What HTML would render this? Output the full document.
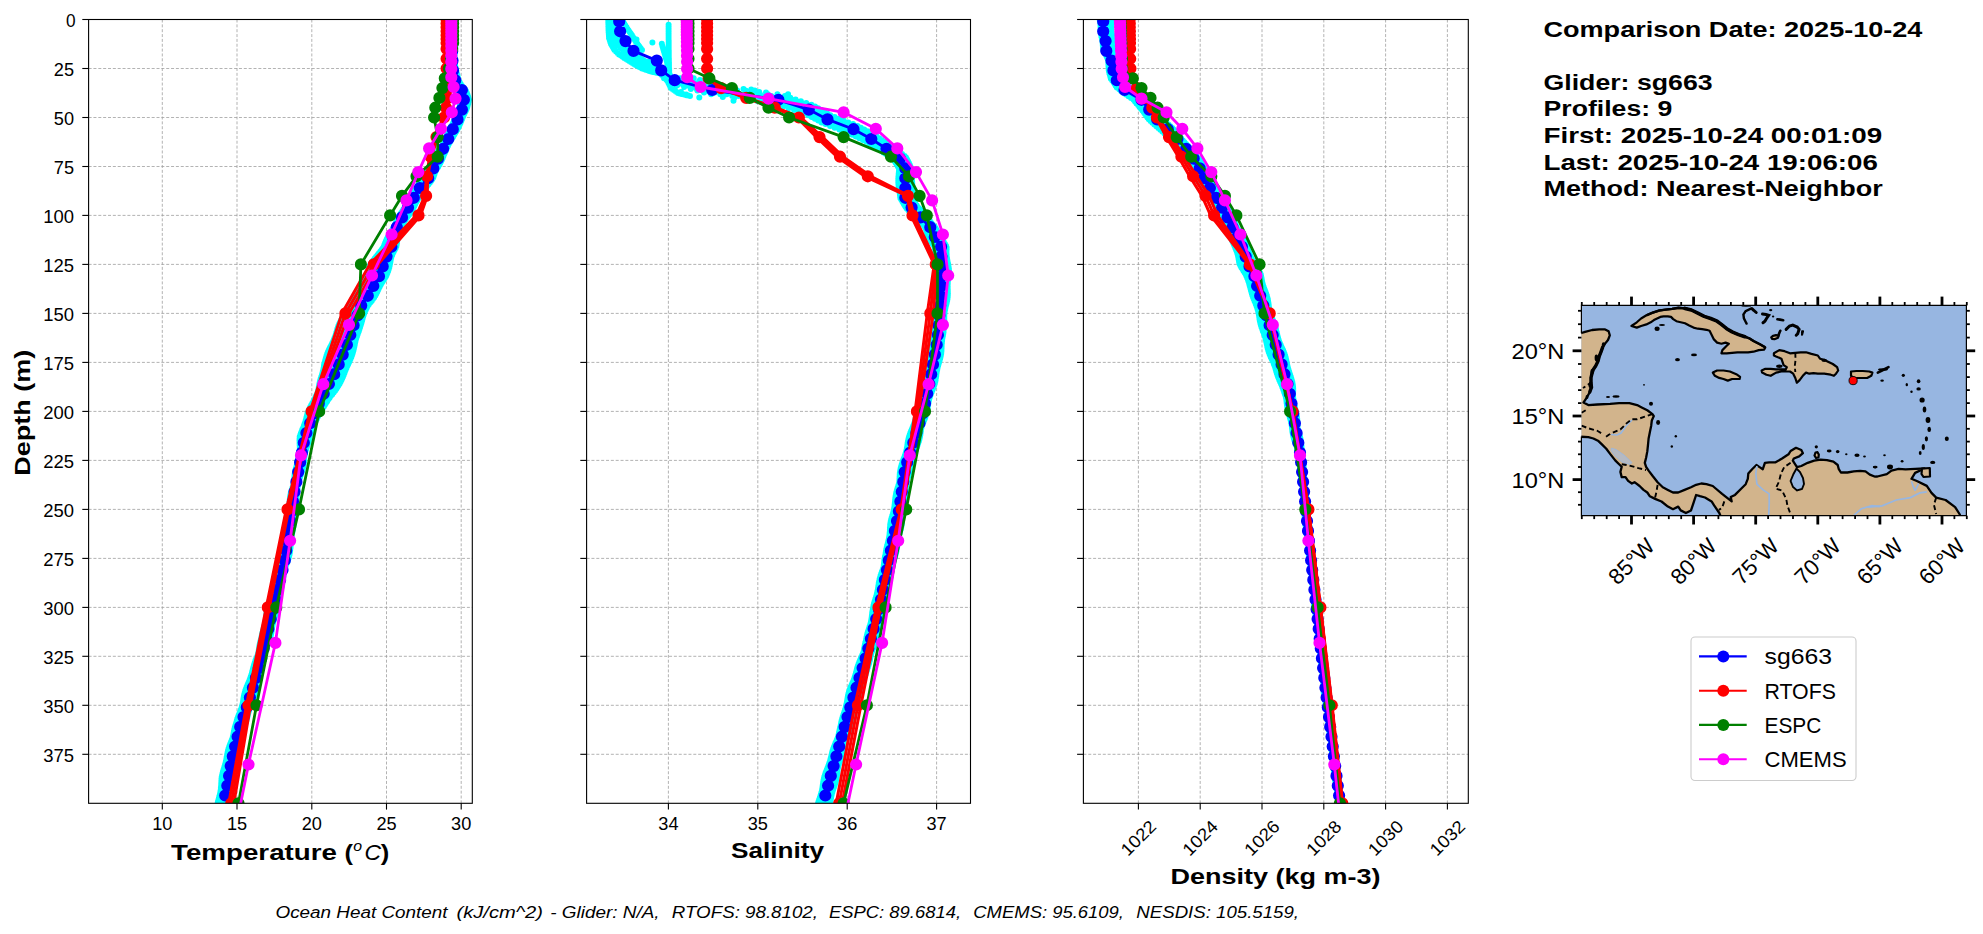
<!DOCTYPE html><html><head><meta charset="utf-8"><style>html,body{margin:0;padding:0;background:#fff;overflow:hidden}svg{display:block}text{font-family:"Liberation Sans", sans-serif;fill:#000}.g{stroke:#a0a0a0;stroke-width:0.8;stroke-dasharray:3 1.85;fill:none}.sp{fill:none;stroke:#000;stroke-width:1.1}.tk{stroke:#000;stroke-width:1.1}</style></head><body>
<svg width="1983" height="934" viewBox="0 0 1983 934">
<defs>
<clipPath id="c1"><rect x="88.6" y="19.5" width="383.7" height="783.8"/></clipPath>
<clipPath id="c2"><rect x="586.6" y="19.5" width="383.9" height="783.8"/></clipPath>
<clipPath id="c3"><rect x="1083.4" y="19.5" width="384.9" height="783.8"/></clipPath>
</defs>
<line x1="162.3" y1="19.5" x2="162.3" y2="803.3" class="g"/>
<line x1="237" y1="19.5" x2="237" y2="803.3" class="g"/>
<line x1="311.8" y1="19.5" x2="311.8" y2="803.3" class="g"/>
<line x1="386.5" y1="19.5" x2="386.5" y2="803.3" class="g"/>
<line x1="461.2" y1="19.5" x2="461.2" y2="803.3" class="g"/>
<line x1="88.6" y1="68.5" x2="472.3" y2="68.5" class="g"/>
<line x1="88.6" y1="117.5" x2="472.3" y2="117.5" class="g"/>
<line x1="88.6" y1="166.5" x2="472.3" y2="166.5" class="g"/>
<line x1="88.6" y1="215.4" x2="472.3" y2="215.4" class="g"/>
<line x1="88.6" y1="264.4" x2="472.3" y2="264.4" class="g"/>
<line x1="88.6" y1="313.4" x2="472.3" y2="313.4" class="g"/>
<line x1="88.6" y1="362.4" x2="472.3" y2="362.4" class="g"/>
<line x1="88.6" y1="411.4" x2="472.3" y2="411.4" class="g"/>
<line x1="88.6" y1="460.4" x2="472.3" y2="460.4" class="g"/>
<line x1="88.6" y1="509.4" x2="472.3" y2="509.4" class="g"/>
<line x1="88.6" y1="558.4" x2="472.3" y2="558.4" class="g"/>
<line x1="88.6" y1="607.4" x2="472.3" y2="607.4" class="g"/>
<line x1="88.6" y1="656.3" x2="472.3" y2="656.3" class="g"/>
<line x1="88.6" y1="705.3" x2="472.3" y2="705.3" class="g"/>
<line x1="88.6" y1="754.3" x2="472.3" y2="754.3" class="g"/>
<g clip-path="url(#c1)">
<path d="M449.1 20.5h0M449.4 22.2h0M449.6 24h0M449.8 25.8h0M449.9 27.5h0M449.9 29.3h0M449.8 31.1h0M449.7 32.8h0M449.5 34.6h0M449.4 36.4h0M449.3 38.1h0M449.2 39.9h0M449.3 41.6h0M449.4 43.4h0M449.5 45.2h0M449.7 46.9h0M449.9 48.7h0M450.1 50.5h0M450.2 52.2h0M450.3 54h0M450.3 55.8h0M450.1 57.5h0M450 59.3h0M449.7 61h0M449.5 62.8h0M449.3 64.6h0M449.2 66.3h0M449.1 68.1h0M449.1 69.9h0M449.3 71.6h0M449.8 73.4h0M450.3 75.1h0M450.9 76.9h0M451.4 78.7h0M452 80.4h0M453.3 82.2h0M454.5 84h0M455.6 85.7h0M456.7 87.5h0M457.8 89.3h0M458.4 91h0M458.6 92.8h0M458.9 94.5h0M459.2 96.3h0M459.6 98.1h0M460.1 99.8h0M460 101.6h0M459.9 103.4h0M459.9 105.1h0M459.8 106.9h0M459.7 108.7h0M459.3 110.4h0M458.6 112.2h0M457.9 113.9h0M457 115.7h0M456.1 117.5h0M455.1 119.2h0M454.2 121h0M453.2 122.8h0M452.3 124.5h0M451.4 126.3h0M450.7 128.1h0M449.9 129.8h0M449.3 131.6h0M448.6 133.3h0M447.9 135.1h0M447.2 136.9h0M446.4 138.6h0M445.4 140.4h0M444.3 142.2h0M443.1 143.9h0M441.9 145.7h0M440.6 147.5h0M439.4 149.2h0M438.2 151h0M437.1 152.7h0M436 154.5h0M435.1 156.3h0M434.2 158h0M433.4 159.8h0M432.6 161.6h0M431.9 163.3h0M431.1 165.1h0M430.3 166.9h0M429.4 168.6h0M428.4 170.4h0M427.4 172.1h0M426.3 173.9h0M425.2 175.7h0M424.1 177.4h0M422.8 179.2h0M421.2 181h0M419.8 182.7h0M418.4 184.5h0M417.1 186.3h0M415.8 188h0M415 189.8h0M414.2 191.5h0M413.4 193.3h0M412.5 195.1h0M411.5 196.8h0M410.5 198.6h0M409.4 200.4h0M408.2 202.1h0M407.1 203.9h0M405.9 205.7h0M404.7 207.4h0M403.5 209.2h0M402.5 210.9h0M401.4 212.7h0M400.5 214.5h0M399.5 216.2h0M398.6 218h0M397.8 219.8h0M397 221.5h0M396.1 223.3h0M395.1 225.1h0M394 226.8h0M393 228.6h0M392 230.3h0M391 232.1h0M390 233.9h0M388.9 235.6h0M387.6 237.4h0M386.7 239.2h0M385.9 240.9h0M385.2 242.7h0M384.5 244.5h0M383.9 246.2h0M382.9 248h0M381.6 249.7h0M380.3 251.5h0M378.9 253.3h0M377.5 255h0M376 256.8h0M374.7 258.6h0M373.4 260.3h0M372.1 262.1h0M370.8 263.8h0M369.9 265.6h0M369.2 267.4h0M368.6 269.1h0M368 270.9h0M367.5 272.7h0M367.1 274.4h0M366.6 276.2h0M365.8 278h0M364.9 279.7h0M363.9 281.5h0M362.9 283.2h0M361.8 285h0M360.6 286.8h0M359.5 288.5h0M358.3 290.3h0M357.1 292.1h0M356 293.8h0M354.9 295.6h0M353.7 297.4h0M352.6 299.1h0M351.5 300.9h0M350.4 302.6h0M349.3 304.4h0M348.4 306.2h0M347.7 307.9h0M346.9 309.7h0M346 311.5h0M345.1 313.2h0M344.1 315h0M343.1 316.8h0M342.1 318.5h0M341.1 320.3h0M340.2 322h0M339.3 323.8h0M338.5 325.6h0M337.9 327.3h0M337.3 329.1h0M336.8 330.9h0M336.3 332.6h0M335.8 334.4h0M335.2 336.2h0M334.5 337.9h0M333.8 339.7h0M333.1 341.4h0M332.2 343.2h0M331.4 345h0M330.4 346.7h0M329.5 348.5h0M328.7 350.3h0M327.9 352h0M327.2 353.8h0M326.6 355.6h0M326.1 357.3h0M325.6 359.1h0M325.1 360.8h0M324.7 362.6h0M324.1 364.4h0M323.9 366.1h0M323.6 367.9h0M323.3 369.7h0M322.8 371.4h0M322.4 373.2h0M321.9 375h0M321.3 376.7h0M320.7 378.5h0M320.2 380.2h0M319.8 382h0M319.4 383.8h0M319.1 385.5h0M318.8 387.3h0M318.5 389.1h0M318.1 390.8h0M317.6 392.6h0M316.8 394.4h0M316 396.1h0M315.2 397.9h0M314.2 399.6h0M313.3 401.4h0M312.3 403.2h0M311.3 404.9h0M310.4 406.7h0M309.6 408.5h0M308.8 410.2h0M308.1 412h0M307.4 413.8h0M307 415.5h0M306.5 417.3h0M306.1 419h0M305.6 420.8h0M305.1 422.6h0M304.4 424.3h0M303.8 426.1h0M303.1 427.9h0M302.3 429.6h0M301.6 431.4h0M300.9 433.2h0M300.3 434.9h0M299.7 436.7h0M299.6 438.4h0M299.5 440.2h0M299.6 442h0M299.6 443.7h0M299.7 445.5h0M299.8 447.3h0M299.8 449h0M299.8 450.8h0M299.5 452.5h0M299.2 454.3h0M298.8 456.1h0M298.4 457.8h0M298 459.6h0M297.5 461.4h0M297.1 463.1h0M296.8 464.9h0M296.5 466.7h0M296.3 468.4h0M296.1 470.2h0M296 471.9h0M295.9 473.7h0M295.7 475.5h0M295.5 477.2h0M295.1 479h0M294.7 480.8h0M294.3 482.5h0M293.7 484.3h0M293.1 486.1h0M292.5 487.8h0M291.9 489.6h0M291.3 491.3h0M290.8 493.1h0M290.4 494.9h0M290.1 496.6h0M289.9 498.4h0M289.7 500.2h0M289.6 501.9h0M289.5 503.7h0M289.3 505.5h0M289 507.2h0M288.7 509h0M288.4 510.7h0M288 512.5h0M287.5 514.3h0M287.1 516h0M286.7 517.8h0M286.3 519.6h0M286 521.3h0M285.9 523.1h0M285.8 524.9h0M285.7 526.6h0M285.7 528.4h0M285.8 530.1h0M285.8 531.9h0M285.8 533.7h0M285.7 535.4h0M285.6 537.2h0M285.4 539h0M285.1 540.7h0M284.8 542.5h0M284.4 544.3h0M284.1 546h0M283.8 547.8h0M283.5 549.5h0M283.2 551.3h0M283 553.1h0M282.9 554.8h0M282.8 556.6h0M282.7 558.4h0M282.5 560.1h0M282.2 561.9h0M281.8 563.7h0M281.2 565.4h0M280.6 567.2h0M279.9 568.9h0M279.2 570.7h0M278.4 572.5h0M277.7 574.2h0M276.9 576h0M276.3 577.8h0M275.7 579.5h0M275.2 581.3h0M274.7 583.1h0M274.3 584.8h0M273.9 586.6h0M273.5 588.3h0M273.1 590.1h0M272.6 591.9h0M272.1 593.6h0M271.5 595.4h0M270.8 597.2h0M270.1 598.9h0M269.5 600.7h0M268.8 602.5h0M268.2 604.2h0M267.6 606h0M267.2 607.7h0M266.9 609.5h0M266.6 611.3h0M266.5 613h0M266.3 614.8h0M266.1 616.6h0M266 618.3h0M265.7 620.1h0M265.4 621.9h0M265 623.6h0M264.5 625.4h0M264 627.1h0M263.5 628.9h0M263 630.7h0M262.5 632.4h0M262 634.2h0M261.7 636h0M261.4 637.7h0M261.1 639.5h0M260.9 641.2h0M260.6 643h0M260.4 644.8h0M260.1 646.5h0M259.7 648.3h0M259.3 650.1h0M258.8 651.8h0M258.1 653.6h0M257.5 655.4h0M256.8 657.1h0M256.1 658.9h0M255.4 660.6h0M254.8 662.4h0M254.2 664.2h0M253.7 665.9h0M253.2 667.7h0M252.8 669.5h0M252.3 671.2h0M251.9 673h0M251.4 674.8h0M250.8 676.5h0M250.2 678.3h0M249.6 680h0M248.9 681.8h0M248.1 683.6h0M247.4 685.3h0M246.6 687.1h0M245.9 688.9h0M245.3 690.6h0M244.8 692.4h0M244.3 694.2h0M243.9 695.9h0M243.6 697.7h0M243.3 699.4h0M243.1 701.2h0M242.8 703h0M242.4 704.7h0M241.9 706.5h0M241.4 708.3h0M240.7 710h0M240.1 711.8h0M239.4 713.6h0M238.6 715.3h0M238 717.1h0M237.3 718.8h0M236.8 720.6h0M236.3 722.4h0M235.8 724.1h0M235.5 725.9h0M235.2 727.7h0M234.9 729.4h0M234.6 731.2h0M234.2 733h0M233.8 734.7h0M233.2 736.5h0M232.6 738.2h0M231.8 740h0M231.1 741.8h0M230.4 743.5h0M229.7 745.3h0M229.1 747.1h0M228.5 748.8h0M228 750.6h0M227.6 752.4h0M227.3 754.1h0M227 755.9h0M226.6 757.6h0M226.3 759.4h0M225.9 761.2h0M225.5 762.9h0M225 764.7h0M224.5 766.5h0M224 768.2h0M223.4 770h0M222.9 771.8h0M222.5 773.5h0M222.1 775.3h0M221.7 777h0M221.5 778.8h0M221.4 780.6h0M221.3 782.3h0M221.2 784.1h0M221.1 785.9h0M220.9 787.6h0M220.8 789.4h0M220.5 791.2h0M220.2 792.9h0M219.8 794.7h0M219.3 796.4h0M218.9 798.2h0M218.4 800h0M217.9 801.7h0M217.6 803.5h0M455.9 20.5h0M455.7 22.2h0M455.5 24h0M455.3 25.8h0M455.2 27.5h0M455.2 29.3h0M455.2 31.1h0M455.2 32.8h0M455.3 34.6h0M455.4 36.4h0M455.5 38.1h0M455.6 39.9h0M455.6 41.6h0M455.6 43.4h0M455.5 45.2h0M455.3 46.9h0M455.1 48.7h0M454.9 50.5h0M454.6 52.2h0M454.5 54h0M454.3 55.8h0M454.3 57.5h0M454.3 59.3h0M454.5 61h0M454.7 62.8h0M454.9 64.6h0M455.2 66.3h0M455.4 68.1h0M455.6 69.9h0M456 71.6h0M456.4 73.4h0M456.8 75.1h0M457.1 76.9h0M457.4 78.7h0M457.9 80.4h0M459.1 82.2h0M460.5 84h0M461.8 85.7h0M463.3 87.5h0M464.8 89.3h0M466 91h0M466.7 92.8h0M467.4 94.5h0M468 96.3h0M468.5 98.1h0M469 99.8h0M468.7 101.6h0M468.3 103.4h0M467.8 105.1h0M467.3 106.9h0M466.7 108.7h0M466 110.4h0M465.1 112.2h0M464.2 113.9h0M463.4 115.7h0M462.7 117.5h0M462 119.2h0M461.3 121h0M460.6 122.8h0M459.8 124.5h0M459 126.3h0M458.1 128.1h0M457.2 129.8h0M456.2 131.6h0M455.1 133.3h0M454.1 135.1h0M453 136.9h0M451.9 138.6h0M450.8 140.4h0M449.8 142.2h0M448.8 143.9h0M448 145.7h0M447.2 147.5h0M446.4 149.2h0M445.7 151h0M444.9 152.7h0M444.1 154.5h0M443.3 156.3h0M442.4 158h0M441.5 159.8h0M440.6 161.6h0M439.6 163.3h0M438.6 165.1h0M437.7 166.9h0M436.8 168.6h0M436 170.4h0M435.2 172.1h0M434.5 173.9h0M433.9 175.7h0M433.3 177.4h0M432.3 179.2h0M431.1 181h0M429.8 182.7h0M428.4 184.5h0M427 186.3h0M425.5 188h0M424.3 189.8h0M423.1 191.5h0M421.8 193.3h0M420.6 195.1h0M419.4 196.8h0M418.3 198.6h0M417.3 200.4h0M416.3 202.1h0M415.4 203.9h0M414.5 205.7h0M413.6 207.4h0M412.6 209.2h0M411.6 210.9h0M410.4 212.7h0M409.3 214.5h0M408 216.2h0M406.7 218h0M405.5 219.8h0M404.3 221.5h0M403.1 223.3h0M402 225.1h0M400.9 226.8h0M400.1 228.6h0M399.5 230.3h0M398.9 232.1h0M398.3 233.9h0M397.8 235.6h0M397.4 237.4h0M397.4 239.2h0M397.2 240.9h0M397 242.7h0M396.7 244.5h0M396.4 246.2h0M395.7 248h0M394.7 249.7h0M393.8 251.5h0M392.9 253.3h0M392.2 255h0M391.5 256.8h0M391 258.6h0M390.7 260.3h0M390.4 262.1h0M390 263.8h0M389.7 265.6h0M389.3 267.4h0M388.8 269.1h0M388.2 270.9h0M387.5 272.7h0M386.8 274.4h0M386 276.2h0M384.9 278h0M383.8 279.7h0M382.7 281.5h0M381.6 283.2h0M380.6 285h0M379.7 286.8h0M378.8 288.5h0M378 290.3h0M377.2 292.1h0M376.3 293.8h0M375.4 295.6h0M374.2 297.4h0M373 299.1h0M371.7 300.9h0M370.3 302.6h0M368.8 304.4h0M367.6 306.2h0M366.7 307.9h0M365.8 309.7h0M365 311.5h0M364.3 313.2h0M363.7 315h0M363.1 316.8h0M362.6 318.5h0M362.2 320.3h0M361.7 322h0M361.2 323.8h0M360.6 325.6h0M360.1 327.3h0M359.5 329.1h0M358.9 330.9h0M358.3 332.6h0M357.6 334.4h0M357 336.2h0M356.4 337.9h0M355.8 339.7h0M355.4 341.4h0M355 343.2h0M354.7 345h0M354.3 346.7h0M353.9 348.5h0M353.5 350.3h0M353 352h0M352.5 353.8h0M351.9 355.6h0M351.3 357.3h0M350.5 359.1h0M349.8 360.8h0M349 362.6h0M348.1 364.4h0M347.3 366.1h0M346.5 367.9h0M345.7 369.7h0M345 371.4h0M344.4 373.2h0M343.7 375h0M343 376.7h0M342.2 378.5h0M341.4 380.2h0M340.5 382h0M339.6 383.8h0M338.5 385.5h0M337.4 387.3h0M336.3 389.1h0M335.1 390.8h0M333.7 392.6h0M332.2 394.4h0M330.8 396.1h0M329.5 397.9h0M328.2 399.6h0M327.1 401.4h0M325.9 403.2h0M324.8 404.9h0M323.8 406.7h0M322.6 408.5h0M321.5 410.2h0M320.3 412h0M319.3 413.8h0M318.4 415.5h0M317.4 417.3h0M316.5 419h0M315.5 420.8h0M314.6 422.6h0M313.8 424.3h0M313.1 426.1h0M312.4 427.9h0M311.8 429.6h0M311.3 431.4h0M310.8 433.2h0M310.2 434.9h0M309.6 436.7h0M309.3 438.4h0M309 440.2h0M308.5 442h0M308 443.7h0M307.4 445.5h0M306.8 447.3h0M306.2 449h0M305.6 450.8h0M305.2 452.5h0M304.9 454.3h0M304.6 456.1h0M304.4 457.8h0M304.2 459.6h0M304 461.4h0M303.8 463.1h0M303.6 464.9h0M303.2 466.7h0M302.8 468.4h0M302.4 470.2h0M301.8 471.9h0M301.2 473.7h0M300.6 475.5h0M300 477.2h0M299.4 479h0M298.8 480.8h0M298.4 482.5h0M298 484.3h0M297.8 486.1h0M297.5 487.8h0M297.3 489.6h0M297.1 491.3h0M296.9 493.1h0M296.7 494.9h0M296.4 496.6h0M296.1 498.4h0M295.7 500.2h0M295.3 501.9h0M294.9 503.7h0M294.6 505.5h0M294.2 507.2h0M294 509h0M293.8 510.7h0M293.7 512.5h0M293.6 514.3h0M293.7 516h0M293.7 517.8h0M293.8 519.6h0M293.8 521.3h0M293.7 523.1h0M293.6 524.9h0M293.4 526.6h0M293.1 528.4h0M292.8 530.1h0M292.4 531.9h0M292 533.7h0M291.7 535.4h0M291.4 537.2h0M291.1 539h0M290.9 540.7h0M290.8 542.5h0M290.7 544.3h0M290.6 546h0M290.5 547.8h0M290.3 549.5h0M290.1 551.3h0M289.8 553.1h0M289.5 554.8h0M289 556.6h0M288.5 558.4h0M288 560.1h0M287.3 561.9h0M286.6 563.7h0M285.9 565.4h0M285.4 567.2h0M284.9 568.9h0M284.5 570.7h0M284.2 572.5h0M283.9 574.2h0M283.6 576h0M283.3 577.8h0M282.9 579.5h0M282.5 581.3h0M282 583.1h0M281.5 584.8h0M280.9 586.6h0M280.3 588.3h0M279.8 590.1h0M279.2 591.9h0M278.8 593.6h0M278.4 595.4h0M278.1 597.2h0M277.8 598.9h0M277.7 600.7h0M277.5 602.5h0M277.4 604.2h0M277.2 606h0M277 607.7h0M276.7 609.5h0M276.4 611.3h0M275.9 613h0M275.4 614.8h0M274.9 616.6h0M274.3 618.3h0M273.8 620.1h0M273.3 621.9h0M272.9 623.6h0M272.5 625.4h0M272.2 627.1h0M271.9 628.9h0M271.7 630.7h0M271.4 632.4h0M271.1 634.2h0M270.7 636h0M270.3 637.7h0M269.7 639.5h0M269.1 641.2h0M268.5 643h0M267.8 644.8h0M267 646.5h0M266.3 648.3h0M265.7 650.1h0M265.1 651.8h0M264.7 653.6h0M264.2 655.4h0M263.9 657.1h0M263.6 658.9h0M263.3 660.6h0M263 662.4h0M262.6 664.2h0M262.2 665.9h0M261.6 667.7h0M261 669.5h0M260.3 671.2h0M259.6 673h0M258.9 674.8h0M258.2 676.5h0M257.6 678.3h0M257.1 680h0M256.7 681.8h0M256.3 683.6h0M256 685.3h0M255.8 687.1h0M255.5 688.9h0M255.3 690.6h0M255 692.4h0M254.6 694.2h0M254.1 695.9h0M253.6 697.7h0M253 699.4h0M252.3 701.2h0M251.7 703h0M251 704.7h0M250.4 706.5h0M249.7 708.3h0M249.2 710h0M248.7 711.8h0M248.2 713.6h0M247.8 715.3h0M247.4 717.1h0M246.9 718.8h0M246.4 720.6h0M245.7 722.4h0M245 724.1h0M244.3 725.9h0M243.6 727.7h0M242.9 729.4h0M242.1 731.2h0M241.4 733h0M240.7 734.7h0M240 736.5h0M239.5 738.2h0M239 740h0M238.6 741.8h0M238.2 743.5h0M237.9 745.3h0M237.6 747.1h0M237.3 748.8h0M236.9 750.6h0M236.4 752.4h0M235.9 754.1h0M235.4 755.9h0M234.8 757.6h0M234.2 759.4h0M233.7 761.2h0M233.2 762.9h0M232.8 764.7h0M232.6 766.5h0M232.5 768.2h0M232.4 770h0M232.4 771.8h0M232.4 773.5h0M232.4 775.3h0M232.3 777h0M232.2 778.8h0M232 780.6h0M231.7 782.3h0M231.3 784.1h0M230.8 785.9h0M230.3 787.6h0M229.9 789.4h0M229.4 791.2h0M229 792.9h0M228.7 794.7h0M228.4 796.4h0M228.2 798.2h0M228 800h0M227.8 801.7h0M227.6 803.5h0M449.8 20.5h0M449.9 22.2h0M450 24h0M450.1 25.8h0M450.1 27.5h0M450.1 29.3h0M450.1 31.1h0M450 32.8h0M449.8 34.6h0M449.6 36.4h0M449.3 38.1h0M449 39.9h0M448.8 41.6h0M448.7 43.4h0M448.7 45.2h0M448.7 46.9h0M448.9 48.7h0M449.1 50.5h0M449.4 52.2h0M449.6 54h0M449.9 55.8h0M450.1 57.5h0M450.3 59.3h0M450.4 61h0M450.5 62.8h0M450.5 64.6h0M450.5 66.3h0M450.5 68.1h0M450.5 69.9h0M450.8 71.6h0M451.3 73.4h0M451.8 75.1h0M452.4 76.9h0M453 78.7h0M453.8 80.4h0M455.3 82.2h0M456.7 84h0M458.1 85.7h0M459.4 87.5h0M460.7 89.3h0M461.4 91h0M461.6 92.8h0M461.7 94.5h0M461.9 96.3h0M462 98.1h0M462.2 99.8h0M461.7 101.6h0M461.3 103.4h0M460.9 105.1h0M460.6 106.9h0M460.4 108.7h0M459.9 110.4h0M459.2 112.2h0M458.4 113.9h0M457.6 115.7h0M456.6 117.5h0M455.7 119.2h0M454.6 121h0M453.5 122.8h0M452.4 124.5h0M451.3 126.3h0M450.2 128.1h0M449.3 129.8h0M448.5 131.6h0M447.7 133.3h0M447 135.1h0M446.4 136.9h0M445.8 138.6h0M445.1 140.4h0M444.3 142.2h0M443.5 143.9h0M442.6 145.7h0M441.7 147.5h0M440.7 149.2h0M439.6 151h0M438.6 152.7h0M437.6 154.5h0M436.7 156.3h0M435.8 158h0M435 159.8h0M434.3 161.6h0M433.6 163.3h0M433 165.1h0M432.4 166.9h0M431.8 168.6h0M431.1 170.4h0M430.3 172.1h0M429.4 173.9h0M428.4 175.7h0M427.4 177.4h0M425.9 179.2h0M424.2 181h0M422.5 182.7h0M420.8 184.5h0M419.1 186.3h0M417.5 188h0M416.4 189.8h0M415.4 191.5h0M414.4 193.3h0M413.4 195.1h0M412.4 196.8h0M411.4 198.6h0M410.3 200.4h0M409.1 202.1h0M407.9 203.9h0M406.6 205.7h0M405.3 207.4h0M403.9 209.2h0M402.6 210.9h0M401.3 212.7h0M400.1 214.5h0M398.9 216.2h0M397.9 218h0M397.1 219.8h0M396.3 221.5h0M395.6 223.3h0M394.8 225.1h0M394.1 226.8h0M393.4 228.6h0M392.8 230.3h0M392.1 232.1h0M391.3 233.9h0M390.4 235.6h0M389.3 237.4h0M388.6 239.2h0M387.8 240.9h0M387.2 242.7h0M386.6 244.5h0M386.1 246.2h0M385.3 248h0M384.2 249.7h0M383.2 251.5h0M382.2 253.3h0M381.1 255h0M380 256.8h0M379 258.6h0M377.9 260.3h0M376.7 262.1h0M375.5 263.8h0M374.4 265.6h0M373.5 267.4h0M372.6 269.1h0M371.7 270.9h0M370.9 272.7h0M370.2 274.4h0M369.5 276.2h0M368.5 278h0M367.6 279.7h0M366.6 281.5h0M365.5 283.2h0M364.4 285h0M363.3 286.8h0M362.1 288.5h0M360.8 290.3h0M359.5 292.1h0M358.2 293.8h0M356.8 295.6h0M355.4 297.4h0M354 299.1h0M352.7 300.9h0M351.5 302.6h0M350.3 304.4h0M349.4 306.2h0M348.9 307.9h0M348.4 309.7h0M347.8 311.5h0M347.2 313.2h0M346.6 315h0M345.9 316.8h0M345.1 318.5h0M344.3 320.3h0M343.5 322h0M342.7 323.8h0M341.9 325.6h0M341.3 327.3h0M340.8 329.1h0M340.3 330.9h0M339.9 332.6h0M339.6 334.4h0M339.3 336.2h0M338.9 337.9h0M338.5 339.7h0M338 341.4h0M337.4 343.2h0M336.8 345h0M335.9 346.7h0M335 348.5h0M334.1 350.3h0M333.1 352h0M332.1 353.8h0M331.2 355.6h0M330.4 357.3h0M329.7 359.1h0M329 360.8h0M328.3 362.6h0M327.7 364.4h0M327.4 366.1h0M327 367.9h0M326.6 369.7h0M326.1 371.4h0M325.5 373.2h0M324.9 375h0M324 376.7h0M323.2 378.5h0M322.4 380.2h0M321.6 382h0M320.9 383.8h0M320.2 385.5h0M319.7 387.3h0M319.2 389.1h0M318.8 390.8h0M318.3 392.6h0M317.7 394.4h0M317.1 396.1h0M316.4 397.9h0M315.7 399.6h0M315 401.4h0M314.1 403.2h0M313.3 404.9h0M312.4 406.7h0M311.5 408.5h0M310.7 410.2h0M309.9 412h0M309.2 413.8h0M308.8 415.5h0M308.4 417.3h0M308.1 419h0M307.7 420.8h0M307.4 422.6h0M307.1 424.3h0M306.7 426.1h0M306.2 427.9h0M305.6 429.6h0M305 431.4h0M304.3 433.2h0M303.5 434.9h0M302.7 436.7h0M302.3 438.4h0M301.9 440.2h0M301.6 442h0M301.3 443.7h0M301.1 445.5h0M301 447.3h0M300.9 449h0M300.7 450.8h0M300.5 452.5h0M300.2 454.3h0M299.8 456.1h0M299.3 457.8h0M298.8 459.6h0M298.2 461.4h0M297.6 463.1h0M296.9 464.9h0M296.4 466.7h0M295.8 468.4h0M295.4 470.2h0M295 471.9h0M294.7 473.7h0M294.5 475.5h0M294.4 477.2h0M294.2 479h0M294.1 480.8h0M293.9 482.5h0M293.6 484.3h0M293.3 486.1h0M292.9 487.8h0M292.5 489.6h0M292 491.3h0M291.6 493.1h0M291.2 494.9h0M290.9 496.6h0M290.7 498.4h0M290.6 500.2h0M290.5 501.9h0M290.5 503.7h0M290.6 505.5h0M290.6 507.2h0M290.6 509h0M290.6 510.7h0M290.5 512.5h0M290.3 514.3h0M290 516h0M289.6 517.8h0M289.2 519.6h0M288.8 521.3h0M288.4 523.1h0M288 524.9h0M287.7 526.6h0M287.4 528.4h0M287.2 530.1h0M287.1 531.9h0M286.9 533.7h0M286.8 535.4h0M286.7 537.2h0M286.4 539h0M286.2 540.7h0M285.8 542.5h0M285.4 544.3h0M284.9 546h0M284.3 547.8h0M283.8 549.5h0M283.2 551.3h0M282.7 553.1h0M282.3 554.8h0M281.9 556.6h0M281.7 558.4h0M281.5 560.1h0M281.2 561.9h0M280.9 563.7h0M280.5 565.4h0M280.2 567.2h0M279.8 568.9h0M279.3 570.7h0M278.8 572.5h0M278.2 574.2h0M277.7 576h0M277.1 577.8h0M276.5 579.5h0M276 581.3h0M275.5 583.1h0M275.2 584.8h0M274.9 586.6h0M274.6 588.3h0M274.5 590.1h0M274.3 591.9h0M274.1 593.6h0M273.8 595.4h0M273.5 597.2h0M273.1 598.9h0M272.6 600.7h0M272 602.5h0M271.4 604.2h0M270.7 606h0M270.1 607.7h0M269.5 609.5h0M269 611.3h0M268.6 613h0M268.2 614.8h0M267.9 616.6h0M267.6 618.3h0M267.2 620.1h0M266.9 621.9h0M266.5 623.6h0M266.1 625.4h0M265.5 627.1h0M264.9 628.9h0M264.3 630.7h0M263.5 632.4h0M262.8 634.2h0M262.1 636h0M261.5 637.7h0M260.9 639.5h0M260.4 641.2h0M260 643h0M259.6 644.8h0M259.3 646.5h0M259.1 648.3h0M258.8 650.1h0M258.5 651.8h0M258.1 653.6h0M257.7 655.4h0M257.3 657.1h0M256.7 658.9h0M256.2 660.6h0M255.6 662.4h0M255.1 664.2h0M254.6 665.9h0M254.1 667.7h0M253.6 669.5h0M253.3 671.2h0M253 673h0M252.7 674.8h0M252.5 676.5h0M252.2 678.3h0M251.9 680h0M251.5 681.8h0M251 683.6h0M250.5 685.3h0M249.9 687.1h0M249.2 688.9h0M248.5 690.6h0M247.8 692.4h0M247.1 694.2h0M246.5 695.9h0M245.9 697.7h0M245.4 699.4h0M245 701.2h0M244.5 703h0M244.1 704.7h0M243.6 706.5h0M243.1 708.3h0M242.5 710h0M241.8 711.8h0M241 713.6h0M240.1 715.3h0M239.3 717.1h0M238.3 718.8h0M237.4 720.6h0M236.6 722.4h0M235.8 724.1h0M235.2 725.9h0M234.7 727.7h0M234.3 729.4h0M233.9 731.2h0M233.6 733h0M233.3 734.7h0M232.9 736.5h0M232.5 738.2h0M232.1 740h0M231.5 741.8h0M231 743.5h0M230.4 745.3h0M229.8 747.1h0M229.3 748.8h0M228.8 750.6h0M228.4 752.4h0M228.1 754.1h0M227.8 755.9h0M227.7 757.6h0M227.5 759.4h0M227.4 761.2h0M227.3 762.9h0M227.2 764.7h0M227 766.5h0M226.8 768.2h0M226.5 770h0M226.2 771.8h0M225.8 773.5h0M225.3 775.3h0M224.9 777h0M224.4 778.8h0M224.1 780.6h0M223.7 782.3h0M223.4 784.1h0M223.2 785.9h0M222.9 787.6h0M222.7 789.4h0M222.4 791.2h0M222.1 792.9h0M221.7 794.7h0M221.3 796.4h0M220.7 798.2h0M220.1 800h0M219.5 801.7h0M218.8 803.5h0M453.9 20.5h0M453.8 22.2h0M453.6 24h0M453.4 25.8h0M453.2 27.5h0M453 29.3h0M452.8 31.1h0M452.8 32.8h0M452.8 34.6h0M452.9 36.4h0M453.1 38.1h0M453.3 39.9h0M453.6 41.6h0M453.9 43.4h0M454.2 45.2h0M454.4 46.9h0M454.6 48.7h0M454.7 50.5h0M454.7 52.2h0M454.7 54h0M454.6 55.8h0M454.6 57.5h0M454.6 59.3h0M454.6 61h0M454.8 62.8h0M455 64.6h0M455.3 66.3h0M455.6 68.1h0M455.9 69.9h0M456.4 71.6h0M456.9 73.4h0M457.4 75.1h0M457.8 76.9h0M458.2 78.7h0M458.6 80.4h0M459.7 82.2h0M460.7 84h0M461.8 85.7h0M462.8 87.5h0M464 89.3h0M464.7 91h0M465.1 92.8h0M465.5 94.5h0M465.9 96.3h0M466.4 98.1h0M466.8 99.8h0M466.5 101.6h0M466.2 103.4h0M465.8 105.1h0M465.3 106.9h0M464.7 108.7h0M464 110.4h0M462.9 112.2h0M461.9 113.9h0M460.9 115.7h0M460 117.5h0M459.2 119.2h0M458.5 121h0M457.8 122.8h0M457.2 124.5h0M456.6 126.3h0M456.1 128.1h0M455.5 129.8h0M454.9 131.6h0M454.2 133.3h0M453.5 135.1h0M452.6 136.9h0M451.8 138.6h0M450.8 140.4h0M449.8 142.2h0M448.8 143.9h0M447.8 145.7h0M447 147.5h0M446.2 149.2h0M445.5 151h0M444.8 152.7h0M444.1 154.5h0M443.4 156.3h0M442.7 158h0M441.9 159.8h0M441.1 161.6h0M440.2 163.3h0M439.2 165.1h0M438.1 166.9h0M437 168.6h0M435.9 170.4h0M434.7 172.1h0M433.6 173.9h0M432.6 175.7h0M431.7 177.4h0M430.4 179.2h0M429 181h0M427.6 182.7h0M426.2 184.5h0M424.8 186.3h0M423.3 188h0M422.2 189.8h0M421 191.5h0M419.7 193.3h0M418.4 195.1h0M417.1 196.8h0M415.8 198.6h0M414.6 200.4h0M413.4 202.1h0M412.4 203.9h0M411.4 205.7h0M410.5 207.4h0M409.6 209.2h0M408.8 210.9h0M408 212.7h0M407.2 214.5h0M406.3 216.2h0M405.4 218h0M404.5 219.8h0M403.6 221.5h0M402.6 223.3h0M401.6 225.1h0M400.5 226.8h0M399.7 228.6h0M399 230.3h0M398.4 232.1h0M397.8 233.9h0M397.3 235.6h0M396.9 237.4h0M396.9 239.2h0M396.8 240.9h0M396.7 242.7h0M396.6 244.5h0M396.3 246.2h0M395.6 248h0M394.5 249.7h0M393.4 251.5h0M392.3 253.3h0M391.1 255h0M390 256.8h0M389.1 258.6h0M388.3 260.3h0M387.6 262.1h0M386.9 263.8h0M386.3 265.6h0M385.7 267.4h0M385.1 269.1h0M384.5 270.9h0M383.9 272.7h0M383.2 274.4h0M382.4 276.2h0M381.3 278h0M380 279.7h0M378.8 281.5h0M377.5 283.2h0M376.3 285h0M375.2 286.8h0M374.2 288.5h0M373.2 290.3h0M372.4 292.1h0M371.6 293.8h0M370.8 295.6h0M369.9 297.4h0M369 299.1h0M368 300.9h0M367 302.6h0M365.9 304.4h0M364.9 306.2h0M364.2 307.9h0M363.4 309.7h0M362.7 311.5h0M362 313.2h0M361.3 315h0M360.7 316.8h0M360.2 318.5h0M359.7 320.3h0M359.3 322h0M358.9 323.8h0M358.5 325.6h0M358.2 327.3h0M357.8 329.1h0M357.4 330.9h0M356.8 332.6h0M356.2 334.4h0M355.4 336.2h0M354.6 337.9h0M353.8 339.7h0M353 341.4h0M352.3 343.2h0M351.6 345h0M350.8 346.7h0M350.1 348.5h0M349.5 350.3h0M348.9 352h0M348.2 353.8h0M347.6 355.6h0M347 357.3h0M346.3 359.1h0M345.5 360.8h0M344.6 362.6h0M343.7 364.4h0M342.8 366.1h0M341.9 367.9h0M341 369.7h0M340.1 371.4h0M339.3 373.2h0M338.6 375h0M337.9 376.7h0M337.2 378.5h0M336.6 380.2h0M336 382h0M335.4 383.8h0M334.8 385.5h0M334.1 387.3h0M333.4 389.1h0M332.6 390.8h0M331.5 392.6h0M330.2 394.4h0M329 396.1h0M327.8 397.9h0M326.6 399.6h0M325.5 401.4h0M324.4 403.2h0M323.4 404.9h0M322.5 406.7h0M321.6 408.5h0M320.7 410.2h0M319.9 412h0M319.1 413.8h0M318.4 415.5h0M317.6 417.3h0M316.8 419h0M315.8 420.8h0M314.9 422.6h0M313.9 424.3h0M312.9 426.1h0M311.9 427.9h0M311 429.6h0M310.1 431.4h0M309.3 433.2h0M308.6 434.9h0M307.9 436.7h0M307.5 438.4h0M307.2 440.2h0M306.8 442h0M306.3 443.7h0M305.8 445.5h0M305.2 447.3h0M304.6 449h0M303.9 450.8h0M303.3 452.5h0M302.7 454.3h0M302.2 456.1h0M301.8 457.8h0M301.4 459.6h0M301.2 461.4h0M301 463.1h0M300.8 464.9h0M300.7 466.7h0M300.6 468.4h0M300.5 470.2h0M300.3 471.9h0M300 473.7h0M299.7 475.5h0M299.3 477.2h0M298.9 479h0M298.5 480.8h0M298.1 482.5h0M297.7 484.3h0M297.4 486.1h0M297.2 487.8h0M297 489.6h0M296.9 491.3h0M296.8 493.1h0M296.8 494.9h0M296.7 496.6h0M296.7 498.4h0M296.5 500.2h0M296.3 501.9h0M296 503.7h0M295.6 505.5h0M295.2 507.2h0M294.7 509h0M294.3 510.7h0M293.8 512.5h0M293.5 514.3h0M293.1 516h0M292.9 517.8h0M292.7 519.6h0M292.5 521.3h0M292.4 523.1h0M292.2 524.9h0M292 526.6h0M291.7 528.4h0M291.4 530.1h0M291 531.9h0M290.5 533.7h0M290 535.4h0M289.5 537.2h0M289 539h0M288.6 540.7h0M288.2 542.5h0M287.9 544.3h0M287.7 546h0M287.6 547.8h0M287.5 549.5h0M287.5 551.3h0M287.4 553.1h0M287.4 554.8h0M287.3 556.6h0M287.1 558.4h0M286.9 560.1h0M286.4 561.9h0M285.9 563.7h0M285.3 565.4h0M284.8 567.2h0M284.3 568.9h0M283.9 570.7h0M283.6 572.5h0M283.3 574.2h0M283.1 576h0M282.9 577.8h0M282.8 579.5h0M282.6 581.3h0M282.3 583.1h0M282.1 584.8h0M281.7 586.6h0M281.2 588.3h0M280.7 590.1h0M280 591.9h0M279.4 593.6h0M278.8 595.4h0M278.1 597.2h0M277.6 598.9h0M277 600.7h0M276.6 602.5h0M276.2 604.2h0M275.8 606h0M275.5 607.7h0M275.2 609.5h0M274.8 611.3h0M274.4 613h0M273.9 614.8h0M273.3 616.6h0M272.6 618.3h0M272 620.1h0M271.3 621.9h0M270.6 623.6h0M269.9 625.4h0M269.4 627.1h0M268.9 628.9h0M268.5 630.7h0M268.2 632.4h0M267.9 634.2h0M267.7 636h0M267.5 637.7h0M267.2 639.5h0M266.9 641.2h0M266.6 643h0M266.2 644.8h0M265.7 646.5h0M265.2 648.3h0M264.7 650.1h0M264.2 651.8h0M263.7 653.6h0M263.3 655.4h0M263 657.1h0M262.7 658.9h0M262.5 660.6h0M262.3 662.4h0M262.2 664.2h0M262 665.9h0M261.7 667.7h0M261.3 669.5h0M260.9 671.2h0M260.3 673h0M259.7 674.8h0M259 676.5h0M258.3 678.3h0M257.5 680h0M256.8 681.8h0M256.1 683.6h0M255.5 685.3h0M254.9 687.1h0M254.4 688.9h0M254 690.6h0M253.5 692.4h0M253.1 694.2h0M252.6 695.9h0M252.1 697.7h0M251.5 699.4h0M250.8 701.2h0M250 703h0M249.2 704.7h0M248.4 706.5h0M247.5 708.3h0M246.6 710h0M245.9 711.8h0M245.2 713.6h0M244.6 715.3h0M244 717.1h0M243.6 718.8h0M243.2 720.6h0M242.8 722.4h0M242.3 724.1h0M241.9 725.9h0M241.6 727.7h0M241.1 729.4h0M240.6 731.2h0M240 733h0M239.5 734.7h0M238.9 736.5h0M238.4 738.2h0M237.9 740h0M237.5 741.8h0M237.1 743.5h0M236.9 745.3h0M236.7 747.1h0M236.6 748.8h0M236.5 750.6h0M236.3 752.4h0M236.1 754.1h0M235.8 755.9h0M235.4 757.6h0M234.9 759.4h0M234.4 761.2h0M233.8 762.9h0M233.2 764.7h0M232.8 766.5h0M232.3 768.2h0M231.9 770h0M231.6 771.8h0M231.4 773.5h0M231.1 775.3h0M231 777h0M230.8 778.8h0M230.5 780.6h0M230.2 782.3h0M229.9 784.1h0M229.4 785.9h0M228.8 787.6h0M228.2 789.4h0M227.5 791.2h0M226.8 792.9h0M226.2 794.7h0M225.6 796.4h0M225.2 798.2h0M224.7 800h0M224.4 801.7h0M224.2 803.5h0M449.6 20.5h0M449.6 22.2h0M449.7 24h0M449.9 25.8h0M450.2 27.5h0M450.4 29.3h0M450.7 31.1h0M451 32.8h0M451.2 34.6h0M451.3 36.4h0M451.4 38.1h0M451.4 39.9h0M451.3 41.6h0M451.3 43.4h0M451.2 45.2h0M451.2 46.9h0M451.2 48.7h0M451.3 50.5h0M451.4 52.2h0M451.6 54h0M451.8 55.8h0M452 57.5h0M452.2 59.3h0M452.4 61h0M452.6 62.8h0M452.7 64.6h0M452.6 66.3h0M452.5 68.1h0M452.4 69.9h0M452.4 71.6h0M452.5 73.4h0M452.6 75.1h0M452.8 76.9h0M453.1 78.7h0M453.6 80.4h0M454.8 82.2h0M456.1 84h0M457.5 85.7h0M458.8 87.5h0M460.2 89.3h0M461 91h0M461.3 92.8h0M461.7 94.5h0M461.9 96.3h0M462.1 98.1h0M462.2 99.8h0M461.7 101.6h0M461.2 103.4h0M460.8 105.1h0M460.4 106.9h0M460.2 108.7h0M459.8 110.4h0M459.2 112.2h0M458.7 113.9h0M458.2 115.7h0M457.6 117.5h0M457 119.2h0M456.3 121h0M455.6 122.8h0M454.7 124.5h0M453.8 126.3h0M452.9 128.1h0M452 129.8h0M451.1 131.6h0M450.2 133.3h0M449.4 135.1h0M448.6 136.9h0M447.9 138.6h0M447.2 140.4h0M446.4 142.2h0M445.7 143.9h0M444.9 145.7h0M444 147.5h0M443.1 149.2h0M442.1 151h0M441 152.7h0M439.9 154.5h0M438.7 156.3h0M437.5 158h0M436.3 159.8h0M435.2 161.6h0M434.2 163.3h0M433.3 165.1h0M432.4 166.9h0M431.6 168.6h0M430.7 170.4h0M429.9 172.1h0M429.1 173.9h0M428.2 175.7h0M427.3 177.4h0M426 179.2h0M424.3 181h0M422.7 182.7h0M420.9 184.5h0M419.2 186.3h0M417.6 188h0M416.4 189.8h0M415.3 191.5h0M414.3 193.3h0M413.3 195.1h0M412.5 196.8h0M411.7 198.6h0M410.9 200.4h0M410.1 202.1h0M409.3 203.9h0M408.4 205.7h0M407.4 207.4h0M406.4 209.2h0M405.2 210.9h0M404.1 212.7h0M402.9 214.5h0M401.7 216.2h0M400.6 218h0M399.7 219.8h0M398.8 221.5h0M398 223.3h0M397.2 225.1h0M396.4 226.8h0M395.9 228.6h0M395.3 230.3h0M394.8 232.1h0M394.1 233.9h0M393.2 235.6h0M392.2 237.4h0M391.4 239.2h0M390.5 240.9h0M389.6 242.7h0M388.8 244.5h0M388 246.2h0M386.8 248h0M385.5 249.7h0M384.3 251.5h0M383.1 253.3h0M382 255h0M380.9 256.8h0M380 258.6h0M379.1 260.3h0M378.1 262.1h0M377 263.8h0M376.1 265.6h0M375.2 267.4h0M374.3 269.1h0M373.4 270.9h0M372.5 272.7h0M371.7 274.4h0M370.9 276.2h0M369.9 278h0M368.9 279.7h0M368.1 281.5h0M367.3 283.2h0M366.5 285h0M365.7 286.8h0M364.9 288.5h0M364 290.3h0M363.1 292.1h0M362.1 293.8h0M361 295.6h0M359.8 297.4h0M358.4 299.1h0M357.1 300.9h0M355.8 302.6h0M354.6 304.4h0M353.6 306.2h0M353 307.9h0M352.5 309.7h0M352 311.5h0M351.5 313.2h0M351 315h0M350.4 316.8h0M349.8 318.5h0M349 320.3h0M348.2 322h0M347.3 323.8h0M346.4 325.6h0M345.5 327.3h0M344.7 329.1h0M343.8 330.9h0M343.1 332.6h0M342.4 334.4h0M341.7 336.2h0M341.1 337.9h0M340.6 339.7h0M340.1 341.4h0M339.5 343.2h0M338.9 345h0M338.2 346.7h0M337.4 348.5h0M336.5 350.3h0M335.6 352h0M334.6 353.8h0M333.6 355.6h0M332.7 357.3h0M331.8 359.1h0M331 360.8h0M330.3 362.6h0M329.7 364.4h0M329.4 366.1h0M329.2 367.9h0M329 369.7h0M328.8 371.4h0M328.5 373.2h0M328.2 375h0M327.7 376.7h0M327.1 378.5h0M326.5 380.2h0M325.8 382h0M325.1 383.8h0M324.4 385.5h0M323.8 387.3h0M323.1 389.1h0M322.6 390.8h0M322 392.6h0M321.2 394.4h0M320.6 396.1h0M320 397.9h0M319.3 399.6h0M318.6 401.4h0M317.8 403.2h0M317 404.9h0M316 406.7h0M315 408.5h0M313.9 410.2h0M312.8 412h0M311.7 413.8h0M310.9 415.5h0M310.1 417.3h0M309.3 419h0M308.6 420.8h0M308 422.6h0M307.5 424.3h0M306.9 426.1h0M306.4 427.9h0M305.8 429.6h0M305.2 431.4h0M304.5 433.2h0M303.8 434.9h0M303 436.7h0M302.4 438.4h0M301.9 440.2h0M301.4 442h0M301 443.7h0M300.6 445.5h0M300.3 447.3h0M300.2 449h0M300 450.8h0M299.9 452.5h0M299.9 454.3h0M299.8 456.1h0M299.7 457.8h0M299.6 459.6h0M299.3 461.4h0M299.1 463.1h0M298.7 464.9h0M298.3 466.7h0M297.9 468.4h0M297.5 470.2h0M297.1 471.9h0M296.7 473.7h0M296.5 475.5h0M296.2 477.2h0M296.1 479h0M296 480.8h0M295.9 482.5h0M295.8 484.3h0M295.6 486.1h0M295.4 487.8h0M295 489.6h0M294.6 491.3h0M294.2 493.1h0M293.6 494.9h0M293.1 496.6h0M292.6 498.4h0M292.1 500.2h0M291.6 501.9h0M291.3 503.7h0M291 505.5h0M290.7 507.2h0M290.6 509h0M290.4 510.7h0M290.2 512.5h0M290.1 514.3h0M289.8 516h0M289.5 517.8h0M289.2 519.6h0M288.8 521.3h0M288.3 523.1h0M287.8 524.9h0M287.4 526.6h0M286.9 528.4h0M286.6 530.1h0M286.3 531.9h0M286.1 533.7h0M286 535.4h0M286 537.2h0M286 539h0M286 540.7h0M286 542.5h0M285.9 544.3h0M285.8 546h0M285.6 547.8h0M285.4 549.5h0M285 551.3h0M284.6 553.1h0M284.3 554.8h0M283.9 556.6h0M283.6 558.4h0M283.4 560.1h0M283 561.9h0M282.7 563.7h0M282.5 565.4h0M282.3 567.2h0M282 568.9h0M281.7 570.7h0M281.4 572.5h0M281 574.2h0M280.5 576h0M279.9 577.8h0M279.2 579.5h0M278.5 581.3h0M277.8 583.1h0M277.1 584.8h0M276.4 586.6h0M275.8 588.3h0M275.3 590.1h0M274.8 591.9h0M274.4 593.6h0M274 595.4h0M273.6 597.2h0M273.2 598.9h0M272.8 600.7h0M272.3 602.5h0M271.7 604.2h0M271 606h0M270.4 607.7h0M269.7 609.5h0M269 611.3h0M268.4 613h0M267.8 614.8h0M267.4 616.6h0M267 618.3h0M266.7 620.1h0M266.4 621.9h0M266.2 623.6h0M266.1 625.4h0M265.9 627.1h0M265.6 628.9h0M265.3 630.7h0M265 632.4h0M264.6 634.2h0M264.1 636h0M263.6 637.7h0M263.1 639.5h0M262.6 641.2h0M262.1 643h0M261.7 644.8h0M261.4 646.5h0M261.1 648.3h0M260.9 650.1h0M260.7 651.8h0M260.6 653.6h0M260.3 655.4h0M260.1 657.1h0M259.7 658.9h0M259.2 660.6h0M258.7 662.4h0M258.1 664.2h0M257.4 665.9h0M256.7 667.7h0M255.9 669.5h0M255.1 671.2h0M254.4 673h0M253.8 674.8h0M253.3 676.5h0M252.8 678.3h0M252.3 680h0M251.9 681.8h0M251.4 683.6h0M250.9 685.3h0M250.3 687.1h0M249.7 688.9h0M248.9 690.6h0M248.2 692.4h0M247.4 694.2h0M246.6 695.9h0M245.8 697.7h0M245.1 699.4h0M244.5 701.2h0M244 703h0M243.5 704.7h0M243.1 706.5h0M242.7 708.3h0M242.4 710h0M242 711.8h0M241.6 713.6h0M241.1 715.3h0M240.6 717.1h0M240 718.8h0M239.3 720.6h0M238.6 722.4h0M237.9 724.1h0M237.3 725.9h0M236.8 727.7h0M236.3 729.4h0M236 731.2h0M235.7 733h0M235.4 734.7h0M235.2 736.5h0M234.9 738.2h0M234.7 740h0M234.4 741.8h0M234 743.5h0M233.5 745.3h0M233 747.1h0M232.5 748.8h0M231.9 750.6h0M231.2 752.4h0M230.6 754.1h0M230 755.9h0M229.4 757.6h0M228.9 759.4h0M228.5 761.2h0M228.1 762.9h0M227.8 764.7h0M227.6 766.5h0M227.4 768.2h0M227.1 770h0M226.8 771.8h0M226.4 773.5h0M225.9 775.3h0M225.4 777h0M224.9 778.8h0M224.3 780.6h0M223.8 782.3h0M223.3 784.1h0M222.8 785.9h0M222.4 787.6h0M222.1 789.4h0M221.8 791.2h0M221.7 792.9h0M221.5 794.7h0M221.4 796.4h0M221.2 798.2h0M221 800h0M220.7 801.7h0M220.3 803.5h0M453.7 20.5h0M453.9 22.2h0M454 24h0M454.1 25.8h0M454.1 27.5h0M454 29.3h0M453.9 31.1h0M453.8 32.8h0M453.6 34.6h0M453.5 36.4h0M453.4 38.1h0M453.4 39.9h0M453.5 41.6h0M453.7 43.4h0M453.9 45.2h0M454.1 46.9h0M454.2 48.7h0M454.3 50.5h0M454.4 52.2h0M454.3 54h0M454.2 55.8h0M454 57.5h0M453.8 59.3h0M453.6 61h0M453.4 62.8h0M453.2 64.6h0M453.1 66.3h0M453.1 68.1h0M453.2 69.9h0M453.6 71.6h0M454.1 73.4h0M454.6 75.1h0M455.2 76.9h0M455.7 78.7h0M456.3 80.4h0M457.6 82.2h0M458.9 84h0M460 85.7h0M461.2 87.5h0M462.3 89.3h0M463 91h0M463.4 92.8h0M463.8 94.5h0M464.2 96.3h0M464.8 98.1h0M465.3 99.8h0M465.3 101.6h0M465.2 103.4h0M465.2 105.1h0M465 106.9h0M464.9 108.7h0M464.4 110.4h0M463.6 112.2h0M462.7 113.9h0M461.8 115.7h0M460.9 117.5h0M459.9 119.2h0M459 121h0M458.1 122.8h0M457.3 124.5h0M456.5 126.3h0M455.8 128.1h0M455.1 129.8h0M454.5 131.6h0M453.8 133.3h0M453.1 135.1h0M452.3 136.9h0M451.4 138.6h0M450.3 140.4h0M449.2 142.2h0M447.9 143.9h0M446.7 145.7h0M445.5 147.5h0M444.3 149.2h0M443.2 151h0M442.2 152.7h0M441.3 154.5h0M440.4 156.3h0M439.6 158h0M438.9 159.8h0M438.2 161.6h0M437.4 163.3h0M436.6 165.1h0M435.8 166.9h0M434.9 168.6h0M433.8 170.4h0M432.8 172.1h0M431.7 173.9h0M430.7 175.7h0M429.7 177.4h0M428.4 179.2h0M427 181h0M425.7 182.7h0M424.4 184.5h0M423.2 186.3h0M422 188h0M421.2 189.8h0M420.4 191.5h0M419.5 193.3h0M418.5 195.1h0M417.5 196.8h0M416.4 198.6h0M415.2 200.4h0M414 202.1h0M412.9 203.9h0M411.7 205.7h0M410.6 207.4h0M409.6 209.2h0M408.5 210.9h0M407.6 212.7h0M406.7 214.5h0M405.8 216.2h0M404.9 218h0M404 219.8h0M403.1 221.5h0M402.1 223.3h0M401 225.1h0M399.9 226.8h0M398.9 228.6h0M397.9 230.3h0M396.9 232.1h0M395.9 233.9h0M395 235.6h0M394.2 237.4h0M393.8 239.2h0M393.5 240.9h0M393.2 242.7h0M392.9 244.5h0M392.7 246.2h0M392 248h0M391.1 249.7h0M390.1 251.5h0M389 253.3h0M387.9 255h0M386.8 256.8h0M385.9 258.6h0M385 260.3h0M384.1 262.1h0M383.3 263.8h0M382.6 265.6h0M382.1 267.4h0M381.6 269.1h0M381.2 270.9h0M380.9 272.7h0M380.5 274.4h0M380.1 276.2h0M379.2 278h0M378.4 279.7h0M377.4 281.5h0M376.3 283.2h0M375.2 285h0M374.1 286.8h0M373 288.5h0M371.9 290.3h0M370.8 292.1h0M369.8 293.8h0M368.9 295.6h0M367.9 297.4h0M366.8 299.1h0M365.8 300.9h0M364.8 302.6h0M363.7 304.4h0M362.8 306.2h0M362.1 307.9h0M361.3 309.7h0M360.4 311.5h0M359.5 313.2h0M358.5 315h0M357.6 316.8h0M356.7 318.5h0M355.8 320.3h0M355 322h0M354.3 323.8h0M353.7 325.6h0M353.2 327.3h0M352.8 329.1h0M352.3 330.9h0M351.9 332.6h0M351.4 334.4h0M350.8 336.2h0M350.2 337.9h0M349.5 339.7h0M348.7 341.4h0M348 343.2h0M347.2 345h0M346.4 346.7h0M345.6 348.5h0M344.9 350.3h0M344.3 352h0M343.8 353.8h0M343.4 355.6h0M343 357.3h0M342.6 359.1h0M342.2 360.8h0M341.7 362.6h0M341.1 364.4h0M340.6 366.1h0M339.9 367.9h0M339.2 369.7h0M338.5 371.4h0M337.7 373.2h0M337 375h0M336.1 376.7h0M335.4 378.5h0M334.7 380.2h0M334 382h0M333.4 383.8h0M332.8 385.5h0M332.2 387.3h0M331.6 389.1h0M330.9 390.8h0M330 392.6h0M328.7 394.4h0M327.5 396.1h0M326.2 397.9h0M324.8 399.6h0M323.4 401.4h0M322.1 403.2h0M320.8 404.9h0M319.6 406.7h0M318.4 408.5h0M317.4 410.2h0M316.4 412h0M315.6 413.8h0M315 415.5h0M314.4 417.3h0M313.7 419h0M313 420.8h0M312.2 422.6h0M311.3 424.3h0M310.4 426.1h0M309.5 427.9h0M308.6 429.6h0M307.7 431.4h0M306.9 433.2h0M306.2 434.9h0M305.5 436.7h0M305.3 438.4h0M305.1 440.2h0M305 442h0M304.9 443.7h0M304.8 445.5h0M304.7 447.3h0M304.4 449h0M304.1 450.8h0M303.8 452.5h0M303.4 454.3h0M303 456.1h0M302.5 457.8h0M302.1 459.6h0M301.7 461.4h0M301.4 463.1h0M301.1 464.9h0M300.9 466.7h0M300.7 468.4h0M300.6 470.2h0M300.4 471.9h0M300.2 473.7h0M300 475.5h0M299.6 477.2h0M299.2 479h0M298.7 480.8h0M298.2 482.5h0M297.6 484.3h0M296.9 486.1h0M296.3 487.8h0M295.8 489.6h0M295.3 491.3h0M294.9 493.1h0M294.5 494.9h0M294.3 496.6h0M294.1 498.4h0M294 500.2h0M293.9 501.9h0M293.7 503.7h0M293.4 505.5h0M293.1 507.2h0M292.8 509h0M292.4 510.7h0M291.9 512.5h0M291.5 514.3h0M291.1 516h0M290.8 517.8h0M290.5 519.6h0M290.3 521.3h0M290.3 523.1h0M290.2 524.9h0M290.3 526.6h0M290.3 528.4h0M290.3 530.1h0M290.3 531.9h0M290.2 533.7h0M290.1 535.4h0M289.9 537.2h0M289.6 539h0M289.2 540.7h0M288.9 542.5h0M288.5 544.3h0M288.2 546h0M288 547.8h0M287.8 549.5h0M287.6 551.3h0M287.5 553.1h0M287.5 554.8h0M287.4 556.6h0M287.3 558.4h0M287.1 560.1h0M286.7 561.9h0M286.2 563.7h0M285.6 565.4h0M285 567.2h0M284.3 568.9h0M283.5 570.7h0M282.8 572.5h0M282.2 574.2h0M281.5 576h0M281 577.8h0M280.5 579.5h0M280.1 581.3h0M279.8 583.1h0M279.4 584.8h0M279.1 586.6h0M278.7 588.3h0M278.3 590.1h0M277.8 591.9h0M277.2 593.6h0M276.6 595.4h0M276 597.2h0M275.3 598.9h0M274.7 600.7h0M274.1 602.5h0M273.7 604.2h0M273.3 606h0M273 607.7h0M272.7 609.5h0M272.6 611.3h0M272.4 613h0M272.3 614.8h0M272.1 616.6h0M271.9 618.3h0M271.5 620.1h0M271.1 621.9h0M270.7 623.6h0M270.2 625.4h0M269.7 627.1h0M269.1 628.9h0M268.6 630.7h0M268.2 632.4h0M267.8 634.2h0M267.5 636h0M267.3 637.7h0M267 639.5h0M266.8 641.2h0M266.6 643h0M266.3 644.8h0M265.9 646.5h0M265.4 648.3h0M264.9 650.1h0M264.3 651.8h0M263.6 653.6h0M262.9 655.4h0M262.2 657.1h0M261.5 658.9h0M260.9 660.6h0M260.4 662.4h0M259.9 664.2h0M259.5 665.9h0M259.1 667.7h0M258.6 669.5h0M258.2 671.2h0M257.7 673h0M257.2 674.8h0M256.6 676.5h0M255.9 678.3h0M255.2 680h0M254.5 681.8h0M253.7 683.6h0M253 685.3h0M252.3 687.1h0M251.7 688.9h0M251.2 690.6h0M250.8 692.4h0M250.4 694.2h0M250.1 695.9h0M249.9 697.7h0M249.6 699.4h0M249.3 701.2h0M249 703h0M248.5 704.7h0M248 706.5h0M247.4 708.3h0M246.7 710h0M246 711.8h0M245.3 713.6h0M244.6 715.3h0M244 717.1h0M243.4 718.8h0M242.9 720.6h0M242.5 722.4h0M242.1 724.1h0M241.8 725.9h0M241.5 727.7h0M241.1 729.4h0M240.7 731.2h0M240.3 733h0M239.7 734.7h0M239 736.5h0M238.3 738.2h0M237.6 740h0M236.8 741.8h0M236.1 743.5h0M235.5 745.3h0M235 747.1h0M234.5 748.8h0M234.1 750.6h0M233.8 752.4h0M233.5 754.1h0M233.1 755.9h0M232.8 757.6h0M232.4 759.4h0M232 761.2h0M231.4 762.9h0M230.9 764.7h0M230.4 766.5h0M229.9 768.2h0M229.4 770h0M228.9 771.8h0M228.6 773.5h0M228.3 775.3h0M228.1 777h0M227.9 778.8h0M227.9 780.6h0M227.8 782.3h0M227.8 784.1h0M227.6 785.9h0M227.5 787.6h0M227.2 789.4h0M226.9 791.2h0M226.5 792.9h0M226 794.7h0M225.6 796.4h0M225.1 798.2h0M224.7 800h0M224.3 801.7h0M224 803.5h0M452.7 20.5h0M452.5 22.2h0M452.3 24h0M452.2 25.8h0M452.1 27.5h0M452.1 29.3h0M452.2 31.1h0M452.3 32.8h0M452.4 34.6h0M452.5 36.4h0M452.5 38.1h0M452.5 39.9h0M452.5 41.6h0M452.4 43.4h0M452.2 45.2h0M452 46.9h0M451.7 48.7h0M451.5 50.5h0M451.3 52.2h0M451.2 54h0M451.2 55.8h0M451.3 57.5h0M451.4 59.3h0M451.6 61h0M451.9 62.8h0M452.1 64.6h0M452.4 66.3h0M452.6 68.1h0M452.7 69.9h0M453 71.6h0M453.4 73.4h0M453.7 75.1h0M454 76.9h0M454.3 78.7h0M454.8 80.4h0M456.1 82.2h0M457.4 84h0M458.8 85.7h0M460.3 87.5h0M461.8 89.3h0M462.9 91h0M463.6 92.8h0M464.2 94.5h0M464.8 96.3h0M465.2 98.1h0M465.6 99.8h0M465.1 101.6h0M464.6 103.4h0M464.1 105.1h0M463.6 106.9h0M463.1 108.7h0M462.4 110.4h0M461.5 112.2h0M460.7 113.9h0M459.9 115.7h0M459.2 117.5h0M458.5 119.2h0M457.8 121h0M457 122.8h0M456.2 124.5h0M455.3 126.3h0M454.3 128.1h0M453.3 129.8h0M452.2 131.6h0M451.1 133.3h0M450 135.1h0M449 136.9h0M448 138.6h0M447 140.4h0M446 142.2h0M445.1 143.9h0M444.3 145.7h0M443.6 147.5h0M442.8 149.2h0M442.1 151h0M441.3 152.7h0M440.4 154.5h0M439.5 156.3h0M438.5 158h0M437.6 159.8h0M436.6 161.6h0M435.6 163.3h0M434.7 165.1h0M433.8 166.9h0M433 168.6h0M432.2 170.4h0M431.5 172.1h0M430.9 173.9h0M430.2 175.7h0M429.6 177.4h0M428.6 179.2h0M427.3 181h0M425.9 182.7h0M424.4 184.5h0M422.9 186.3h0M421.3 188h0M420 189.8h0M418.8 191.5h0M417.5 193.3h0M416.3 195.1h0M415.2 196.8h0M414.1 198.6h0M413.1 200.4h0M412.2 202.1h0M411.2 203.9h0M410.3 205.7h0M409.3 207.4h0M408.3 209.2h0M407.1 210.9h0M405.9 212.7h0M404.7 214.5h0M403.3 216.2h0M402 218h0M400.8 219.8h0M399.6 221.5h0M398.4 223.3h0M397.4 225.1h0M396.4 226.8h0M395.7 228.6h0M395.1 230.3h0M394.5 232.1h0M394 233.9h0M393.4 235.6h0M392.7 237.4h0M392.3 239.2h0M391.8 240.9h0M391.3 242.7h0M390.7 244.5h0M390.1 246.2h0M389.1 248h0M387.9 249.7h0M386.8 251.5h0M385.8 253.3h0M384.8 255h0M383.9 256.8h0M383.3 258.6h0M382.7 260.3h0M382.1 262.1h0M381.5 263.8h0M380.9 265.6h0M380.4 267.4h0M379.7 269.1h0M379 270.9h0M378.2 272.7h0M377.4 274.4h0M376.5 276.2h0M375.3 278h0M374.2 279.7h0M373 281.5h0M372 283.2h0M371 285h0M370.1 286.8h0M369.2 288.5h0M368.3 290.3h0M367.4 292.1h0M366.4 293.8h0M365.4 295.6h0M364.1 297.4h0M362.7 299.1h0M361.2 300.9h0M359.7 302.6h0M358.2 304.4h0M356.9 306.2h0M356 307.9h0M355.2 309.7h0M354.4 311.5h0M353.8 313.2h0M353.2 315h0M352.7 316.8h0M352.1 318.5h0M351.6 320.3h0M351.1 322h0M350.4 323.8h0M349.8 325.6h0M349.2 327.3h0M348.5 329.1h0M347.8 330.9h0M347.1 332.6h0M346.4 334.4h0M345.8 336.2h0M345.2 337.9h0M344.7 339.7h0M344.3 341.4h0M343.9 343.2h0M343.6 345h0M343.2 346.7h0M342.7 348.5h0M342.2 350.3h0M341.6 352h0M341 353.8h0M340.2 355.6h0M339.4 357.3h0M338.6 359.1h0M337.7 360.8h0M336.9 362.6h0M336 364.4h0M335.4 366.1h0M334.8 367.9h0M334.3 369.7h0M333.9 371.4h0M333.5 373.2h0M333 375h0M332.4 376.7h0M331.8 378.5h0M331.1 380.2h0M330.3 382h0M329.4 383.8h0M328.5 385.5h0M327.5 387.3h0M326.6 389.1h0M325.6 390.8h0M324.5 392.6h0M323.4 394.4h0M322.3 396.1h0M321.4 397.9h0M320.5 399.6h0M319.6 401.4h0M318.8 403.2h0M318 404.9h0M317.2 406.7h0M316.3 408.5h0M315.3 410.2h0M314.3 412h0M313.4 413.8h0M312.6 415.5h0M311.8 417.3h0M311 419h0M310.2 420.8h0M309.5 422.6h0M308.9 424.3h0M308.4 426.1h0M308 427.9h0M307.6 429.6h0M307.2 431.4h0M306.8 433.2h0M306.3 434.9h0M305.8 436.7h0M305.6 438.4h0M305.2 440.2h0M304.8 442h0M304.4 443.7h0M303.9 445.5h0M303.4 447.3h0M303 449h0M302.6 450.8h0M302.2 452.5h0M301.9 454.3h0M301.7 456.1h0M301.5 457.8h0M301.3 459.6h0M301.1 461.4h0M300.9 463.1h0M300.5 464.9h0M300.1 466.7h0M299.6 468.4h0M299.1 470.2h0M298.4 471.9h0M297.8 473.7h0M297.2 475.5h0M296.6 477.2h0M296.1 479h0M295.7 480.8h0M295.3 482.5h0M295.1 484.3h0M294.8 486.1h0M294.6 487.8h0M294.5 489.6h0M294.2 491.3h0M294 493.1h0M293.7 494.9h0M293.3 496.6h0M293 498.4h0M292.6 500.2h0M292.2 501.9h0M291.8 503.7h0M291.5 505.5h0M291.3 507.2h0M291.1 509h0M291 510.7h0M291 512.5h0M291 514.3h0M291.1 516h0M291.1 517.8h0M291.1 519.6h0M291.1 521.3h0M290.9 523.1h0M290.7 524.9h0M290.4 526.6h0M290.1 528.4h0M289.7 530.1h0M289.3 531.9h0M288.9 533.7h0M288.6 535.4h0M288.4 537.2h0M288.2 539h0M288 540.7h0M287.9 542.5h0M287.8 544.3h0M287.7 546h0M287.5 547.8h0M287.3 549.5h0M287 551.3h0M286.6 553.1h0M286.1 554.8h0M285.5 556.6h0M284.9 558.4h0M284.4 560.1h0M283.7 561.9h0M283 563.7h0M282.5 565.4h0M282 567.2h0M281.6 568.9h0M281.2 570.7h0M280.9 572.5h0M280.6 574.2h0M280.2 576h0M279.8 577.8h0M279.4 579.5h0M278.9 581.3h0M278.3 583.1h0M277.7 584.8h0M277.1 586.6h0M276.5 588.3h0M276 590.1h0M275.5 591.9h0M275.1 593.6h0M274.8 595.4h0M274.5 597.2h0M274.3 598.9h0M274.2 600.7h0M274 602.5h0M273.8 604.2h0M273.5 606h0M273.2 607.7h0M272.8 609.5h0M272.4 611.3h0M271.9 613h0M271.3 614.8h0M270.8 616.6h0M270.2 618.3h0M269.7 620.1h0M269.3 621.9h0M268.9 623.6h0M268.6 625.4h0M268.3 627.1h0M268 628.9h0M267.8 630.7h0M267.4 632.4h0M267 634.2h0M266.6 636h0M266 637.7h0M265.4 639.5h0M264.7 641.2h0M264 643h0M263.3 644.8h0M262.6 646.5h0M261.9 648.3h0M261.4 650.1h0M260.9 651.8h0M260.5 653.6h0M260.2 655.4h0M259.9 657.1h0M259.6 658.9h0M259.2 660.6h0M258.9 662.4h0M258.5 664.2h0M258 665.9h0M257.4 667.7h0M256.7 669.5h0M256 671.2h0M255.3 673h0M254.6 674.8h0M254 676.5h0M253.5 678.3h0M253.1 680h0M252.8 681.8h0M252.5 683.6h0M252.2 685.3h0M252 687.1h0M251.7 688.9h0M251.4 690.6h0M251 692.4h0M250.5 694.2h0M249.9 695.9h0M249.3 697.7h0M248.6 699.4h0M248 701.2h0M247.3 703h0M246.7 704.7h0M246.1 706.5h0M245.5 708.3h0M245 710h0M244.6 711.8h0M244.1 713.6h0M243.7 715.3h0M243.2 717.1h0M242.6 718.8h0M242 720.6h0M241.3 722.4h0M240.5 724.1h0M239.7 725.9h0M239 727.7h0M238.2 729.4h0M237.4 731.2h0M236.7 733h0M236.1 734.7h0M235.6 736.5h0M235.1 738.2h0M234.7 740h0M234.3 741.8h0M234 743.5h0M233.6 745.3h0M233.3 747.1h0M232.9 748.8h0M232.5 750.6h0M231.9 752.4h0M231.4 754.1h0M230.8 755.9h0M230.2 757.6h0M229.7 759.4h0M229.2 761.2h0M228.8 762.9h0M228.6 764.7h0M228.4 766.5h0M228.4 768.2h0M228.4 770h0M228.3 771.8h0M228.3 773.5h0M228.2 775.3h0M228.1 777h0M227.9 778.8h0M227.6 780.6h0M227.2 782.3h0M226.8 784.1h0M226.3 785.9h0M225.8 787.6h0M225.4 789.4h0M225 791.2h0M224.6 792.9h0M224.3 794.7h0M224.1 796.4h0M223.9 798.2h0M223.7 800h0M223.5 801.7h0M223.2 803.5h0M451.3 20.5h0M451.4 22.2h0M451.5 24h0M451.6 25.8h0M451.6 27.5h0M451.5 29.3h0M451.4 31.1h0M451.2 32.8h0M451 34.6h0M450.7 36.4h0M450.5 38.1h0M450.3 39.9h0M450.1 41.6h0M450.1 43.4h0M450.2 45.2h0M450.3 46.9h0M450.6 48.7h0M450.8 50.5h0M451.1 52.2h0M451.4 54h0M451.6 55.8h0M451.8 57.5h0M451.9 59.3h0M452 61h0M452 62.8h0M452 64.6h0M452 66.3h0M452 68.1h0M452.1 69.9h0M452.4 71.6h0M452.9 73.4h0M453.5 75.1h0M454.2 76.9h0M454.8 78.7h0M455.6 80.4h0M457.1 82.2h0M458.5 84h0M459.9 85.7h0M461.1 87.5h0M462.3 89.3h0M462.9 91h0M463.1 92.8h0M463.2 94.5h0M463.4 96.3h0M463.5 98.1h0M463.7 99.8h0M463.3 101.6h0M463 103.4h0M462.7 105.1h0M462.4 106.9h0M462.2 108.7h0M461.7 110.4h0M460.9 112.2h0M460.1 113.9h0M459.1 115.7h0M458.1 117.5h0M457.1 119.2h0M456 121h0M454.9 122.8h0M453.8 124.5h0M452.8 126.3h0M451.9 128.1h0M451.1 129.8h0M450.3 131.6h0M449.7 133.3h0M449.1 135.1h0M448.5 136.9h0M447.9 138.6h0M447.2 140.4h0M446.3 142.2h0M445.5 143.9h0M444.5 145.7h0M443.5 147.5h0M442.5 149.2h0M441.5 151h0M440.5 152.7h0M439.6 154.5h0M438.7 156.3h0M437.9 158h0M437.2 159.8h0M436.5 161.6h0M435.9 163.3h0M435.3 165.1h0M434.7 166.9h0M434 168.6h0M433.2 170.4h0M432.3 172.1h0M431.3 173.9h0M430.3 175.7h0M429.1 177.4h0M427.7 179.2h0M426 181h0M424.3 182.7h0M422.6 184.5h0M421 186.3h0M419.5 188h0M418.5 189.8h0M417.5 191.5h0M416.5 193.3h0M415.5 195.1h0M414.5 196.8h0M413.4 198.6h0M412.2 200.4h0M411 202.1h0M409.7 203.9h0M408.4 205.7h0M407.1 207.4h0M405.8 209.2h0M404.5 210.9h0M403.3 212.7h0M402.2 214.5h0M401.2 216.2h0M400.3 218h0M399.5 219.8h0M398.8 221.5h0M398 223.3h0M397.3 225.1h0M396.5 226.8h0M395.8 228.6h0M395.1 230.3h0M394.3 232.1h0M393.5 233.9h0M392.6 235.6h0M391.7 237.4h0M391.1 239.2h0M390.6 240.9h0M390.2 242.7h0M389.8 244.5h0M389.5 246.2h0M388.8 248h0M388 249.7h0M387.1 251.5h0M386.1 253.3h0M385.1 255h0M384 256.8h0M383 258.6h0M382 260.3h0M380.8 262.1h0M379.7 263.8h0M378.7 265.6h0M377.8 267.4h0M377 269.1h0M376.2 270.9h0M375.5 272.7h0M374.9 274.4h0M374.2 276.2h0M373.3 278h0M372.3 279.7h0M371.3 281.5h0M370.2 283.2h0M369.1 285h0M367.9 286.8h0M366.7 288.5h0M365.4 290.3h0M364.1 292.1h0M362.8 293.8h0M361.5 295.6h0M360.2 297.4h0M358.9 299.1h0M357.8 300.9h0M356.7 302.6h0M355.6 304.4h0M354.8 306.2h0M354.3 307.9h0M353.8 309.7h0M353.2 311.5h0M352.6 313.2h0M351.9 315h0M351.2 316.8h0M350.4 318.5h0M349.6 320.3h0M348.8 322h0M348.1 323.8h0M347.4 325.6h0M346.9 327.3h0M346.5 329.1h0M346.1 330.9h0M345.8 332.6h0M345.5 334.4h0M345.2 336.2h0M344.8 337.9h0M344.3 339.7h0M343.8 341.4h0M343.1 343.2h0M342.4 345h0M341.5 346.7h0M340.6 348.5h0M339.6 350.3h0M338.7 352h0M337.8 353.8h0M337 355.6h0M336.3 357.3h0M335.6 359.1h0M335 360.8h0M334.4 362.6h0M333.7 364.4h0M333.3 366.1h0M332.7 367.9h0M332.2 369.7h0M331.5 371.4h0M330.8 373.2h0M329.9 375h0M329 376.7h0M328.1 378.5h0M327.2 380.2h0M326.4 382h0M325.7 383.8h0M325 385.5h0M324.5 387.3h0M324 389.1h0M323.5 390.8h0M322.9 392.6h0M322.2 394.4h0M321.4 396.1h0M320.6 397.9h0M319.7 399.6h0M318.7 401.4h0M317.7 403.2h0M316.7 404.9h0M315.7 406.7h0M314.7 408.5h0M313.8 410.2h0M313 412h0M312.3 413.8h0M311.9 415.5h0M311.5 417.3h0M311.1 419h0M310.7 420.8h0M310.3 422.6h0M309.8 424.3h0M309.3 426.1h0M308.6 427.9h0M307.9 429.6h0M307.1 431.4h0M306.2 433.2h0M305.4 434.9h0M304.6 436.7h0M304.1 438.4h0M303.7 440.2h0M303.4 442h0M303.1 443.7h0M302.9 445.5h0M302.7 447.3h0M302.5 449h0M302.3 450.8h0M301.9 452.5h0M301.5 454.3h0M301.1 456.1h0M300.5 457.8h0M299.9 459.6h0M299.3 461.4h0M298.7 463.1h0M298.1 464.9h0M297.6 466.7h0M297.2 468.4h0M296.8 470.2h0M296.6 471.9h0M296.4 473.7h0M296.2 475.5h0M296.1 477.2h0M295.9 479h0M295.7 480.8h0M295.5 482.5h0M295.1 484.3h0M294.8 486.1h0M294.4 487.8h0M293.9 489.6h0M293.5 491.3h0M293.1 493.1h0M292.7 494.9h0M292.5 496.6h0M292.4 498.4h0M292.4 500.2h0M292.4 501.9h0M292.4 503.7h0M292.5 505.5h0M292.5 507.2h0M292.4 509h0M292.3 510.7h0M292 512.5h0M291.7 514.3h0M291.4 516h0M291 517.8h0M290.5 519.6h0M290.1 521.3h0M289.7 523.1h0M289.4 524.9h0M289.1 526.6h0M288.9 528.4h0M288.8 530.1h0M288.7 531.9h0M288.5 533.7h0M288.4 535.4h0M288.1 537.2h0M287.8 539h0M287.5 540.7h0M287 542.5h0M286.5 544.3h0M286 546h0M285.4 547.8h0M284.9 549.5h0M284.5 551.3h0M284 553.1h0M283.7 554.8h0M283.5 556.6h0M283.3 558.4h0M283.2 560.1h0M283 561.9h0M282.7 563.7h0M282.3 565.4h0M282 567.2h0M281.5 568.9h0M281 570.7h0M280.5 572.5h0M279.9 574.2h0M279.3 576h0M278.8 577.8h0M278.3 579.5h0M277.9 581.3h0M277.5 583.1h0M277.2 584.8h0M277 586.6h0M276.9 588.3h0M276.7 590.1h0M276.5 591.9h0M276.2 593.6h0M275.9 595.4h0M275.5 597.2h0M275 598.9h0M274.4 600.7h0M273.8 602.5h0M273.2 604.2h0M272.5 606h0M271.9 607.7h0M271.4 609.5h0M271 611.3h0M270.6 613h0M270.3 614.8h0M270 616.6h0M269.7 618.3h0M269.3 620.1h0M268.9 621.9h0M268.5 623.6h0M267.9 625.4h0M267.3 627.1h0M266.6 628.9h0M265.9 630.7h0M265.2 632.4h0M264.5 634.2h0M263.9 636h0M263.3 637.7h0M262.8 639.5h0M262.4 641.2h0M262.1 643h0M261.8 644.8h0M261.5 646.5h0M261.3 648.3h0M261 650.1h0M260.6 651.8h0M260.2 653.6h0M259.8 655.4h0M259.2 657.1h0M258.7 658.9h0M258.2 660.6h0M257.6 662.4h0M257.2 664.2h0M256.8 665.9h0M256.3 667.7h0M256 669.5h0M255.7 671.2h0M255.4 673h0M255.2 674.8h0M254.9 676.5h0M254.6 678.3h0M254.2 680h0M253.7 681.8h0M253.2 683.6h0M252.5 685.3h0M251.8 687.1h0M251.1 688.9h0M250.4 690.6h0M249.8 692.4h0M249.1 694.2h0M248.6 695.9h0M248.1 697.7h0M247.6 699.4h0M247.2 701.2h0M246.8 703h0M246.3 704.7h0M245.8 706.5h0M245.2 708.3h0M244.4 710h0M243.7 711.8h0M242.8 713.6h0M241.9 715.3h0M241 717.1h0M240.1 718.8h0M239.3 720.6h0M238.5 722.4h0M237.8 724.1h0M237.3 725.9h0M236.9 727.7h0M236.5 729.4h0M236.2 731.2h0M235.9 733h0M235.6 734.7h0M235.2 736.5h0M234.7 738.2h0M234.2 740h0M233.6 741.8h0M233 743.5h0M232.5 745.3h0M231.9 747.1h0M231.5 748.8h0M231.1 750.6h0M230.8 752.4h0M230.5 754.1h0M230.3 755.9h0M230.2 757.6h0M230.1 759.4h0M230 761.2h0M229.8 762.9h0M229.6 764.7h0M229.4 766.5h0M229.1 768.2h0M228.7 770h0M228.3 771.8h0M227.8 773.5h0M227.4 775.3h0M227 777h0M226.6 778.8h0M226.2 780.6h0M226 782.3h0M225.8 784.1h0M225.5 785.9h0M225.3 787.6h0M225 789.4h0M224.7 791.2h0M224.3 792.9h0M223.8 794.7h0M223.3 796.4h0M222.7 798.2h0M222 800h0M221.3 801.7h0M220.7 803.5h0M452.3 20.5h0M452.1 22.2h0M451.9 24h0M451.6 25.8h0M451.5 27.5h0M451.3 29.3h0M451.3 31.1h0M451.3 32.8h0M451.4 34.6h0M451.6 36.4h0M451.9 38.1h0M452.1 39.9h0M452.4 41.6h0M452.7 43.4h0M452.9 45.2h0M453.1 46.9h0M453.2 48.7h0M453.2 50.5h0M453.2 52.2h0M453.1 54h0M453.1 55.8h0M453.1 57.5h0M453.1 59.3h0M453.3 61h0M453.5 62.8h0M453.7 64.6h0M454 66.3h0M454.3 68.1h0M454.6 69.9h0M455.1 71.6h0M455.5 73.4h0M455.9 75.1h0M456.2 76.9h0M456.4 78.7h0M456.8 80.4h0M457.8 82.2h0M458.8 84h0M459.8 85.7h0M460.9 87.5h0M462.1 89.3h0M462.9 91h0M463.3 92.8h0M463.8 94.5h0M464.2 96.3h0M464.7 98.1h0M465.1 99.8h0M464.7 101.6h0M464.3 103.4h0M463.8 105.1h0M463.3 106.9h0M462.7 108.7h0M461.9 110.4h0M460.9 112.2h0M460 113.9h0M459.1 115.7h0M458.3 117.5h0M457.6 119.2h0M456.9 121h0M456.3 122.8h0M455.8 124.5h0M455.2 126.3h0M454.6 128.1h0M453.9 129.8h0M453.3 131.6h0M452.5 133.3h0M451.7 135.1h0M450.8 136.9h0M449.9 138.6h0M448.9 140.4h0M447.9 142.2h0M447 143.9h0M446.1 145.7h0M445.3 147.5h0M444.5 149.2h0M443.8 151h0M443.2 152.7h0M442.5 154.5h0M441.7 156.3h0M440.9 158h0M440 159.8h0M439.1 161.6h0M438.1 163.3h0M437 165.1h0M435.9 166.9h0M434.7 168.6h0M433.6 170.4h0M432.5 172.1h0M431.5 173.9h0M430.5 175.7h0M429.6 177.4h0M428.4 179.2h0M427 181h0M425.6 182.7h0M424.2 184.5h0M422.7 186.3h0M421.1 188h0M419.9 189.8h0M418.7 191.5h0M417.4 193.3h0M416 195.1h0M414.8 196.8h0M413.5 198.6h0M412.4 200.4h0M411.3 202.1h0M410.3 203.9h0M409.4 205.7h0M408.6 207.4h0M407.8 209.2h0M407 210.9h0M406.1 212.7h0M405.3 214.5h0M404.3 216.2h0M403.3 218h0M402.4 219.8h0M401.4 221.5h0M400.3 223.3h0M399.3 225.1h0M398.3 226.8h0M397.6 228.6h0M396.9 230.3h0M396.3 232.1h0M395.8 233.9h0M395.3 235.6h0M394.8 237.4h0M394.6 239.2h0M394.3 240.9h0M394 242.7h0M393.6 244.5h0M393.1 246.2h0M392.2 248h0M390.9 249.7h0M389.6 251.5h0M388.3 253.3h0M387.1 255h0M385.8 256.8h0M384.9 258.6h0M384 260.3h0M383.2 262.1h0M382.4 263.8h0M381.8 265.6h0M381.2 267.4h0M380.6 269.1h0M379.9 270.9h0M379.2 272.7h0M378.4 274.4h0M377.5 276.2h0M376.3 278h0M375 279.7h0M373.7 281.5h0M372.5 283.2h0M371.3 285h0M370.3 286.8h0M369.3 288.5h0M368.5 290.3h0M367.7 292.1h0M366.9 293.8h0M366.1 295.6h0M365.2 297.4h0M364.2 299.1h0M363.1 300.9h0M362 302.6h0M360.8 304.4h0M359.7 306.2h0M359 307.9h0M358.2 309.7h0M357.5 311.5h0M356.8 313.2h0M356.2 315h0M355.6 316.8h0M355.1 318.5h0M354.7 320.3h0M354.2 322h0M353.8 323.8h0M353.4 325.6h0M352.9 327.3h0M352.4 329.1h0M351.8 330.9h0M351.1 332.6h0M350.4 334.4h0M349.6 336.2h0M348.7 337.9h0M347.9 339.7h0M347.1 341.4h0M346.4 343.2h0M345.7 345h0M345 346.7h0M344.4 348.5h0M343.7 350.3h0M343.1 352h0M342.4 353.8h0M341.7 355.6h0M341 357.3h0M340.2 359.1h0M339.3 360.8h0M338.4 362.6h0M337.4 364.4h0M336.6 366.1h0M335.8 367.9h0M335.1 369.7h0M334.4 371.4h0M333.8 373.2h0M333.3 375h0M332.8 376.7h0M332.3 378.5h0M331.8 380.2h0M331.3 382h0M330.7 383.8h0M330.2 385.5h0M329.5 387.3h0M328.8 389.1h0M328 390.8h0M327 392.6h0M325.9 394.4h0M324.8 396.1h0M323.8 397.9h0M322.8 399.6h0M321.9 401.4h0M321 403.2h0M320.2 404.9h0M319.5 406.7h0M318.7 408.5h0M317.9 410.2h0M317.1 412h0M316.3 413.8h0M315.6 415.5h0M314.8 417.3h0M313.9 419h0M313 420.8h0M312 422.6h0M311.1 424.3h0M310.2 426.1h0M309.3 427.9h0M308.5 429.6h0M307.8 431.4h0M307.2 433.2h0M306.5 434.9h0M305.9 436.7h0M305.6 438.4h0M305.3 440.2h0M304.9 442h0M304.4 443.7h0M303.9 445.5h0M303.3 447.3h0M302.7 449h0M302.1 450.8h0M301.5 452.5h0M301 454.3h0M300.6 456.1h0M300.2 457.8h0M300 459.6h0M299.8 461.4h0M299.7 463.1h0M299.6 464.9h0M299.5 466.7h0M299.4 468.4h0M299.2 470.2h0M298.9 471.9h0M298.6 473.7h0M298.2 475.5h0M297.8 477.2h0M297.4 479h0M297 480.8h0M296.6 482.5h0M296.3 484.3h0M296.1 486.1h0M295.9 487.8h0M295.8 489.6h0M295.7 491.3h0M295.7 493.1h0M295.6 494.9h0M295.4 496.6h0M295.3 498.4h0M295.1 500.2h0M294.8 501.9h0M294.4 503.7h0M293.9 505.5h0M293.4 507.2h0M293 509h0M292.5 510.7h0M292.2 512.5h0M291.8 514.3h0M291.6 516h0M291.4 517.8h0M291.2 519.6h0M291.1 521.3h0M290.9 523.1h0M290.7 524.9h0M290.4 526.6h0M290.1 528.4h0M289.7 530.1h0M289.2 531.9h0M288.7 533.7h0M288.2 535.4h0M287.7 537.2h0M287.3 539h0M286.9 540.7h0M286.6 542.5h0M286.5 544.3h0M286.4 546h0M286.3 547.8h0M286.3 549.5h0M286.2 551.3h0M286.1 553.1h0M286 554.8h0M285.8 556.6h0M285.6 558.4h0M285.3 560.1h0M284.7 561.9h0M284.2 563.7h0M283.7 565.4h0M283.2 567.2h0M282.8 568.9h0M282.4 570.7h0M282.1 572.5h0M281.9 574.2h0M281.7 576h0M281.5 577.8h0M281.3 579.5h0M281.1 581.3h0M280.7 583.1h0M280.3 584.8h0M279.8 586.6h0M279.2 588.3h0M278.6 590.1h0M277.9 591.9h0M277.3 593.6h0M276.6 595.4h0M276 597.2h0M275.5 598.9h0M275 600.7h0M274.6 602.5h0M274.3 604.2h0M273.9 606h0M273.5 607.7h0M273.2 609.5h0M272.7 611.3h0M272.2 613h0M271.6 614.8h0M271 616.6h0M270.3 618.3h0M269.6 620.1h0M268.9 621.9h0M268.3 623.6h0M267.7 625.4h0M267.3 627.1h0M266.9 628.9h0M266.6 630.7h0M266.3 632.4h0M266.1 634.2h0M265.9 636h0M265.7 637.7h0M265.4 639.5h0M265 641.2h0M264.6 643h0M264.2 644.8h0M263.7 646.5h0M263.1 648.3h0M262.6 650.1h0M262.1 651.8h0M261.7 653.6h0M261.4 655.4h0M261.1 657.1h0M260.9 658.9h0M260.7 660.6h0M260.6 662.4h0M260.4 664.2h0M260.2 665.9h0M259.8 667.7h0M259.4 669.5h0M258.8 671.2h0M258.1 673h0M257.4 674.8h0M256.7 676.5h0M255.9 678.3h0M255.2 680h0M254.5 681.8h0M253.9 683.6h0M253.3 685.3h0M252.8 687.1h0M252.4 688.9h0M251.9 690.6h0M251.5 692.4h0M251 694.2h0M250.4 695.9h0M249.8 697.7h0M249.1 699.4h0M248.4 701.2h0M247.6 703h0M246.7 704.7h0M245.9 706.5h0M245.1 708.3h0M244.3 710h0M243.6 711.8h0M243 713.6h0M242.5 715.3h0M242.1 717.1h0M241.6 718.8h0M241.2 720.6h0M240.8 722.4h0M240.4 724.1h0M239.9 725.9h0M239.5 727.7h0M238.9 729.4h0M238.4 731.2h0M237.8 733h0M237.3 734.7h0M236.7 736.5h0M236.2 738.2h0M235.8 740h0M235.5 741.8h0M235.2 743.5h0M235.1 745.3h0M234.9 747.1h0M234.8 748.8h0M234.6 750.6h0M234.4 752.4h0M234.1 754.1h0M233.6 755.9h0M233.2 757.6h0M232.6 759.4h0M232 761.2h0M231.4 762.9h0M230.8 764.7h0M230.4 766.5h0M230 768.2h0M229.7 770h0M229.4 771.8h0M229.2 773.5h0M229 775.3h0M228.8 777h0M228.6 778.8h0M228.3 780.6h0M227.9 782.3h0M227.4 784.1h0M226.9 785.9h0M226.2 787.6h0M225.6 789.4h0M224.9 791.2h0M224.3 792.9h0M223.7 794.7h0M223.3 796.4h0M222.9 798.2h0M222.6 800h0M222.3 801.7h0M222.2 803.5h0" stroke="#00ffff" stroke-width="6" stroke-linecap="round" fill="none"/>
<path d="M451.9,21.5 L451.9,31.3 L451.9,41.1 L452.2,50.9 L452.5,60.6 L453,70.4 L455.2,80.2 L461.9,90 L463.9,99.8 L461.9,109.6 L457.5,119.4 L452.8,129.2 L448.3,139 L443.1,148.8 L438,158.6 L433.3,168.4 L428.2,178.2 L419.8,188 L413.8,197.8 L408,207.6 L402,217.4 L396.8,227.2 L392.9,237 L391.4,246.8 L386.5,256.6 L382.7,266.4 L379,276.2 L373.3,286 L367.8,295.8 L361.2,305.6 L357.5,315.4 L353.6,325.2 L350.3,335 L346.9,344.8 L342.7,354.6 L338.7,364.4 L334.2,374.2 L328.9,384 L323.7,393.8 L318.8,403.6 L314,413.4 L310.2,423.2 L306.4,433 L303.8,442.8 L301.9,452.5 L300.1,462.3 L298.2,472.1 L296.4,481.9 L294.6,491.7 L293,501.5 L291.6,511.3 L290.3,521.1 L288.9,530.9 L287.6,540.7 L286.2,550.5 L284.8,560.3 L282.5,570.1 L280.1,579.9 L277.8,589.7 L275.4,599.5 L273,609.3 L270.7,619.1 L268.3,628.9 L266,638.7 L263.7,648.5 L261.3,658.3 L258.8,668.1 L255.9,677.9 L252.9,687.7 L249.9,697.5 L246.8,707.3 L243.5,717.1 L240.2,726.9 L237.6,736.7 L235.1,746.5 L232.8,756.3 L230.7,766.1 L229.1,775.9 L227.3,785.7 L225.2,795.5" fill="none" stroke="#0000ff" stroke-width="2.8" stroke-linejoin="round"/>
<path d="M451.9 21.5h0M451.9 31.3h0M451.9 41.1h0M452.2 50.9h0M452.5 60.6h0M453 70.4h0M455.2 80.2h0M461.9 90h0M463.9 99.8h0M461.9 109.6h0M457.5 119.4h0M452.8 129.2h0M448.3 139h0M443.1 148.8h0M438 158.6h0M433.3 168.4h0M428.2 178.2h0M419.8 188h0M413.8 197.8h0M408 207.6h0M402 217.4h0M396.8 227.2h0M392.9 237h0M391.4 246.8h0M386.5 256.6h0M382.7 266.4h0M379 276.2h0M373.3 286h0M367.8 295.8h0M361.2 305.6h0M357.5 315.4h0M353.6 325.2h0M350.3 335h0M346.9 344.8h0M342.7 354.6h0M338.7 364.4h0M334.2 374.2h0M328.9 384h0M323.7 393.8h0M318.8 403.6h0M314 413.4h0M310.2 423.2h0M306.4 433h0M303.8 442.8h0M301.9 452.5h0M300.1 462.3h0M298.2 472.1h0M296.4 481.9h0M294.6 491.7h0M293 501.5h0M291.6 511.3h0M290.3 521.1h0M288.9 530.9h0M287.6 540.7h0M286.2 550.5h0M284.8 560.3h0M282.5 570.1h0M280.1 579.9h0M277.8 589.7h0M275.4 599.5h0M273 609.3h0M270.7 619.1h0M268.3 628.9h0M266 638.7h0M263.7 648.5h0M261.3 658.3h0M258.8 668.1h0M255.9 677.9h0M252.9 687.7h0M249.9 697.5h0M246.8 707.3h0M243.5 717.1h0M240.2 726.9h0M237.6 736.7h0M235.1 746.5h0M232.8 756.3h0M230.7 766.1h0M229.1 775.9h0M227.3 785.7h0M225.2 795.5h0" stroke="#0000ff" stroke-width="12.2" stroke-linecap="round" fill="none"/>
<path d="M446.6,19.5 L446.6,23.4 L446.6,27.3 L446.6,31.3 L446.6,35.2 L446.6,39.1 L446.6,43 L446.6,48.9 L446.6,58.7 L446.6,68.5 L446.5,78.3 L447,88.1 L446.7,97.9 L445,107.7 L443,117.5 L435.5,137.1 L429.6,156.7 L426.6,176.3 L424.8,195.9 L416.5,215.4 L369.8,264.4 L341.9,313.4 L310.1,411.4 L286.3,509.4 L266.3,607.4 L246.5,705.3 L228.8,803.3" fill="none" stroke="#ff0000" stroke-width="3.0" stroke-linejoin="round"/>
<path d="M446.6,19.5 L446.6,23.4 L446.6,27.3 L446.6,31.3 L446.6,35.2 L446.6,39.1 L446.6,43 L446.6,48.9 L446.6,58.7 L446.6,68.5 L447.5,78.3 L449,88.1 L448.7,97.9 L447,107.7 L445,117.5 L437.5,137.1 L431.6,156.7 L427.6,176.3 L427.3,195.9 L420.5,215.4 L377.8,264.4 L348.9,313.4 L313.1,411.4 L288.7,509.4 L269.3,607.4 L250.5,705.3 L233.8,803.3" fill="none" stroke="#ff0000" stroke-width="3.0" stroke-linejoin="round"/>
<path d="M446.6,19.5 L446.6,23.4 L446.6,27.3 L446.6,31.3 L446.6,35.2 L446.6,39.1 L446.6,43 L446.6,48.9 L446.6,58.7 L446.6,68.5 L447,78.3 L448,88.1 L447.7,97.9 L446,107.7 L444,117.5 L436.5,137.1 L430.6,156.7 L427.1,176.3 L426.1,195.9 L418.5,215.4 L373.8,264.4 L345.4,313.4 L311.6,411.4 L287.5,509.4 L267.8,607.4 L248.5,705.3 L231.3,803.3" fill="none" stroke="#ff0000" stroke-width="3.0" stroke-linejoin="round"/>
<path d="M446.6 19.5h0M446.6 23.4h0M446.6 27.3h0M446.6 31.3h0M446.6 35.2h0M446.6 39.1h0M446.6 43h0M446.6 48.9h0M446.6 58.7h0M446.6 68.5h0M447 78.3h0M448 88.1h0M447.7 97.9h0M446 107.7h0M444 117.5h0M436.5 137.1h0M430.6 156.7h0M427.1 176.3h0M426.1 195.9h0M418.5 215.4h0M373.8 264.4h0M345.4 313.4h0M311.6 411.4h0M287.5 509.4h0M267.8 607.4h0M248.5 705.3h0M231.3 803.3h0" stroke="#ff0000" stroke-width="12.2" stroke-linecap="round" fill="none"/>
<path d="M453.1,19.5 L453.1,23.4 L453.1,27.3 L453.1,31.3 L453.1,35.2 L453.1,39.1 L453.1,43 L452.2,48.9 L451,58.7 L448.9,68.5 L444.8,78.3 L442.4,88.1 L439.4,97.9 L435.3,107.7 L434.1,117.5 L437.7,137.1 L437.7,156.7 L416.5,176.3 L402,195.9 L390.1,215.4 L360.9,264.4 L359.1,313.4 L319.2,411.4 L299,509.4 L276.3,607.4 L256.5,705.3 L238.5,803.3" fill="none" stroke="#008000" stroke-width="2.8" stroke-linejoin="round"/>
<path d="M453.1 19.5h0M453.1 23.4h0M453.1 27.3h0M453.1 31.3h0M453.1 35.2h0M453.1 39.1h0M453.1 43h0M452.2 48.9h0M451 58.7h0M448.9 68.5h0M444.8 78.3h0M442.4 88.1h0M439.4 97.9h0M435.3 107.7h0M434.1 117.5h0M437.7 137.1h0M437.7 156.7h0M416.5 176.3h0M402 195.9h0M390.1 215.4h0M360.9 264.4h0M359.1 313.4h0M319.2 411.4h0M299 509.4h0M276.3 607.4h0M256.5 705.3h0M238.5 803.3h0" stroke="#008000" stroke-width="12.2" stroke-linecap="round" fill="none"/>
<path d="M451.3,20.5 L451.3,22.5 L451.3,24.7 L451.3,27 L451.3,29.5 L451.3,32.1 L451.3,35 L451.3,38.3 L451.3,41.8 L451.3,45.9 L451.3,50.5 L451.3,55.7 L451.3,61.8 L451.3,68.9 L451.3,77.2 L453.6,87 L455.5,98.6 L451.8,112.3 L441,128.8 L429.1,148.4 L418.3,172.1 L406.5,200.4 L391.6,234.5 L372,275.5 L349,324.9 L323.3,384.2 L301,455.4 L290.1,540.8 L275.4,642.9 L248.5,764.5 L219.5,909" fill="none" stroke="#ff00ff" stroke-width="2.8" stroke-linejoin="round"/>
<path d="M451.3 20.5h0M451.3 22.5h0M451.3 24.7h0M451.3 27h0M451.3 29.5h0M451.3 32.1h0M451.3 35h0M451.3 38.3h0M451.3 41.8h0M451.3 45.9h0M451.3 50.5h0M451.3 55.7h0M451.3 61.8h0M451.3 68.9h0M451.3 77.2h0M453.6 87h0M455.5 98.6h0M451.8 112.3h0M441 128.8h0M429.1 148.4h0M418.3 172.1h0M406.5 200.4h0M391.6 234.5h0M372 275.5h0M349 324.9h0M323.3 384.2h0M301 455.4h0M290.1 540.8h0M275.4 642.9h0M248.5 764.5h0" stroke="#ff00ff" stroke-width="12.2" stroke-linecap="round" fill="none"/>
</g>
<rect x="88.6" y="19.5" width="383.7" height="783.8" class="sp"/>
<line x1="82.3" y1="19.5" x2="88.6" y2="19.5" class="tk"/>
<line x1="82.3" y1="68.5" x2="88.6" y2="68.5" class="tk"/>
<line x1="82.3" y1="117.5" x2="88.6" y2="117.5" class="tk"/>
<line x1="82.3" y1="166.5" x2="88.6" y2="166.5" class="tk"/>
<line x1="82.3" y1="215.4" x2="88.6" y2="215.4" class="tk"/>
<line x1="82.3" y1="264.4" x2="88.6" y2="264.4" class="tk"/>
<line x1="82.3" y1="313.4" x2="88.6" y2="313.4" class="tk"/>
<line x1="82.3" y1="362.4" x2="88.6" y2="362.4" class="tk"/>
<line x1="82.3" y1="411.4" x2="88.6" y2="411.4" class="tk"/>
<line x1="82.3" y1="460.4" x2="88.6" y2="460.4" class="tk"/>
<line x1="82.3" y1="509.4" x2="88.6" y2="509.4" class="tk"/>
<line x1="82.3" y1="558.4" x2="88.6" y2="558.4" class="tk"/>
<line x1="82.3" y1="607.4" x2="88.6" y2="607.4" class="tk"/>
<line x1="82.3" y1="656.3" x2="88.6" y2="656.3" class="tk"/>
<line x1="82.3" y1="705.3" x2="88.6" y2="705.3" class="tk"/>
<line x1="82.3" y1="754.3" x2="88.6" y2="754.3" class="tk"/>
<line x1="162.3" y1="803.3" x2="162.3" y2="809.6" class="tk"/>
<line x1="237" y1="803.3" x2="237" y2="809.6" class="tk"/>
<line x1="311.8" y1="803.3" x2="311.8" y2="809.6" class="tk"/>
<line x1="386.5" y1="803.3" x2="386.5" y2="809.6" class="tk"/>
<line x1="461.2" y1="803.3" x2="461.2" y2="809.6" class="tk"/>
<line x1="668.4" y1="19.5" x2="668.4" y2="803.3" class="g"/>
<line x1="757.8" y1="19.5" x2="757.8" y2="803.3" class="g"/>
<line x1="847.2" y1="19.5" x2="847.2" y2="803.3" class="g"/>
<line x1="936.6" y1="19.5" x2="936.6" y2="803.3" class="g"/>
<line x1="586.6" y1="68.5" x2="970.5" y2="68.5" class="g"/>
<line x1="586.6" y1="117.5" x2="970.5" y2="117.5" class="g"/>
<line x1="586.6" y1="166.5" x2="970.5" y2="166.5" class="g"/>
<line x1="586.6" y1="215.4" x2="970.5" y2="215.4" class="g"/>
<line x1="586.6" y1="264.4" x2="970.5" y2="264.4" class="g"/>
<line x1="586.6" y1="313.4" x2="970.5" y2="313.4" class="g"/>
<line x1="586.6" y1="362.4" x2="970.5" y2="362.4" class="g"/>
<line x1="586.6" y1="411.4" x2="970.5" y2="411.4" class="g"/>
<line x1="586.6" y1="460.4" x2="970.5" y2="460.4" class="g"/>
<line x1="586.6" y1="509.4" x2="970.5" y2="509.4" class="g"/>
<line x1="586.6" y1="558.4" x2="970.5" y2="558.4" class="g"/>
<line x1="586.6" y1="607.4" x2="970.5" y2="607.4" class="g"/>
<line x1="586.6" y1="656.3" x2="970.5" y2="656.3" class="g"/>
<line x1="586.6" y1="705.3" x2="970.5" y2="705.3" class="g"/>
<line x1="586.6" y1="754.3" x2="970.5" y2="754.3" class="g"/>
<g clip-path="url(#c2)">
<path d="M668.8 78.3h0M673 80h0M679.6 81.8h0M686.1 83.6h0M692.6 85.3h0M698.9 87.1h0M705.3 88.9h0M715.3 90.6h0M726.7 92.4h0M738.1 94.2h0M749.6 95.9h0M761.2 97.7h0M772.7 99.4h0M778.1 101.2h0M783.6 103h0M789.2 104.7h0M794.7 106.5h0M800.2 108.3h0M805 110h0M808.3 111.8h0M811.5 113.6h0M814.7 115.3h0M817.8 117.1h0M821 118.8h0M825.1 120.6h0M829.7 122.4h0M834.3 124.1h0M838.9 125.9h0M843.7 127.7h0M848.3 129.4h0M851.6 131.2h0M855 133h0M858.4 134.7h0M861.7 136.5h0M864.9 138.2h0M867.8 140h0M870.4 141.8h0M873 143.5h0M875.4 145.3h0M877.9 147.1h0M880.3 148.8h0M882.5 150.6h0M884.7 152.4h0M887 154.1h0M889.3 155.9h0M891.8 157.6h0M893.6 159.4h0M894.7 161.2h0M895.8 162.9h0M896.9 164.7h0M897.9 166.5h0M898.9 168.2h0M899 170h0M898.9 171.8h0M898.7 173.5h0M898.6 175.3h0M898.4 177h0M898.3 178.8h0M898.3 180.6h0M898.3 182.3h0M898.4 184.1h0M898.6 185.9h0M898.9 187.6h0M899.2 189.4h0M899.5 191.2h0M899.7 192.9h0M899.9 194.7h0M900.1 196.4h0M900.4 198.2h0M901.5 200h0M902.5 201.7h0M903.5 203.5h0M904.5 205.3h0M905.6 207h0M906.9 208.8h0M908.5 210.6h0M910.2 212.3h0M911.9 214.1h0M913.7 215.8h0M915.5 217.6h0M917.4 219.4h0M919.3 221.1h0M921.1 222.9h0M922.8 224.7h0M924.5 226.4h0M925.5 228.2h0M926.1 230h0M926.6 231.7h0M927.1 233.5h0M927.7 235.2h0M928.3 237h0M929.3 238.8h0M930.3 240.5h0M931.5 242.3h0M932.7 244.1h0M934 245.8h0M934.8 247.6h0M935 249.3h0M935.2 251.1h0M935.3 252.9h0M935.3 254.6h0M935.3 256.4h0M935.2 258.2h0M935.1 259.9h0M935.1 261.7h0M935 263.5h0M935.1 265.2h0M935.2 267h0M935.4 268.7h0M935.6 270.5h0M935.8 272.3h0M936.1 274h0M936.3 275.8h0M936.5 277.6h0M936.7 279.3h0M936.8 281.1h0M936.8 282.9h0M936.8 284.6h0M936.7 286.4h0M936.5 288.1h0M936.4 289.9h0M936.2 291.7h0M936.1 293.4h0M936 295.2h0M935.9 297h0M935.9 298.7h0M936 300.5h0M936 302.3h0M936.1 304h0M936.1 305.8h0M936.1 307.5h0M935.9 309.3h0M935.7 311.1h0M935.5 312.8h0M935.1 314.6h0M934.7 316.4h0M934.3 318.1h0M933.8 319.9h0M933.5 321.7h0M933.2 323.4h0M933 325.2h0M932.8 326.9h0M932.8 328.7h0M932.7 330.5h0M932.7 332.2h0M932.7 334h0M932.6 335.8h0M932.5 337.5h0M932.3 339.3h0M932.1 341.1h0M931.6 342.8h0M931.1 344.6h0M930.5 346.3h0M930.1 348.1h0M929.7 349.9h0M929.3 351.6h0M929.1 353.4h0M928.9 355.2h0M928.8 356.9h0M928.7 358.7h0M928.7 360.5h0M928.6 362.2h0M928.5 364h0M928.3 365.7h0M928.1 367.5h0M927.8 369.3h0M927.4 371h0M927 372.8h0M926.5 374.6h0M926.1 376.3h0M925.7 378.1h0M925.3 379.9h0M925 381.6h0M924.8 383.4h0M924.6 385.1h0M924.5 386.9h0M924.3 388.7h0M924 390.4h0M923.7 392.2h0M923.3 394h0M922.9 395.7h0M922.3 397.5h0M921.7 399.3h0M921 401h0M920.3 402.8h0M919.6 404.5h0M919 406.3h0M918.4 408.1h0M917.9 409.8h0M917.5 411.6h0M917 413.4h0M916.5 415.1h0M916.1 416.9h0M915.6 418.7h0M915.1 420.4h0M914.6 422.2h0M914 423.9h0M913.3 425.7h0M912.6 427.5h0M911.9 429.2h0M911.1 431h0M910.4 432.8h0M909.8 434.5h0M909.2 436.3h0M908.7 438h0M908.3 439.8h0M907.9 441.6h0M907.6 443.3h0M907.4 445.1h0M907.1 446.9h0M906.8 448.6h0M906.4 450.4h0M906 452.2h0M905.4 453.9h0M904.8 455.7h0M904.2 457.4h0M903.5 459.2h0M902.9 461h0M902.3 462.7h0M901.7 464.5h0M901.2 466.3h0M900.7 468h0M900.6 469.8h0M900.5 471.6h0M900.4 473.3h0M900.3 475.1h0M900.2 476.8h0M900 478.6h0M899.7 480.4h0M899.3 482.1h0M898.8 483.9h0M898.3 485.7h0M897.7 487.4h0M897.2 489.2h0M896.7 491h0M896.2 492.7h0M895.9 494.5h0M895.6 496.2h0M895.3 498h0M895.1 499.8h0M895 501.5h0M894.8 503.3h0M894.6 505.1h0M894.4 506.8h0M894.1 508.6h0M893.7 510.4h0M893.3 512.1h0M892.8 513.9h0M892.3 515.6h0M891.7 517.4h0M891.2 519.2h0M890.8 520.9h0M890.5 522.7h0M890.2 524.5h0M890.1 526.2h0M889.9 528h0M889.9 529.8h0M889.8 531.5h0M889.6 533.3h0M889.5 535h0M889.2 536.8h0M888.9 538.6h0M888.5 540.3h0M888.1 542.1h0M887.6 543.9h0M887.1 545.6h0M886.7 547.4h0M886.3 549.2h0M886 550.9h0M885.7 552.7h0M885.5 554.4h0M885.3 556.2h0M885.1 558h0M885 559.7h0M884.8 561.5h0M884.5 563.3h0M884.1 565h0M883.6 566.8h0M883.1 568.6h0M882.5 570.3h0M881.8 572.1h0M881.2 573.8h0M880.6 575.6h0M880.1 577.4h0M879.6 579.1h0M879.2 580.9h0M878.8 582.7h0M878.6 584.4h0M878.3 586.2h0M878.1 588h0M877.8 589.7h0M877.4 591.5h0M877 593.2h0M876.6 595h0M876.1 596.8h0M875.5 598.5h0M875 600.3h0M874.4 602.1h0M873.9 603.8h0M873.5 605.6h0M873.2 607.3h0M872.8 609.1h0M872.5 610.9h0M872.2 612.6h0M872 614.4h0M871.8 616.2h0M871.6 617.9h0M871.3 619.7h0M871 621.5h0M870.6 623.2h0M870.1 625h0M869.5 626.7h0M869 628.5h0M868.4 630.3h0M867.8 632h0M867.3 633.8h0M866.9 635.6h0M866.5 637.3h0M866.2 639.1h0M865.9 640.9h0M865.7 642.6h0M865.4 644.4h0M865.1 646.1h0M864.7 647.9h0M864.2 649.7h0M863.6 651.4h0M863 653.2h0M862.3 655h0M861.5 656.7h0M860.8 658.5h0M860 660.3h0M859.3 662h0M858.6 663.8h0M858 665.5h0M857.4 667.3h0M856.9 669.1h0M856.5 670.8h0M856 672.6h0M855.5 674.4h0M855 676.1h0M854.4 677.9h0M853.8 679.7h0M853.1 681.4h0M852.3 683.2h0M851.6 684.9h0M850.8 686.7h0M850.1 688.5h0M849.4 690.2h0M848.9 692h0M848.4 693.8h0M848 695.5h0M847.7 697.3h0M847.4 699.1h0M847.1 700.8h0M846.8 702.6h0M846.4 704.3h0M846 706.1h0M845.6 707.9h0M845.1 709.6h0M844.5 711.4h0M843.9 713.2h0M843.3 714.9h0M842.7 716.7h0M842.2 718.5h0M841.7 720.2h0M841.3 722h0M841 723.7h0M840.7 725.5h0M840.4 727.3h0M840.1 729h0M839.8 730.8h0M839.4 732.6h0M838.9 734.3h0M838.3 736.1h0M837.7 737.9h0M837 739.6h0M836.2 741.4h0M835.4 743.1h0M834.7 744.9h0M834 746.7h0M833.3 748.4h0M832.7 750.2h0M832.2 752h0M831.8 753.7h0M831.4 755.5h0M831 757.3h0M830.5 759h0M830.1 760.8h0M829.5 762.5h0M828.9 764.3h0M828.3 766.1h0M827.6 767.8h0M826.9 769.6h0M826.1 771.4h0M825.5 773.1h0M824.9 774.9h0M824.3 776.7h0M823.9 778.4h0M823.5 780.2h0M823.2 781.9h0M823 783.7h0M822.7 785.5h0M822.5 787.2h0M822.2 789h0M821.9 790.8h0M821.4 792.5h0M820.9 794.3h0M820.4 796h0M819.8 797.8h0M819.2 799.6h0M818.6 801.3h0M818.1 803.1h0M676.8 78.3h0M681 80h0M687.6 81.8h0M694.2 83.6h0M701 85.3h0M707.8 87.1h0M714.7 88.9h0M725.3 90.6h0M737.3 92.4h0M749.2 94.2h0M761.2 95.9h0M773.1 97.7h0M784.7 99.4h0M790.2 101.2h0M795.6 103h0M800.9 104.7h0M806.1 106.5h0M811.4 108.3h0M816 110h0M819.2 111.8h0M822.5 113.6h0M825.9 115.3h0M829.3 117.1h0M832.8 118.8h0M837.1 120.6h0M841.9 122.4h0M846.7 124.1h0M851.4 125.9h0M856 127.7h0M860.4 129.4h0M863.4 131.2h0M866.4 133h0M869.3 134.7h0M872.2 136.5h0M875.2 138.2h0M877.9 140h0M880.5 141.8h0M883.2 143.5h0M886 145.3h0M888.8 147.1h0M891.7 148.8h0M894.3 150.6h0M896.9 152.4h0M899.4 154.1h0M901.9 155.9h0M904.3 157.6h0M906.1 159.4h0M906.9 161.2h0M907.8 162.9h0M908.6 164.7h0M909.5 166.5h0M910.4 168.2h0M910.6 170h0M910.7 171.8h0M910.9 173.5h0M911.1 175.3h0M911.4 177h0M911.7 178.8h0M912 180.6h0M912.2 182.3h0M912.3 184.1h0M912.4 185.9h0M912.4 187.6h0M912.3 189.4h0M912.1 191.2h0M912 192.9h0M911.8 194.7h0M911.7 196.4h0M911.9 198.2h0M913 200h0M914.1 201.7h0M915.3 203.5h0M916.6 205.3h0M917.8 207h0M919.4 208.8h0M921 210.6h0M922.6 212.3h0M924.1 214.1h0M925.6 215.8h0M926.9 217.6h0M928.4 219.4h0M929.9 221.1h0M931.4 222.9h0M932.9 224.7h0M934.6 226.4h0M935.7 228.2h0M936.5 230h0M937.4 231.7h0M938.4 233.5h0M939.3 235.2h0M940.3 237h0M941.6 238.8h0M942.8 240.5h0M943.9 242.3h0M945 244.1h0M946 245.8h0M946.6 247.6h0M946.5 249.3h0M946.5 251.1h0M946.5 252.9h0M946.6 254.6h0M946.7 256.4h0M947 258.2h0M947.3 259.9h0M947.6 261.7h0M948 263.5h0M948.3 265.2h0M948.6 267h0M948.9 268.7h0M949 270.5h0M948.9 272.3h0M948.8 274h0M948.6 275.8h0M948.4 277.6h0M948.1 279.3h0M947.9 281.1h0M947.8 282.9h0M947.7 284.6h0M947.7 286.4h0M947.7 288.1h0M947.8 289.9h0M947.8 291.7h0M947.9 293.4h0M947.8 295.2h0M947.7 297h0M947.5 298.7h0M947.2 300.5h0M946.8 302.3h0M946.4 304h0M945.9 305.8h0M945.5 307.5h0M945.2 309.3h0M944.8 311.1h0M944.6 312.8h0M944.4 314.6h0M944.3 316.4h0M944.3 318.1h0M944.3 319.9h0M944.3 321.7h0M944.2 323.4h0M944.1 325.2h0M944 326.9h0M943.8 328.7h0M943.5 330.5h0M943.2 332.2h0M942.9 334h0M942.6 335.8h0M942.4 337.5h0M942.2 339.3h0M942.1 341.1h0M941.9 342.8h0M941.7 344.6h0M941.6 346.3h0M941.6 348.1h0M941.5 349.9h0M941.4 351.6h0M941.2 353.4h0M940.9 355.2h0M940.5 356.9h0M940.1 358.7h0M939.6 360.5h0M939.1 362.2h0M938.6 364h0M938.1 365.7h0M937.6 367.5h0M937.3 369.3h0M936.9 371h0M936.6 372.8h0M936.4 374.6h0M936.2 376.3h0M935.9 378.1h0M935.6 379.9h0M935.3 381.6h0M934.8 383.4h0M934.3 385.1h0M933.7 386.9h0M933 388.7h0M932.3 390.4h0M931.6 392.2h0M930.9 394h0M930.3 395.7h0M929.7 397.5h0M929.2 399.3h0M928.8 401h0M928.5 402.8h0M928.2 404.5h0M927.9 406.3h0M927.6 408.1h0M927.3 409.8h0M926.8 411.6h0M926.2 413.4h0M925.6 415.1h0M924.9 416.9h0M924.2 418.7h0M923.6 420.4h0M922.9 422.2h0M922.4 423.9h0M921.9 425.7h0M921.5 427.5h0M921.1 429.2h0M920.9 431h0M920.6 432.8h0M920.4 434.5h0M920.1 436.3h0M919.7 438h0M919.3 439.8h0M918.8 441.6h0M918.2 443.3h0M917.6 445.1h0M916.9 446.9h0M916.2 448.6h0M915.5 450.4h0M914.9 452.2h0M914.3 453.9h0M913.8 455.7h0M913.4 457.4h0M913 459.2h0M912.6 461h0M912.1 462.7h0M911.7 464.5h0M911.2 466.3h0M910.6 468h0M910.2 469.8h0M909.7 471.6h0M909.2 473.3h0M908.6 475.1h0M908.1 476.8h0M907.6 478.6h0M907.1 480.4h0M906.7 482.1h0M906.4 483.9h0M906.2 485.7h0M906 487.4h0M905.9 489.2h0M905.8 491h0M905.7 492.7h0M905.5 494.5h0M905.3 496.2h0M905 498h0M904.6 499.8h0M904.2 501.5h0M903.8 503.3h0M903.4 505.1h0M903.1 506.8h0M902.8 508.6h0M902.6 510.4h0M902.5 512.1h0M902.4 513.9h0M902.3 515.6h0M902.2 517.4h0M902.1 519.2h0M902 520.9h0M901.9 522.7h0M901.7 524.5h0M901.4 526.2h0M901 528h0M900.6 529.8h0M900.1 531.5h0M899.6 533.3h0M899.1 535h0M898.7 536.8h0M898.3 538.6h0M898 540.3h0M897.7 542.1h0M897.5 543.9h0M897.3 545.6h0M897.1 547.4h0M896.8 549.2h0M896.5 550.9h0M896.1 552.7h0M895.6 554.4h0M895.1 556.2h0M894.5 558h0M893.8 559.7h0M893.2 561.5h0M892.6 563.3h0M892 565h0M891.5 566.8h0M891.1 568.6h0M890.8 570.3h0M890.5 572.1h0M890.3 573.8h0M890.1 575.6h0M889.9 577.4h0M889.6 579.1h0M889.3 580.9h0M888.9 582.7h0M888.4 584.4h0M888 586.2h0M887.5 588h0M887 589.7h0M886.5 591.5h0M886.1 593.2h0M885.8 595h0M885.5 596.8h0M885.4 598.5h0M885.3 600.3h0M885.2 602.1h0M885.2 603.8h0M885.1 605.6h0M885 607.3h0M884.7 609.1h0M884.3 610.9h0M883.8 612.6h0M883.3 614.4h0M882.7 616.2h0M882.1 617.9h0M881.5 619.7h0M880.9 621.5h0M880.5 623.2h0M880 625h0M879.6 626.7h0M879.3 628.5h0M879 630.3h0M878.7 632h0M878.4 633.8h0M878 635.6h0M877.5 637.3h0M876.9 639.1h0M876.3 640.9h0M875.6 642.6h0M874.8 644.4h0M874.1 646.1h0M873.3 647.9h0M872.6 649.7h0M872 651.4h0M871.4 653.2h0M871 655h0M870.6 656.7h0M870.2 658.5h0M869.9 660.3h0M869.4 662h0M869 663.8h0M868.4 665.5h0M867.9 667.3h0M867.2 669.1h0M866.5 670.8h0M865.8 672.6h0M865.1 674.4h0M864.4 676.1h0M863.8 677.9h0M863.3 679.7h0M862.8 681.4h0M862.4 683.2h0M862.1 684.9h0M861.9 686.7h0M861.6 688.5h0M861.3 690.2h0M861 692h0M860.7 693.8h0M860.2 695.5h0M859.7 697.3h0M859.1 699.1h0M858.4 700.8h0M857.8 702.6h0M857.1 704.3h0M856.5 706.1h0M855.9 707.9h0M855.5 709.6h0M855.1 711.4h0M854.7 713.2h0M854.4 714.9h0M854.1 716.7h0M853.7 718.5h0M853.3 720.2h0M852.8 722h0M852.3 723.7h0M851.6 725.5h0M850.9 727.3h0M850.1 729h0M849.4 730.8h0M848.6 732.6h0M847.8 734.3h0M847.2 736.1h0M846.6 737.9h0M846.1 739.6h0M845.6 741.4h0M845.2 743.1h0M844.8 744.9h0M844.5 746.7h0M844 748.4h0M843.6 750.2h0M843 752h0M842.5 753.7h0M841.8 755.5h0M841.2 757.3h0M840.5 759h0M839.9 760.8h0M839.3 762.5h0M838.8 764.3h0M838.3 766.1h0M838 767.8h0M837.7 769.6h0M837.5 771.4h0M837.3 773.1h0M837.1 774.9h0M836.8 776.7h0M836.5 778.4h0M836.1 780.2h0M835.7 781.9h0M835.2 783.7h0M834.6 785.5h0M834 787.2h0M833.4 789h0M832.8 790.8h0M832.3 792.5h0M831.8 794.3h0M831.4 796h0M831.1 797.8h0M830.8 799.6h0M830.5 801.3h0M830.1 803.1h0M664 78.3h0M666.6 80h0M669.2 81.8h0M671.8 83.6h0M677.2 85.3h0M684.1 87.1h0M690.8 88.9h0M697.4 90.6h0M704 92.4h0M711.1 94.2h0M722.7 95.9h0M734.3 97.7h0M746 99.4h0M757.7 101.2h0M769.4 103h0M777.7 104.7h0M783.1 106.5h0M788.6 108.3h0M794.1 110h0M799.6 111.8h0M805.1 113.6h0M808.4 115.3h0M811.6 117.1h0M814.9 118.8h0M818.2 120.6h0M821.5 122.4h0M825.5 124.1h0M830.1 125.9h0M834.7 127.7h0M839.4 129.4h0M844.3 131.2h0M848.8 133h0M852.3 134.7h0M855.8 136.5h0M859.4 138.2h0M862.9 140h0M866.5 141.8h0M869.5 143.5h0M872.4 145.3h0M875.3 147.1h0M878.1 148.8h0M880.9 150.6h0M883.4 152.4h0M885.9 154.1h0M888.3 155.9h0M890.8 157.6h0M893.4 159.4h0M895.8 161.2h0M897 162.9h0M898.3 164.7h0M899.6 166.5h0M900.8 168.2h0M902 170h0M902.3 171.8h0M902.4 173.5h0M902.3 175.3h0M902.2 177h0M902.1 178.8h0M901.8 180.6h0M901.6 182.3h0M901.4 184.1h0M901.3 185.9h0M901.2 187.6h0M901.2 189.4h0M901.2 191.2h0M901.3 192.9h0M901.4 194.7h0M901.5 196.4h0M901.6 198.2h0M902.3 200h0M903.4 201.7h0M904.4 203.5h0M905.3 205.3h0M906.2 207h0M907.2 208.8h0M908.6 210.6h0M910 212.3h0M911.5 214.1h0M913.1 215.8h0M914.8 217.6h0M916.7 219.4h0M918.7 221.1h0M920.7 222.9h0M922.7 224.7h0M924.7 226.4h0M926.3 228.2h0M927.2 230h0M928 231.7h0M928.8 233.5h0M929.6 235.2h0M930.3 237h0M931.4 238.8h0M932.4 240.5h0M933.6 242.3h0M934.8 244.1h0M936.1 245.8h0M937 247.6h0M937.3 249.3h0M937.7 251.1h0M938.1 252.9h0M938.4 254.6h0M938.6 256.4h0M938.8 258.2h0M938.9 259.9h0M938.9 261.7h0M938.8 263.5h0M938.7 265.2h0M938.6 267h0M938.5 268.7h0M938.4 270.5h0M938.2 272.3h0M938.2 274h0M938.2 275.8h0M938.2 277.6h0M938.3 279.3h0M938.3 281.1h0M938.3 282.9h0M938.3 284.6h0M938.2 286.4h0M938 288.1h0M937.7 289.9h0M937.4 291.7h0M937.1 293.4h0M936.7 295.2h0M936.4 297h0M936.1 298.7h0M935.9 300.5h0M935.7 302.3h0M935.7 304h0M935.7 305.8h0M935.8 307.5h0M935.9 309.3h0M936 311.1h0M936 312.8h0M936 314.6h0M935.8 316.4h0M935.7 318.1h0M935.4 319.9h0M935.2 321.7h0M935 323.4h0M934.8 325.2h0M934.6 326.9h0M934.5 328.7h0M934.5 330.5h0M934.6 332.2h0M934.7 334h0M934.9 335.8h0M935 337.5h0M935.1 339.3h0M935.1 341.1h0M934.9 342.8h0M934.5 344.6h0M934.1 346.3h0M933.7 348.1h0M933.1 349.9h0M932.6 351.6h0M932.1 353.4h0M931.6 355.2h0M931.2 356.9h0M930.8 358.7h0M930.5 360.5h0M930.2 362.2h0M930 364h0M929.8 365.7h0M929.5 367.5h0M929.2 369.3h0M928.8 371h0M928.3 372.8h0M927.8 374.6h0M927.2 376.3h0M926.5 378.1h0M925.9 379.9h0M925.3 381.6h0M924.8 383.4h0M924.3 385.1h0M924 386.9h0M923.7 388.7h0M923.4 390.4h0M923.1 392.2h0M922.9 394h0M922.7 395.7h0M922.4 397.5h0M922.1 399.3h0M921.7 401h0M921.3 402.8h0M920.8 404.5h0M920.3 406.3h0M919.8 408.1h0M919.3 409.8h0M918.9 411.6h0M918.3 413.4h0M917.9 415.1h0M917.6 416.9h0M917.3 418.7h0M917 420.4h0M916.7 422.2h0M916.4 423.9h0M916.1 425.7h0M915.6 427.5h0M915.1 429.2h0M914.5 431h0M913.8 432.8h0M913.1 434.5h0M912.4 436.3h0M911.7 438h0M911 439.8h0M910.3 441.6h0M909.7 443.3h0M909.2 445.1h0M908.7 446.9h0M908.3 448.6h0M907.9 450.4h0M907.4 452.2h0M906.9 453.9h0M906.3 455.7h0M905.6 457.4h0M904.8 459.2h0M904 461h0M903.2 462.7h0M902.4 464.5h0M901.6 466.3h0M900.8 468h0M900.4 469.8h0M900.1 471.6h0M899.8 473.3h0M899.7 475.1h0M899.6 476.8h0M899.5 478.6h0M899.4 480.4h0M899.3 482.1h0M899.1 483.9h0M898.9 485.7h0M898.6 487.4h0M898.3 489.2h0M897.9 491h0M897.5 492.7h0M897.2 494.5h0M896.9 496.2h0M896.6 498h0M896.5 499.8h0M896.4 501.5h0M896.4 503.3h0M896.4 505.1h0M896.4 506.8h0M896.4 508.6h0M896.4 510.4h0M896.3 512.1h0M896 513.9h0M895.7 515.6h0M895.2 517.4h0M894.7 519.2h0M894.1 520.9h0M893.6 522.7h0M893.1 524.5h0M892.6 526.2h0M892.2 528h0M891.9 529.8h0M891.6 531.5h0M891.4 533.3h0M891.1 535h0M890.8 536.8h0M890.5 538.6h0M890.1 540.3h0M889.7 542.1h0M889.1 543.9h0M888.5 545.6h0M887.9 547.4h0M887.2 549.2h0M886.6 550.9h0M886 552.7h0M885.5 554.4h0M885 556.2h0M884.7 558h0M884.4 559.7h0M884.2 561.5h0M884 563.3h0M883.8 565h0M883.6 566.8h0M883.4 568.6h0M883 570.3h0M882.6 572.1h0M882.2 573.8h0M881.7 575.6h0M881.3 577.4h0M880.8 579.1h0M880.4 580.9h0M880.1 582.7h0M879.8 584.4h0M879.6 586.2h0M879.5 588h0M879.4 589.7h0M879.4 591.5h0M879.3 593.2h0M879.2 595h0M879 596.8h0M878.7 598.5h0M878.4 600.3h0M877.9 602.1h0M877.5 603.8h0M876.9 605.6h0M876.4 607.3h0M875.8 609.1h0M875.2 610.9h0M874.7 612.6h0M874.3 614.4h0M873.9 616.2h0M873.5 617.9h0M873.2 619.7h0M872.8 621.5h0M872.4 623.2h0M871.9 625h0M871.3 626.7h0M870.7 628.5h0M870 630.3h0M869.2 632h0M868.5 633.8h0M867.7 635.6h0M867 637.3h0M866.4 639.1h0M865.8 640.9h0M865.3 642.6h0M864.9 644.4h0M864.6 646.1h0M864.2 647.9h0M863.9 649.7h0M863.6 651.4h0M863.2 653.2h0M862.8 655h0M862.3 656.7h0M861.7 658.5h0M861.1 660.3h0M860.4 662h0M859.8 663.8h0M859.1 665.5h0M858.6 667.3h0M858.1 669.1h0M857.7 670.8h0M857.4 672.6h0M857.1 674.4h0M856.9 676.1h0M856.6 677.9h0M856.3 679.7h0M855.9 681.4h0M855.5 683.2h0M854.9 684.9h0M854.3 686.7h0M853.7 688.5h0M853 690.2h0M852.2 692h0M851.6 693.8h0M850.9 695.5h0M850.3 697.3h0M849.8 699.1h0M849.3 700.8h0M848.9 702.6h0M848.5 704.3h0M848 706.1h0M847.6 707.9h0M847.1 709.6h0M846.5 711.4h0M845.9 713.2h0M845.1 714.9h0M844.4 716.7h0M843.6 718.5h0M842.8 720.2h0M842 722h0M841.3 723.7h0M840.7 725.5h0M840.2 727.3h0M839.8 729h0M839.4 730.8h0M839 732.6h0M838.7 734.3h0M838.3 736.1h0M837.9 737.9h0M837.4 739.6h0M836.9 741.4h0M836.3 743.1h0M835.7 744.9h0M835 746.7h0M834.4 748.4h0M833.8 750.2h0M833.3 752h0M832.9 753.7h0M832.5 755.5h0M832.2 757.3h0M832 759h0M831.8 760.8h0M831.6 762.5h0M831.4 764.3h0M831.1 766.1h0M830.7 767.8h0M830.2 769.6h0M829.7 771.4h0M829.1 773.1h0M828.4 774.9h0M827.8 776.7h0M827.2 778.4h0M826.6 780.2h0M826 781.9h0M825.6 783.7h0M825.2 785.5h0M824.8 787.2h0M824.4 789h0M824.1 790.8h0M823.6 792.5h0M823.2 794.3h0M822.6 796h0M822 797.8h0M821.3 799.6h0M820.5 801.3h0M819.7 803.1h0M693.7 78.3h0M700 80h0M706.3 81.8h0M712.5 83.6h0M721.1 85.3h0M732.3 87.1h0M743.5 88.9h0M754.7 90.6h0M766 92.4h0M777.4 94.2h0M784.9 95.9h0M790.3 97.7h0M795.6 99.4h0M800.9 101.2h0M806.2 103h0M811.4 104.7h0M815 106.5h0M818.1 108.3h0M821.2 110h0M824.2 111.8h0M827.2 113.6h0M830.3 115.3h0M834.7 117.1h0M839.1 118.8h0M843.6 120.6h0M848.3 122.4h0M853 124.1h0M857.5 125.9h0M860.8 127.7h0M864.2 129.4h0M867.4 131.2h0M870.7 133h0M873.8 134.7h0M876.7 136.5h0M879.3 138.2h0M881.8 140h0M884.4 141.8h0M886.9 143.5h0M889.5 145.3h0M892 147.1h0M894.5 148.8h0M897 150.6h0M899.5 152.4h0M902.1 154.1h0M904.6 155.9h0M906 157.6h0M907.1 159.4h0M908 161.2h0M908.9 162.9h0M909.7 164.7h0M910.4 166.5h0M910.2 168.2h0M909.9 170h0M909.7 171.8h0M909.5 173.5h0M909.4 175.3h0M909.3 177h0M909.3 178.8h0M909.3 180.6h0M909.4 182.3h0M909.5 184.1h0M909.6 185.9h0M909.6 187.6h0M909.6 189.4h0M909.5 191.2h0M909.3 192.9h0M909.1 194.7h0M908.8 196.4h0M909.5 198.2h0M910.4 200h0M911.4 201.7h0M912.4 203.5h0M913.5 205.3h0M914.8 207h0M916.6 208.8h0M918.4 210.6h0M920.2 212.3h0M922 214.1h0M923.7 215.8h0M925.5 217.6h0M927.3 219.4h0M929 221.1h0M930.7 222.9h0M932.3 224.7h0M934 226.4h0M935 228.2h0M935.7 230h0M936.5 231.7h0M937.4 233.5h0M938.4 235.2h0M939.4 237h0M940.8 238.8h0M942.2 240.5h0M943.5 242.3h0M944.8 244.1h0M946 245.8h0M946.6 247.6h0M946.6 249.3h0M946.5 251.1h0M946.3 252.9h0M946.1 254.6h0M945.9 256.4h0M945.8 258.2h0M945.7 259.9h0M945.7 261.7h0M945.8 263.5h0M945.9 265.2h0M946.1 267h0M946.2 268.7h0M946.4 270.5h0M946.3 272.3h0M946.2 274h0M946.1 275.8h0M945.8 277.6h0M945.6 279.3h0M945.2 281.1h0M944.9 282.9h0M944.7 284.6h0M944.4 286.4h0M944.3 288.1h0M944.2 289.9h0M944.3 291.7h0M944.4 293.4h0M944.5 295.2h0M944.6 297h0M944.7 298.7h0M944.8 300.5h0M944.8 302.3h0M944.7 304h0M944.6 305.8h0M944.4 307.5h0M944.2 309.3h0M944 311.1h0M943.8 312.8h0M943.6 314.6h0M943.5 316.4h0M943.4 318.1h0M943.4 319.9h0M943.5 321.7h0M943.6 323.4h0M943.6 325.2h0M943.7 326.9h0M943.7 328.7h0M943.6 330.5h0M943.5 332.2h0M943.2 334h0M942.9 335.8h0M942.5 337.5h0M942.1 339.3h0M941.7 341.1h0M941.1 342.8h0M940.6 344.6h0M940.2 346.3h0M939.8 348.1h0M939.5 349.9h0M939.2 351.6h0M938.9 353.4h0M938.6 355.2h0M938.3 356.9h0M937.9 358.7h0M937.4 360.5h0M936.9 362.2h0M936.3 364h0M935.7 365.7h0M935.1 367.5h0M934.5 369.3h0M933.9 371h0M933.5 372.8h0M933.1 374.6h0M932.8 376.3h0M932.6 378.1h0M932.4 379.9h0M932.3 381.6h0M932.2 383.4h0M932 385.1h0M931.8 386.9h0M931.5 388.7h0M931 390.4h0M930.6 392.2h0M930.1 394h0M929.5 395.7h0M929 397.5h0M928.5 399.3h0M928.1 401h0M927.8 402.8h0M927.5 404.5h0M927.3 406.3h0M927.1 408.1h0M927 409.8h0M926.7 411.6h0M926.4 413.4h0M925.9 415.1h0M925.4 416.9h0M924.8 418.7h0M924.1 420.4h0M923.4 422.2h0M922.6 423.9h0M921.8 425.7h0M921.1 427.5h0M920.4 429.2h0M919.8 431h0M919.2 432.8h0M918.7 434.5h0M918.2 436.3h0M917.8 438h0M917.3 439.8h0M916.8 441.6h0M916.2 443.3h0M915.6 445.1h0M914.9 446.9h0M914.1 448.6h0M913.3 450.4h0M912.5 452.2h0M911.7 453.9h0M911 455.7h0M910.3 457.4h0M909.7 459.2h0M909.2 461h0M908.8 462.7h0M908.4 464.5h0M908.1 466.3h0M907.8 468h0M907.7 469.8h0M907.6 471.6h0M907.4 473.3h0M907.2 475.1h0M906.9 476.8h0M906.6 478.6h0M906.2 480.4h0M905.9 482.1h0M905.6 483.9h0M905.4 485.7h0M905.2 487.4h0M905.1 489.2h0M905 491h0M905 492.7h0M905.1 494.5h0M905 496.2h0M905 498h0M904.9 499.8h0M904.7 501.5h0M904.4 503.3h0M904 505.1h0M903.6 506.8h0M903.1 508.6h0M902.6 510.4h0M902.2 512.1h0M901.7 513.9h0M901.3 515.6h0M900.9 517.4h0M900.6 519.2h0M900.3 520.9h0M900 522.7h0M899.7 524.5h0M899.4 526.2h0M899.1 528h0M898.6 529.8h0M898.1 531.5h0M897.6 533.3h0M896.9 535h0M896.3 536.8h0M895.7 538.6h0M895.1 540.3h0M894.6 542.1h0M894.2 543.9h0M893.9 545.6h0M893.6 547.4h0M893.4 549.2h0M893.3 550.9h0M893.1 552.7h0M893 554.4h0M892.8 556.2h0M892.5 558h0M892.2 559.7h0M891.8 561.5h0M891.4 563.3h0M890.9 565h0M890.5 566.8h0M890.1 568.6h0M889.7 570.3h0M889.5 572.1h0M889.3 573.8h0M889.1 575.6h0M889 577.4h0M889 579.1h0M888.9 580.9h0M888.8 582.7h0M888.6 584.4h0M888.3 586.2h0M887.9 588h0M887.5 589.7h0M887 591.5h0M886.4 593.2h0M885.9 595h0M885.3 596.8h0M884.8 598.5h0M884.4 600.3h0M884 602.1h0M883.7 603.8h0M883.4 605.6h0M883.2 607.3h0M882.8 609.1h0M882.4 610.9h0M881.9 612.6h0M881.4 614.4h0M880.8 616.2h0M880.1 617.9h0M879.4 619.7h0M878.6 621.5h0M877.9 623.2h0M877.2 625h0M876.6 626.7h0M876 628.5h0M875.5 630.3h0M875.2 632h0M874.8 633.8h0M874.6 635.6h0M874.3 637.3h0M874 639.1h0M873.7 640.9h0M873.4 642.6h0M872.9 644.4h0M872.4 646.1h0M871.9 647.9h0M871.3 649.7h0M870.7 651.4h0M870.2 653.2h0M869.7 655h0M869.3 656.7h0M869 658.5h0M868.7 660.3h0M868.4 662h0M868.2 663.8h0M867.9 665.5h0M867.6 667.3h0M867.2 669.1h0M866.8 670.8h0M866.2 672.6h0M865.6 674.4h0M864.9 676.1h0M864.2 677.9h0M863.4 679.7h0M862.7 681.4h0M862 683.2h0M861.3 684.9h0M860.8 686.7h0M860.2 688.5h0M859.8 690.2h0M859.3 692h0M858.9 693.8h0M858.4 695.5h0M857.9 697.3h0M857.3 699.1h0M856.6 700.8h0M855.9 702.6h0M855.1 704.3h0M854.2 706.1h0M853.4 707.9h0M852.7 709.6h0M852 711.4h0M851.4 713.2h0M850.9 714.9h0M850.5 716.7h0M850.1 718.5h0M849.8 720.2h0M849.5 722h0M849.2 723.7h0M848.8 725.5h0M848.5 727.3h0M848 729h0M847.5 730.8h0M846.9 732.6h0M846.3 734.3h0M845.7 736.1h0M845.1 737.9h0M844.6 739.6h0M844.2 741.4h0M843.8 743.1h0M843.5 744.9h0M843.2 746.7h0M843 748.4h0M842.8 750.2h0M842.6 752h0M842.3 753.7h0M841.9 755.5h0M841.4 757.3h0M840.9 759h0M840.3 760.8h0M839.6 762.5h0M838.9 764.3h0M838.3 766.1h0M837.6 767.8h0M837 769.6h0M836.5 771.4h0M836 773.1h0M835.6 774.9h0M835.2 776.7h0M834.8 778.4h0M834.4 780.2h0M834 781.9h0M833.4 783.7h0M832.8 785.5h0M832.1 787.2h0M831.4 789h0M830.6 790.8h0M829.9 792.5h0M829.1 794.3h0M828.4 796h0M827.8 797.8h0M827.3 799.6h0M826.8 801.3h0M826.4 803.1h0M680 78.3h0M686.4 80h0M692.8 81.8h0M699.3 83.6h0M705.9 85.3h0M714.3 87.1h0M725.8 88.9h0M737.2 90.6h0M748.6 92.4h0M760 94.2h0M771.3 95.9h0M778.9 97.7h0M783.9 99.4h0M788.9 101.2h0M794 103h0M799.1 104.7h0M804.3 106.5h0M808 108.3h0M811.4 110h0M814.8 111.8h0M818.3 113.6h0M821.8 115.3h0M825.3 117.1h0M830 118.8h0M834.8 120.6h0M839.4 122.4h0M844 124.1h0M848.5 125.9h0M852.5 127.7h0M855.6 129.4h0M858.6 131.2h0M861.7 133h0M864.8 134.7h0M868 136.5h0M871 138.2h0M873.8 140h0M876.7 141.8h0M879.5 143.5h0M882.3 145.3h0M885.1 147.1h0M887.5 148.8h0M889.8 150.6h0M892 152.4h0M894.2 154.1h0M896.3 155.9h0M898 157.6h0M898.7 159.4h0M899.4 161.2h0M900.1 162.9h0M901 164.7h0M901.9 166.5h0M902.4 168.2h0M902.5 170h0M902.6 171.8h0M902.7 173.5h0M902.7 175.3h0M902.7 177h0M902.7 178.8h0M902.6 180.6h0M902.4 182.3h0M902.2 184.1h0M902 185.9h0M901.8 187.6h0M901.7 189.4h0M901.7 191.2h0M901.7 192.9h0M901.9 194.7h0M902.1 196.4h0M903 198.2h0M904.4 200h0M905.8 201.7h0M907.1 203.5h0M908.4 205.3h0M909.6 207h0M911.2 208.8h0M912.7 210.6h0M914.2 212.3h0M915.7 214.1h0M917.2 215.8h0M918.8 217.6h0M920.5 219.4h0M922.3 221.1h0M924.1 222.9h0M926 224.7h0M928 226.4h0M929.3 228.2h0M930.3 230h0M931.2 231.7h0M932 233.5h0M932.8 235.2h0M933.5 237h0M934.4 238.8h0M935.3 240.5h0M936.2 242.3h0M937.1 244.1h0M938 245.8h0M938.5 247.6h0M938.4 249.3h0M938.5 251.1h0M938.6 252.9h0M938.7 254.6h0M938.9 256.4h0M939.1 258.2h0M939.3 259.9h0M939.3 261.7h0M939.4 263.5h0M939.4 265.2h0M939.3 267h0M939.2 268.7h0M939 270.5h0M938.8 272.3h0M938.6 274h0M938.5 275.8h0M938.5 277.6h0M938.5 279.3h0M938.6 281.1h0M938.8 282.9h0M939.1 284.6h0M939.3 286.4h0M939.5 288.1h0M939.6 289.9h0M939.7 291.7h0M939.7 293.4h0M939.6 295.2h0M939.4 297h0M939.1 298.7h0M938.9 300.5h0M938.7 302.3h0M938.6 304h0M938.5 305.8h0M938.5 307.5h0M938.6 309.3h0M938.7 311.1h0M938.8 312.8h0M938.8 314.6h0M938.8 316.4h0M938.7 318.1h0M938.6 319.9h0M938.3 321.7h0M938 323.4h0M937.6 325.2h0M937.2 326.9h0M936.8 328.7h0M936.4 330.5h0M936.1 332.2h0M935.8 334h0M935.6 335.8h0M935.5 337.5h0M935.4 339.3h0M935.3 341.1h0M935.1 342.8h0M934.8 344.6h0M934.5 346.3h0M934.1 348.1h0M933.6 349.9h0M933.1 351.6h0M932.6 353.4h0M932 355.2h0M931.5 356.9h0M931 358.7h0M930.5 360.5h0M930.2 362.2h0M929.9 364h0M929.7 365.7h0M929.6 367.5h0M929.5 369.3h0M929.5 371h0M929.4 372.8h0M929.2 374.6h0M929 376.3h0M928.7 378.1h0M928.4 379.9h0M928 381.6h0M927.5 383.4h0M927.1 385.1h0M926.7 386.9h0M926.3 388.7h0M925.9 390.4h0M925.6 392.2h0M925.3 394h0M925.1 395.7h0M924.9 397.5h0M924.7 399.3h0M924.5 401h0M924.2 402.8h0M923.8 404.5h0M923.3 406.3h0M922.7 408.1h0M922.1 409.8h0M921.4 411.6h0M920.6 413.4h0M919.8 415.1h0M919 416.9h0M918.3 418.7h0M917.7 420.4h0M917.2 422.2h0M916.7 423.9h0M916.2 425.7h0M915.7 427.5h0M915.3 429.2h0M914.7 431h0M914.1 432.8h0M913.5 434.5h0M912.8 436.3h0M912 438h0M911.2 439.8h0M910.5 441.6h0M909.7 443.3h0M909.1 445.1h0M908.5 446.9h0M908 448.6h0M907.6 450.4h0M907.3 452.2h0M907 453.9h0M906.7 455.7h0M906.4 457.4h0M906 459.2h0M905.6 461h0M905.1 462.7h0M904.6 464.5h0M904 466.3h0M903.3 468h0M903 469.8h0M902.6 471.6h0M902.3 473.3h0M902.1 475.1h0M902 476.8h0M901.9 478.6h0M901.8 480.4h0M901.8 482.1h0M901.7 483.9h0M901.7 485.7h0M901.5 487.4h0M901.3 489.2h0M901 491h0M900.6 492.7h0M900.1 494.5h0M899.6 496.2h0M899.1 498h0M898.6 499.8h0M898.1 501.5h0M897.7 503.3h0M897.4 505.1h0M897.1 506.8h0M896.9 508.6h0M896.7 510.4h0M896.6 512.1h0M896.4 513.9h0M896 515.6h0M895.6 517.4h0M895.2 519.2h0M894.6 520.9h0M894.1 522.7h0M893.5 524.5h0M892.9 526.2h0M892.3 528h0M891.8 529.8h0M891.4 531.5h0M891.1 533.3h0M890.8 535h0M890.7 536.8h0M890.5 538.6h0M890.4 540.3h0M890.3 542.1h0M890.2 543.9h0M889.9 545.6h0M889.7 547.4h0M889.3 549.2h0M888.9 550.9h0M888.4 552.7h0M888 554.4h0M887.5 556.2h0M887.2 558h0M886.8 559.7h0M886.6 561.5h0M886.4 563.3h0M886.2 565h0M886.1 566.8h0M886 568.6h0M885.9 570.3h0M885.6 572.1h0M885.4 573.8h0M885 575.6h0M884.5 577.4h0M884 579.1h0M883.4 580.9h0M882.8 582.7h0M882.2 584.4h0M881.6 586.2h0M881.1 588h0M880.7 589.7h0M880.3 591.5h0M880 593.2h0M879.7 595h0M879.5 596.8h0M879.2 598.5h0M878.9 600.3h0M878.5 602.1h0M878.1 603.8h0M877.6 605.6h0M877 607.3h0M876.3 609.1h0M875.6 610.9h0M874.9 612.6h0M874.3 614.4h0M873.7 616.2h0M873.3 617.9h0M872.9 619.7h0M872.6 621.5h0M872.3 623.2h0M872.1 625h0M871.9 626.7h0M871.6 628.5h0M871.3 630.3h0M870.9 632h0M870.5 633.8h0M869.9 635.6h0M869.4 637.3h0M868.8 639.1h0M868.3 640.9h0M867.8 642.6h0M867.3 644.4h0M866.9 646.1h0M866.6 647.9h0M866.4 649.7h0M866.1 651.4h0M865.9 653.2h0M865.6 655h0M865.3 656.7h0M864.9 658.5h0M864.4 660.3h0M863.8 662h0M863.1 663.8h0M862.3 665.5h0M861.5 667.3h0M860.7 669.1h0M860 670.8h0M859.3 672.6h0M858.6 674.4h0M858.1 676.1h0M857.5 677.9h0M857.1 679.7h0M856.6 681.4h0M856.1 683.2h0M855.6 684.9h0M855.1 686.7h0M854.4 688.5h0M853.7 690.2h0M853 692h0M852.2 693.8h0M851.4 695.5h0M850.6 697.3h0M849.9 699.1h0M849.2 700.8h0M848.7 702.6h0M848.2 704.3h0M847.8 706.1h0M847.5 707.9h0M847.2 709.6h0M847 711.4h0M846.7 713.2h0M846.3 714.9h0M845.9 716.7h0M845.4 718.5h0M844.9 720.2h0M844.3 722h0M843.7 723.7h0M843.2 725.5h0M842.6 727.3h0M842.1 729h0M841.7 730.8h0M841.4 732.6h0M841.1 734.3h0M840.8 736.1h0M840.6 737.9h0M840.3 739.6h0M840 741.4h0M839.6 743.1h0M839.1 744.9h0M838.5 746.7h0M837.9 748.4h0M837.2 750.2h0M836.5 752h0M835.7 753.7h0M835 755.5h0M834.4 757.3h0M833.8 759h0M833.2 760.8h0M832.8 762.5h0M832.4 764.3h0M831.9 766.1h0M831.5 767.8h0M831.1 769.6h0M830.6 771.4h0M830 773.1h0M829.4 774.9h0M828.6 776.7h0M827.9 778.4h0M827.2 780.2h0M826.4 781.9h0M825.7 783.7h0M825.1 785.5h0M824.6 787.2h0M824.1 789h0M823.8 790.8h0M823.5 792.5h0M823.2 794.3h0M823 796h0M822.7 797.8h0M822.3 799.6h0M821.9 801.3h0M821.5 803.1h0M670.5 78.3h0M673 80h0M675.4 81.8h0M681.1 83.6h0M687.7 85.3h0M694.3 87.1h0M700.9 88.9h0M707.5 90.6h0M714.8 92.4h0M726.7 94.2h0M738.6 95.9h0M750.5 97.7h0M762.6 99.4h0M774.7 101.2h0M783.4 103h0M789.2 104.7h0M794.9 106.5h0M800.5 108.3h0M806.1 110h0M811.5 111.8h0M815 113.6h0M818.3 115.3h0M821.6 117.1h0M824.9 118.8h0M828.2 120.6h0M832.1 122.4h0M836.9 124.1h0M841.7 125.9h0M846.6 127.7h0M851.5 129.4h0M856.4 131.2h0M859.9 133h0M863.3 134.7h0M866.6 136.5h0M869.8 138.2h0M873 140h0M875.8 141.8h0M878.3 143.5h0M880.8 145.3h0M883.4 147.1h0M885.9 148.8h0M888.5 150.6h0M890.8 152.4h0M893.3 154.1h0M895.8 155.9h0M898.3 157.6h0M900.9 159.4h0M902.5 161.2h0M903.6 162.9h0M904.7 164.7h0M905.7 166.5h0M906.6 168.2h0M907.3 170h0M907.1 171.8h0M907 173.5h0M906.8 175.3h0M906.7 177h0M906.7 178.8h0M906.8 180.6h0M906.9 182.3h0M907.1 184.1h0M907.4 185.9h0M907.7 187.6h0M907.9 189.4h0M908.2 191.2h0M908.4 192.9h0M908.5 194.7h0M908.6 196.4h0M908.6 198.2h0M909.5 200h0M910.5 201.7h0M911.5 203.5h0M912.5 205.3h0M913.6 207h0M914.9 208.8h0M916.6 210.6h0M918.3 212.3h0M920.1 214.1h0M921.9 215.8h0M923.7 217.6h0M925.6 219.4h0M927.4 221.1h0M929.2 222.9h0M930.9 224.7h0M932.5 226.4h0M933.5 228.2h0M934.1 230h0M934.6 231.7h0M935.1 233.5h0M935.8 235.2h0M936.4 237h0M937.5 238.8h0M938.7 240.5h0M939.9 242.3h0M941.1 244.1h0M942.4 245.8h0M943.2 247.6h0M943.3 249.3h0M943.4 251.1h0M943.4 252.9h0M943.4 254.6h0M943.3 256.4h0M943.2 258.2h0M943.2 259.9h0M943.1 261.7h0M943.2 263.5h0M943.3 265.2h0M943.4 267h0M943.7 268.7h0M944 270.5h0M944.3 272.3h0M944.5 274h0M944.7 275.8h0M944.9 277.6h0M944.9 279.3h0M944.9 281.1h0M944.9 282.9h0M944.7 284.6h0M944.6 286.4h0M944.4 288.1h0M944.2 289.9h0M944.1 291.7h0M944 293.4h0M943.9 295.2h0M943.9 297h0M943.9 298.7h0M944 300.5h0M944 302.3h0M944 304h0M943.9 305.8h0M943.8 307.5h0M943.5 309.3h0M943.2 311.1h0M942.8 312.8h0M942.4 314.6h0M942 316.4h0M941.5 318.1h0M941.1 319.9h0M940.8 321.7h0M940.6 323.4h0M940.4 325.2h0M940.4 326.9h0M940.3 328.7h0M940.3 330.5h0M940.2 332.2h0M940.1 334h0M940 335.8h0M939.8 337.5h0M939.5 339.3h0M939.2 341.1h0M938.7 342.8h0M938.1 344.6h0M937.7 346.3h0M937.2 348.1h0M936.9 349.9h0M936.6 351.6h0M936.4 353.4h0M936.3 355.2h0M936.2 356.9h0M936.2 358.7h0M936.1 360.5h0M935.9 362.2h0M935.7 364h0M935.5 365.7h0M935.1 367.5h0M934.7 369.3h0M934.2 371h0M933.7 372.8h0M933.3 374.6h0M932.8 376.3h0M932.4 378.1h0M932.1 379.9h0M931.9 381.6h0M931.7 383.4h0M931.5 385.1h0M931.3 386.9h0M931 388.7h0M930.7 390.4h0M930.3 392.2h0M929.7 394h0M929.2 395.7h0M928.5 397.5h0M927.8 399.3h0M927.1 401h0M926.4 402.8h0M925.7 404.5h0M925.1 406.3h0M924.6 408.1h0M924.2 409.8h0M923.8 411.6h0M923.3 413.4h0M922.9 415.1h0M922.4 416.9h0M922 418.7h0M921.4 420.4h0M920.9 422.2h0M920.2 423.9h0M919.5 425.7h0M918.8 427.5h0M918 429.2h0M917.4 431h0M916.7 432.8h0M916.2 434.5h0M915.7 436.3h0M915.3 438h0M915 439.8h0M914.7 441.6h0M914.4 443.3h0M914.2 445.1h0M913.8 446.9h0M913.5 448.6h0M913 450.4h0M912.5 452.2h0M911.9 453.9h0M911.3 455.7h0M910.6 457.4h0M909.9 459.2h0M909.3 461h0M908.7 462.7h0M908.2 464.5h0M907.8 466.3h0M907.4 468h0M907.3 469.8h0M907.2 471.6h0M907.1 473.3h0M907 475.1h0M906.7 476.8h0M906.4 478.6h0M906 480.4h0M905.5 482.1h0M905 483.9h0M904.5 485.7h0M903.9 487.4h0M903.4 489.2h0M903 491h0M902.6 492.7h0M902.4 494.5h0M902.1 496.2h0M902 498h0M901.8 499.8h0M901.7 501.5h0M901.5 503.3h0M901.3 505.1h0M901 506.8h0M900.6 508.6h0M900.2 510.4h0M899.7 512.1h0M899.3 513.9h0M898.7 515.6h0M898.3 517.4h0M897.9 519.2h0M897.6 520.9h0M897.3 522.7h0M897.2 524.5h0M897.1 526.2h0M897 528h0M896.9 529.8h0M896.8 531.5h0M896.6 533.3h0M896.4 535h0M896.1 536.8h0M895.7 538.6h0M895.2 540.3h0M894.8 542.1h0M894.3 543.9h0M893.9 545.6h0M893.5 547.4h0M893.2 549.2h0M892.9 550.9h0M892.7 552.7h0M892.5 554.4h0M892.4 556.2h0M892.2 558h0M891.9 559.7h0M891.6 561.5h0M891.2 563.3h0M890.8 565h0M890.2 566.8h0M889.6 568.6h0M889 570.3h0M888.4 572.1h0M887.8 573.8h0M887.2 575.6h0M886.8 577.4h0M886.4 579.1h0M886.1 580.9h0M885.8 582.7h0M885.5 584.4h0M885.3 586.2h0M885 588h0M884.7 589.7h0M884.3 591.5h0M883.9 593.2h0M883.4 595h0M882.8 596.8h0M882.3 598.5h0M881.7 600.3h0M881.3 602.1h0M880.9 603.8h0M880.5 605.6h0M880.3 607.3h0M880 609.1h0M879.8 610.9h0M879.6 612.6h0M879.4 614.4h0M879.2 616.2h0M878.9 617.9h0M878.6 619.7h0M878.2 621.5h0M877.7 623.2h0M877.1 625h0M876.6 626.7h0M876 628.5h0M875.4 630.3h0M874.9 632h0M874.5 633.8h0M874.1 635.6h0M873.8 637.3h0M873.5 639.1h0M873.3 640.9h0M873 642.6h0M872.7 644.4h0M872.3 646.1h0M871.8 647.9h0M871.2 649.7h0M870.5 651.4h0M869.8 653.2h0M869.1 655h0M868.3 656.7h0M867.6 658.5h0M867 660.3h0M866.3 662h0M865.7 663.8h0M865.1 665.5h0M864.7 667.3h0M864.2 669.1h0M863.8 670.8h0M863.3 672.6h0M862.8 674.4h0M862.2 676.1h0M861.5 677.9h0M860.8 679.7h0M860.1 681.4h0M859.3 683.2h0M858.6 684.9h0M857.9 686.7h0M857.3 688.5h0M856.7 690.2h0M856.3 692h0M855.9 693.8h0M855.6 695.5h0M855.3 697.3h0M855.1 699.1h0M854.8 700.8h0M854.4 702.6h0M854 704.3h0M853.5 706.1h0M853 707.9h0M852.4 709.6h0M851.8 711.4h0M851.2 713.2h0M850.7 714.9h0M850.1 716.7h0M849.7 718.5h0M849.3 720.2h0M848.9 722h0M848.6 723.7h0M848.3 725.5h0M848.1 727.3h0M847.7 729h0M847.3 730.8h0M846.8 732.6h0M846.2 734.3h0M845.6 736.1h0M844.9 737.9h0M844.1 739.6h0M843.3 741.4h0M842.6 743.1h0M841.9 744.9h0M841.2 746.7h0M840.7 748.4h0M840.2 750.2h0M839.7 752h0M839.3 753.7h0M838.9 755.5h0M838.5 757.3h0M838.1 759h0M837.5 760.8h0M836.9 762.5h0M836.3 764.3h0M835.6 766.1h0M834.9 767.8h0M834.2 769.6h0M833.5 771.4h0M832.9 773.1h0M832.4 774.9h0M832 776.7h0M831.7 778.4h0M831.4 780.2h0M831.2 781.9h0M830.9 783.7h0M830.7 785.5h0M830.4 787.2h0M830.1 789h0M829.7 790.8h0M829.2 792.5h0M828.6 794.3h0M828 796h0M827.4 797.8h0M826.9 799.6h0M826.4 801.3h0M825.9 803.1h0M671.4 78.3h0M673.7 80h0M679.8 81.8h0M686.4 83.6h0M693.2 85.3h0M700 87.1h0M706.9 88.9h0M714.8 90.6h0M726.8 92.4h0M738.7 94.2h0M750.5 95.9h0M762.3 97.7h0M774 99.4h0M782.3 101.2h0M787.5 103h0M792.7 104.7h0M797.9 106.5h0M803.1 108.3h0M808.3 110h0M811.8 111.8h0M815.1 113.6h0M818.5 115.3h0M821.9 117.1h0M825.4 118.8h0M829.2 120.6h0M834 122.4h0M838.7 124.1h0M843.4 125.9h0M847.9 127.7h0M852.4 129.4h0M855.8 131.2h0M858.8 133h0M861.8 134.7h0M864.7 136.5h0M867.8 138.2h0M870.8 140h0M873.5 141.8h0M876.3 143.5h0M879.2 145.3h0M882.1 147.1h0M885.1 148.8h0M887.8 150.6h0M890.3 152.4h0M892.8 154.1h0M895.3 155.9h0M897.7 157.6h0M899.8 159.4h0M900.6 161.2h0M901.5 162.9h0M902.4 164.7h0M903.3 166.5h0M904.3 168.2h0M904.8 170h0M905 171.8h0M905.2 173.5h0M905.5 175.3h0M905.8 177h0M906.1 178.8h0M906.3 180.6h0M906.4 182.3h0M906.4 184.1h0M906.4 185.9h0M906.3 187.6h0M906.1 189.4h0M906 191.2h0M905.8 192.9h0M905.7 194.7h0M905.6 196.4h0M905.7 198.2h0M906.9 200h0M908.1 201.7h0M909.3 203.5h0M910.6 205.3h0M911.8 207h0M913.2 208.8h0M914.8 210.6h0M916.3 212.3h0M917.8 214.1h0M919.1 215.8h0M920.5 217.6h0M922 219.4h0M923.5 221.1h0M925 222.9h0M926.7 224.7h0M928.4 226.4h0M929.7 228.2h0M930.6 230h0M931.6 231.7h0M932.5 233.5h0M933.5 235.2h0M934.5 237h0M935.7 238.8h0M936.8 240.5h0M937.9 242.3h0M939 244.1h0M940 245.8h0M940.5 247.6h0M940.5 249.3h0M940.6 251.1h0M940.7 252.9h0M940.9 254.6h0M941.1 256.4h0M941.4 258.2h0M941.8 259.9h0M942.2 261.7h0M942.5 263.5h0M942.8 265.2h0M943.1 267h0M943.2 268.7h0M943.3 270.5h0M943.1 272.3h0M942.9 274h0M942.7 275.8h0M942.5 277.6h0M942.3 279.3h0M942.1 281.1h0M942.1 282.9h0M942.1 284.6h0M942.1 286.4h0M942.2 288.1h0M942.2 289.9h0M942.3 291.7h0M942.3 293.4h0M942.1 295.2h0M941.9 297h0M941.6 298.7h0M941.3 300.5h0M940.8 302.3h0M940.4 304h0M940 305.8h0M939.7 307.5h0M939.4 309.3h0M939.2 311.1h0M939.1 312.8h0M939 314.6h0M939 316.4h0M939 318.1h0M939 319.9h0M939 321.7h0M938.9 323.4h0M938.8 325.2h0M938.6 326.9h0M938.3 328.7h0M938.1 330.5h0M937.8 332.2h0M937.5 334h0M937.3 335.8h0M937.2 337.5h0M937.1 339.3h0M937.1 341.1h0M937 342.8h0M936.9 344.6h0M936.9 346.3h0M936.8 348.1h0M936.7 349.9h0M936.5 351.6h0M936.2 353.4h0M935.9 355.2h0M935.5 356.9h0M935 358.7h0M934.5 360.5h0M934 362.2h0M933.5 364h0M933 365.7h0M932.7 367.5h0M932.4 369.3h0M932.1 371h0M931.9 372.8h0M931.6 374.6h0M931.4 376.3h0M931.1 378.1h0M930.8 379.9h0M930.3 381.6h0M929.8 383.4h0M929.2 385.1h0M928.6 386.9h0M927.9 388.7h0M927.2 390.4h0M926.6 392.2h0M926 394h0M925.4 395.7h0M925 397.5h0M924.6 399.3h0M924.3 401h0M924.1 402.8h0M923.8 404.5h0M923.5 406.3h0M923.2 408.1h0M922.8 409.8h0M922.3 411.6h0M921.7 413.4h0M921 415.1h0M920.3 416.9h0M919.6 418.7h0M919 420.4h0M918.4 422.2h0M918 423.9h0M917.6 425.7h0M917.2 427.5h0M917 429.2h0M916.7 431h0M916.4 432.8h0M916.1 434.5h0M915.8 436.3h0M915.3 438h0M914.8 439.8h0M914.2 441.6h0M913.5 443.3h0M912.9 445.1h0M912.2 446.9h0M911.5 448.6h0M910.8 450.4h0M910.3 452.2h0M909.8 453.9h0M909.3 455.7h0M908.9 457.4h0M908.5 459.2h0M908 461h0M907.6 462.7h0M907 464.5h0M906.4 466.3h0M905.7 468h0M905.2 469.8h0M904.7 471.6h0M904.1 473.3h0M903.6 475.1h0M903.1 476.8h0M902.6 478.6h0M902.3 480.4h0M902 482.1h0M901.7 483.9h0M901.6 485.7h0M901.5 487.4h0M901.4 489.2h0M901.2 491h0M901 492.7h0M900.8 494.5h0M900.5 496.2h0M900.2 498h0M899.8 499.8h0M899.4 501.5h0M899 503.3h0M898.6 505.1h0M898.4 506.8h0M898.2 508.6h0M898 510.4h0M898 512.1h0M898 513.9h0M897.9 515.6h0M897.8 517.4h0M897.7 519.2h0M897.6 520.9h0M897.3 522.7h0M897 524.5h0M896.6 526.2h0M896.1 528h0M895.7 529.8h0M895.1 531.5h0M894.7 533.3h0M894.2 535h0M893.8 536.8h0M893.5 538.6h0M893.2 540.3h0M893 542.1h0M892.8 543.9h0M892.6 545.6h0M892.3 547.4h0M892 549.2h0M891.6 550.9h0M891.1 552.7h0M890.5 554.4h0M889.9 556.2h0M889.2 558h0M888.6 559.7h0M888 561.5h0M887.4 563.3h0M886.9 565h0M886.5 566.8h0M886.2 568.6h0M885.9 570.3h0M885.7 572.1h0M885.5 573.8h0M885.3 575.6h0M885 577.4h0M884.7 579.1h0M884.3 580.9h0M883.9 582.7h0M883.4 584.4h0M882.9 586.2h0M882.4 588h0M881.9 589.7h0M881.5 591.5h0M881.2 593.2h0M881 595h0M880.8 596.8h0M880.7 598.5h0M880.7 600.3h0M880.6 602.1h0M880.5 603.8h0M880.4 605.6h0M880.2 607.3h0M879.8 609.1h0M879.3 610.9h0M878.7 612.6h0M878.2 614.4h0M877.5 616.2h0M877 617.9h0M876.4 619.7h0M875.9 621.5h0M875.5 623.2h0M875.1 625h0M874.7 626.7h0M874.4 628.5h0M874.1 630.3h0M873.8 632h0M873.3 633.8h0M872.8 635.6h0M872.3 637.3h0M871.6 639.1h0M870.9 640.9h0M870.1 642.6h0M869.4 644.4h0M868.6 646.1h0M867.9 647.9h0M867.3 649.7h0M866.7 651.4h0M866.3 653.2h0M865.9 655h0M865.5 656.7h0M865.2 658.5h0M864.8 660.3h0M864.4 662h0M863.8 663.8h0M863.2 665.5h0M862.6 667.3h0M861.9 669.1h0M861.2 670.8h0M860.5 672.6h0M859.8 674.4h0M859.2 676.1h0M858.7 677.9h0M858.2 679.7h0M857.9 681.4h0M857.6 683.2h0M857.3 684.9h0M857 686.7h0M856.8 688.5h0M856.4 690.2h0M856.1 692h0M855.6 693.8h0M855 695.5h0M854.4 697.3h0M853.8 699.1h0M853.1 700.8h0M852.4 702.6h0M851.8 704.3h0M851.2 706.1h0M850.7 707.9h0M850.3 709.6h0M850 711.4h0M849.6 713.2h0M849.3 714.9h0M848.9 716.7h0M848.5 718.5h0M848 720.2h0M847.4 722h0M846.7 723.7h0M846 725.5h0M845.2 727.3h0M844.4 729h0M843.7 730.8h0M842.9 732.6h0M842.3 734.3h0M841.7 736.1h0M841.2 737.9h0M840.7 739.6h0M840.3 741.4h0M840 743.1h0M839.6 744.9h0M839.2 746.7h0M838.7 748.4h0M838.2 750.2h0M837.6 752h0M836.9 753.7h0M836.3 755.5h0M835.6 757.3h0M835 759h0M834.4 760.8h0M833.9 762.5h0M833.5 764.3h0M833.1 766.1h0M832.9 767.8h0M832.6 769.6h0M832.4 771.4h0M832.2 773.1h0M832 774.9h0M831.7 776.7h0M831.3 778.4h0M830.8 780.2h0M830.2 781.9h0M829.7 783.7h0M829 785.5h0M828.4 787.2h0M827.9 789h0M827.3 790.8h0M826.9 792.5h0M826.5 794.3h0M826.1 796h0M825.8 797.8h0M825.5 799.6h0M825.1 801.3h0M824.7 803.1h0M685.6 78.3h0M692.3 80h0M699 81.8h0M705.6 83.6h0M712.1 85.3h0M723.2 87.1h0M734.4 88.9h0M745.6 90.6h0M756.8 92.4h0M767.9 94.2h0M778.4 95.9h0M783.4 97.7h0M788.4 99.4h0M793.6 101.2h0M798.8 103h0M804 104.7h0M808.7 106.5h0M812 108.3h0M815.3 110h0M818.6 111.8h0M821.7 113.6h0M824.9 115.3h0M828.5 117.1h0M832.8 118.8h0M837 120.6h0M841.3 122.4h0M845.6 124.1h0M849.9 125.9h0M853.3 127.7h0M856.4 129.4h0M859.5 131.2h0M862.8 133h0M866.1 134.7h0M869.4 136.5h0M872.3 138.2h0M875.2 140h0M877.9 141.8h0M880.7 143.5h0M883.3 145.3h0M885.9 147.1h0M888.1 148.8h0M890.4 150.6h0M892.6 152.4h0M894.9 154.1h0M897.3 155.9h0M899 157.6h0M900.1 159.4h0M901.2 161.2h0M902.4 162.9h0M903.6 164.7h0M904.8 166.5h0M905.2 168.2h0M905.3 170h0M905.4 171.8h0M905.3 173.5h0M905.2 175.3h0M905 177h0M904.8 178.8h0M904.6 180.6h0M904.4 182.3h0M904.2 184.1h0M904.2 185.9h0M904.2 187.6h0M904.2 189.4h0M904.3 191.2h0M904.4 192.9h0M904.5 194.7h0M904.5 196.4h0M905.3 198.2h0M906.3 200h0M907.2 201.7h0M908.1 203.5h0M909 205.3h0M909.8 207h0M911.1 208.8h0M912.5 210.6h0M913.9 212.3h0M915.4 214.1h0M917 215.8h0M918.8 217.6h0M920.7 219.4h0M922.6 221.1h0M924.6 222.9h0M926.5 224.7h0M928.4 226.4h0M929.6 228.2h0M930.4 230h0M931.1 231.7h0M931.8 233.5h0M932.5 235.2h0M933.3 237h0M934.3 238.8h0M935.5 240.5h0M936.7 242.3h0M938 244.1h0M939.4 245.8h0M940.3 247.6h0M940.6 249.3h0M941 251.1h0M941.3 252.9h0M941.5 254.6h0M941.7 256.4h0M941.7 258.2h0M941.7 259.9h0M941.6 261.7h0M941.5 263.5h0M941.3 265.2h0M941.2 267h0M941.2 268.7h0M941.1 270.5h0M941.1 272.3h0M941.1 274h0M941.1 275.8h0M941.1 277.6h0M941.2 279.3h0M941.2 281.1h0M941.1 282.9h0M941 284.6h0M940.8 286.4h0M940.5 288.1h0M940.2 289.9h0M939.9 291.7h0M939.5 293.4h0M939.2 295.2h0M938.9 297h0M938.7 298.7h0M938.6 300.5h0M938.6 302.3h0M938.7 304h0M938.7 305.8h0M938.8 307.5h0M938.9 309.3h0M938.9 311.1h0M938.9 312.8h0M938.8 314.6h0M938.6 316.4h0M938.3 318.1h0M938.1 319.9h0M937.9 321.7h0M937.6 323.4h0M937.5 325.2h0M937.4 326.9h0M937.4 328.7h0M937.5 330.5h0M937.6 332.2h0M937.7 334h0M937.8 335.8h0M937.9 337.5h0M937.9 339.3h0M937.9 341.1h0M937.5 342.8h0M937.1 344.6h0M936.6 346.3h0M936 348.1h0M935.5 349.9h0M934.9 351.6h0M934.4 353.4h0M934 355.2h0M933.6 356.9h0M933.3 358.7h0M933 360.5h0M932.8 362.2h0M932.5 364h0M932.3 365.7h0M931.9 367.5h0M931.5 369.3h0M931 371h0M930.5 372.8h0M929.9 374.6h0M929.2 376.3h0M928.6 378.1h0M928 379.9h0M927.5 381.6h0M927 383.4h0M926.7 385.1h0M926.4 386.9h0M926.2 388.7h0M925.9 390.4h0M925.7 392.2h0M925.5 394h0M925.2 395.7h0M924.9 397.5h0M924.5 399.3h0M924 401h0M923.5 402.8h0M923 404.5h0M922.5 406.3h0M922 408.1h0M921.6 409.8h0M921.2 411.6h0M920.8 413.4h0M920.4 415.1h0M920.2 416.9h0M919.9 418.7h0M919.6 420.4h0M919.3 422.2h0M918.9 423.9h0M918.5 425.7h0M918 427.5h0M917.4 429.2h0M916.7 431h0M915.9 432.8h0M915.2 434.5h0M914.5 436.3h0M913.8 438h0M913.1 439.8h0M912.5 441.6h0M912 443.3h0M911.6 445.1h0M911.1 446.9h0M910.7 448.6h0M910.2 450.4h0M909.7 452.2h0M909.1 453.9h0M908.4 455.7h0M907.6 457.4h0M906.8 459.2h0M906 461h0M905.2 462.7h0M904.4 464.5h0M903.6 466.3h0M902.9 468h0M902.6 469.8h0M902.4 471.6h0M902.3 473.3h0M902.2 475.1h0M902.1 476.8h0M902 478.6h0M901.9 480.4h0M901.8 482.1h0M901.5 483.9h0M901.2 485.7h0M900.9 487.4h0M900.5 489.2h0M900.2 491h0M899.8 492.7h0M899.5 494.5h0M899.3 496.2h0M899.2 498h0M899.1 499.8h0M899.1 501.5h0M899.1 503.3h0M899.2 505.1h0M899.2 506.8h0M899.1 508.6h0M899 510.4h0M898.8 512.1h0M898.4 513.9h0M897.9 515.6h0M897.4 517.4h0M896.9 519.2h0M896.3 520.9h0M895.8 522.7h0M895.4 524.5h0M895 526.2h0M894.6 528h0M894.4 529.8h0M894.1 531.5h0M893.8 533.3h0M893.6 535h0M893.2 536.8h0M892.8 538.6h0M892.4 540.3h0M891.8 542.1h0M891.2 543.9h0M890.6 545.6h0M889.9 547.4h0M889.3 549.2h0M888.7 550.9h0M888.2 552.7h0M887.8 554.4h0M887.4 556.2h0M887.2 558h0M887 559.7h0M886.8 561.5h0M886.6 563.3h0M886.4 565h0M886.2 566.8h0M885.9 568.6h0M885.5 570.3h0M885 572.1h0M884.6 573.8h0M884.1 575.6h0M883.7 577.4h0M883.3 579.1h0M883 580.9h0M882.7 582.7h0M882.5 584.4h0M882.4 586.2h0M882.4 588h0M882.3 589.7h0M882.2 591.5h0M882.1 593.2h0M881.9 595h0M881.6 596.8h0M881.2 598.5h0M880.8 600.3h0M880.3 602.1h0M879.8 603.8h0M879.3 605.6h0M878.8 607.3h0M878.2 609.1h0M877.7 610.9h0M877.2 612.6h0M876.9 614.4h0M876.5 616.2h0M876.1 617.9h0M875.8 619.7h0M875.3 621.5h0M874.8 623.2h0M874.3 625h0M873.6 626.7h0M872.9 628.5h0M872.2 630.3h0M871.4 632h0M870.6 633.8h0M869.9 635.6h0M869.3 637.3h0M868.8 639.1h0M868.3 640.9h0M867.9 642.6h0M867.6 644.4h0M867.3 646.1h0M867 647.9h0M866.6 649.7h0M866.3 651.4h0M865.8 653.2h0M865.3 655h0M864.8 656.7h0M864.2 658.5h0M863.6 660.3h0M862.9 662h0M862.3 663.8h0M861.8 665.5h0M861.3 667.3h0M860.9 669.1h0M860.6 670.8h0M860.3 672.6h0M860.1 674.4h0M859.8 676.1h0M859.5 677.9h0M859.1 679.7h0M858.7 681.4h0M858.1 683.2h0M857.5 684.9h0M856.8 686.7h0M856.1 688.5h0M855.4 690.2h0M854.7 692h0M854.1 693.8h0M853.5 695.5h0M853 697.3h0M852.5 699.1h0M852 700.8h0M851.6 702.6h0M851.2 704.3h0M850.7 706.1h0M850.2 707.9h0M849.6 709.6h0M848.9 711.4h0M848.2 713.2h0M847.4 714.9h0M846.6 716.7h0M845.8 718.5h0M845.1 720.2h0M844.4 722h0M843.8 723.7h0M843.3 725.5h0M842.9 727.3h0M842.5 729h0M842.2 730.8h0M841.8 732.6h0M841.5 734.3h0M841.1 736.1h0M840.6 737.9h0M840.1 739.6h0M839.5 741.4h0M838.9 743.1h0M838.2 744.9h0M837.6 746.7h0M837.1 748.4h0M836.6 750.2h0M836.1 752h0M835.8 753.7h0M835.5 755.5h0M835.3 757.3h0M835.1 759h0M834.9 760.8h0M834.6 762.5h0M834.3 764.3h0M833.9 766.1h0M833.5 767.8h0M832.9 769.6h0M832.3 771.4h0M831.7 773.1h0M831 774.9h0M830.4 776.7h0M829.8 778.4h0M829.2 780.2h0M828.8 781.9h0M828.4 783.7h0M828 785.5h0M827.6 787.2h0M827.3 789h0M826.8 790.8h0M826.4 792.5h0M825.8 794.3h0M825.2 796h0M824.4 797.8h0M823.7 799.6h0M822.9 801.3h0M822.1 803.1h0M669.8 78.3h0M672 80h0M674.1 81.8h0M677.2 83.6h0M683.7 85.3h0M690.2 87.1h0M696.8 88.9h0M703.5 90.6h0M710.3 92.4h0M720.3 94.2h0M732.3 95.9h0M744.2 97.7h0M756.1 99.4h0M768 101.2h0M779.6 103h0M784.9 104.7h0M790.2 106.5h0M795.5 108.3h0M800.7 110h0M805.9 111.8h0M810.3 113.6h0M813.6 115.3h0M816.9 117.1h0M820.5 118.8h0M824.1 120.6h0M827.8 122.4h0M832.9 124.1h0M838 125.9h0M843 127.7h0M848 129.4h0M853 131.2h0M856.9 133h0M860.3 134.7h0M863.5 136.5h0M866.8 138.2h0M870 140h0M873.1 141.8h0M875.9 143.5h0M878.8 145.3h0M881.7 147.1h0M884.7 148.8h0M887.8 150.6h0M890.6 152.4h0M893.3 154.1h0M895.9 155.9h0M898.5 157.6h0M901.1 159.4h0M902.8 161.2h0M903.7 162.9h0M904.4 164.7h0M905.2 166.5h0M905.9 168.2h0M906.6 170h0M906.4 171.8h0M906.3 173.5h0M906.2 175.3h0M906.2 177h0M906.3 178.8h0M906.4 180.6h0M906.5 182.3h0M906.5 184.1h0M906.6 185.9h0M906.5 187.6h0M906.4 189.4h0M906.2 191.2h0M906 192.9h0M905.8 194.7h0M905.6 196.4h0M905.4 198.2h0M906.1 200h0M907.2 201.7h0M908.4 203.5h0M909.7 205.3h0M911.1 207h0M912.6 208.8h0M914.5 210.6h0M916.4 212.3h0M918.3 214.1h0M920.1 215.8h0M921.8 217.6h0M923.6 219.4h0M925.3 221.1h0M927 222.9h0M928.8 224.7h0M930.5 226.4h0M931.8 228.2h0M932.7 230h0M933.6 231.7h0M934.6 233.5h0M935.7 235.2h0M936.7 237h0M938.1 238.8h0M939.4 240.5h0M940.7 242.3h0M941.9 244.1h0M943 245.8h0M943.5 247.6h0M943.4 249.3h0M943.2 251.1h0M943 252.9h0M942.9 254.6h0M942.8 256.4h0M942.7 258.2h0M942.7 259.9h0M942.8 261.7h0M942.9 263.5h0M943.1 265.2h0M943.2 267h0M943.4 268.7h0M943.5 270.5h0M943.4 272.3h0M943.2 274h0M943 275.8h0M942.7 277.6h0M942.4 279.3h0M942.1 281.1h0M941.8 282.9h0M941.6 284.6h0M941.5 286.4h0M941.5 288.1h0M941.5 289.9h0M941.7 291.7h0M941.8 293.4h0M942 295.2h0M942.1 297h0M942.2 298.7h0M942.2 300.5h0M942.1 302.3h0M942 304h0M941.8 305.8h0M941.6 307.5h0M941.4 309.3h0M941.2 311.1h0M941.1 312.8h0M941 314.6h0M940.9 316.4h0M940.9 318.1h0M941 319.9h0M941.1 321.7h0M941.2 323.4h0M941.2 325.2h0M941.2 326.9h0M941.1 328.7h0M941 330.5h0M940.7 332.2h0M940.4 334h0M940 335.8h0M939.6 337.5h0M939.2 339.3h0M938.8 341.1h0M938.3 342.8h0M937.9 344.6h0M937.5 346.3h0M937.2 348.1h0M936.9 349.9h0M936.7 351.6h0M936.4 353.4h0M936 355.2h0M935.7 356.9h0M935.2 358.7h0M934.7 360.5h0M934.1 362.2h0M933.5 364h0M932.9 365.7h0M932.3 367.5h0M931.8 369.3h0M931.4 371h0M931 372.8h0M930.7 374.6h0M930.5 376.3h0M930.4 378.1h0M930.3 379.9h0M930.2 381.6h0M930 383.4h0M929.8 385.1h0M929.5 386.9h0M929.2 388.7h0M928.7 390.4h0M928.2 392.2h0M927.7 394h0M927.2 395.7h0M926.7 397.5h0M926.3 399.3h0M926 401h0M925.7 402.8h0M925.5 404.5h0M925.3 406.3h0M925.2 408.1h0M925 409.8h0M924.7 411.6h0M924.3 413.4h0M923.7 415.1h0M923.1 416.9h0M922.4 418.7h0M921.6 420.4h0M920.8 422.2h0M920.1 423.9h0M919.3 425.7h0M918.6 427.5h0M918 429.2h0M917.4 431h0M916.9 432.8h0M916.4 434.5h0M916 436.3h0M915.5 438h0M915 439.8h0M914.4 441.6h0M913.8 443.3h0M913.1 445.1h0M912.3 446.9h0M911.5 448.6h0M910.7 450.4h0M909.9 452.2h0M909.2 453.9h0M908.5 455.7h0M908 457.4h0M907.5 459.2h0M907.1 461h0M906.7 462.7h0M906.4 464.5h0M906.1 466.3h0M905.7 468h0M905.6 469.8h0M905.4 471.6h0M905.2 473.3h0M904.9 475.1h0M904.6 476.8h0M904.2 478.6h0M903.9 480.4h0M903.6 482.1h0M903.3 483.9h0M903.2 485.7h0M903.1 487.4h0M903 489.2h0M903 491h0M903 492.7h0M903 494.5h0M902.9 496.2h0M902.8 498h0M902.6 499.8h0M902.3 501.5h0M901.9 503.3h0M901.4 505.1h0M900.9 506.8h0M900.5 508.6h0M900 510.4h0M899.6 512.1h0M899.2 513.9h0M898.8 515.6h0M898.5 517.4h0M898.2 519.2h0M897.9 520.9h0M897.7 522.7h0M897.3 524.5h0M897 526.2h0M896.5 528h0M896 529.8h0M895.4 531.5h0M894.8 533.3h0M894.2 535h0M893.6 536.8h0M893 538.6h0M892.5 540.3h0M892.1 542.1h0M891.8 543.9h0M891.6 545.6h0M891.4 547.4h0M891.2 549.2h0M891.1 550.9h0M890.9 552.7h0M890.7 554.4h0M890.5 556.2h0M890.1 558h0M889.8 559.7h0M889.3 561.5h0M888.9 563.3h0M888.4 565h0M888.1 566.8h0M887.7 568.6h0M887.4 570.3h0M887.2 572.1h0M887.1 573.8h0M887 575.6h0M886.9 577.4h0M886.8 579.1h0M886.7 580.9h0M886.5 582.7h0M886.2 584.4h0M885.8 586.2h0M885.4 588h0M884.8 589.7h0M884.3 591.5h0M883.7 593.2h0M883.1 595h0M882.6 596.8h0M882.2 598.5h0M881.8 600.3h0M881.5 602.1h0M881.2 603.8h0M881 605.6h0M880.7 607.3h0M880.3 609.1h0M879.8 610.9h0M879.3 612.6h0M878.7 614.4h0M878 616.2h0M877.3 617.9h0M876.5 619.7h0M875.8 621.5h0M875.1 623.2h0M874.5 625h0M873.9 626.7h0M873.5 628.5h0M873.1 630.3h0M872.8 632h0M872.5 633.8h0M872.3 635.6h0M872 637.3h0M871.7 639.1h0M871.3 640.9h0M870.9 642.6h0M870.4 644.4h0M869.8 646.1h0M869.3 647.9h0M868.7 649.7h0M868.2 651.4h0M867.7 653.2h0M867.3 655h0M867 656.7h0M866.7 658.5h0M866.5 660.3h0M866.2 662h0M865.9 663.8h0M865.6 665.5h0M865.2 667.3h0M864.8 669.1h0M864.2 670.8h0M863.6 672.6h0M862.9 674.4h0M862.1 676.1h0M861.3 677.9h0M860.6 679.7h0M859.9 681.4h0M859.3 683.2h0M858.7 684.9h0M858.1 686.7h0M857.7 688.5h0M857.2 690.2h0M856.8 692h0M856.3 693.8h0M855.7 695.5h0M855.1 697.3h0M854.5 699.1h0M853.7 700.8h0M852.9 702.6h0M852.1 704.3h0M851.3 706.1h0M850.5 707.9h0M849.8 709.6h0M849.2 711.4h0M848.7 713.2h0M848.3 714.9h0M848 716.7h0M847.7 718.5h0M847.4 720.2h0M847.1 722h0M846.7 723.7h0M846.3 725.5h0M845.9 727.3h0M845.4 729h0M844.8 730.8h0M844.2 732.6h0M843.6 734.3h0M843 736.1h0M842.5 737.9h0M842.1 739.6h0M841.7 741.4h0M841.4 743.1h0M841.2 744.9h0M840.9 746.7h0M840.7 748.4h0M840.5 750.2h0M840.1 752h0M839.7 753.7h0M839.3 755.5h0M838.7 757.3h0M838.1 759h0M837.4 760.8h0M836.7 762.5h0M836 764.3h0M835.4 766.1h0M834.8 767.8h0M834.2 769.6h0M833.8 771.4h0M833.3 773.1h0M833 774.9h0M832.6 776.7h0M832.1 778.4h0M831.7 780.2h0M831.1 781.9h0M830.5 783.7h0M829.8 785.5h0M829.1 787.2h0M828.3 789h0M827.5 790.8h0M826.8 792.5h0M826.1 794.3h0M825.5 796h0M825 797.8h0M824.5 799.6h0M824.2 801.3h0M823.9 803.1h0M608.3 21h0M608.3 22.8h0M608.4 24.6h0M608.4 26.4h0M608.5 28.2h0M608.5 30h0M608.6 32h0M608.8 34h0M608.9 36h0M609 38h0M609.7 40h0M610.3 42h0M611 44h0M611.9 45.5h0M612.8 47h0M613.6 48.5h0M614.5 50h0M616 51.5h0M617.5 53h0M619 54.5h0M620.8 55.6h0M622.5 56.8h0M624.2 57.9h0M626 59h0M627.6 60h0M629.2 61h0M630.8 62h0M632.4 63h0M634 64h0M635.6 64.9h0M637.2 65.8h0M638.8 66.7h0M640.4 67.6h0M642 68.5h0M643.8 69.1h0M645.6 69.7h0M647.4 70.3h0M649.2 70.9h0M651 71.5h0M652.8 71.9h0M654.6 72.3h0M656.4 72.7h0M658.2 73.1h0M660 73.5h0M661.4 74.8h0M662.8 76.1h0M664.2 77.4h0M665.6 78.7h0M667 80h0M667.8 81.6h0M668.6 83.2h0M669.4 84.8h0M670.2 86.4h0M671 88h0M672.4 89h0M673.8 90h0M675.2 91h0M676.6 92h0M678 93h0M679.7 93.4h0M681.4 93.9h0M683.1 94.3h0M684.9 94.7h0M686.6 95.1h0M688.3 95.6h0M690 96h0M611 21h0M611.2 22.8h0M611.4 24.6h0M611.6 26.4h0M611.8 28.2h0M612 30h0M612.5 32h0M613 34h0M613.5 36h0M614 38h0M615 39.8h0M616 41.5h0M617 43.2h0M618 45h0M619.2 46.2h0M620.5 47.5h0M621.8 48.8h0M623 50h0M624.4 51h0M625.8 52h0M627.2 53h0M628.6 54h0M630 55h0M631.6 56h0M633.2 57h0M634.8 58h0M636.4 59h0M638 60h0M639.6 61h0M641.2 62h0M642.8 63h0M644.4 64h0M646 65h0M647.8 65.8h0M649.6 66.6h0M651.4 67.4h0M653.2 68.2h0M655 69h0M656.6 69.6h0M658.2 70.2h0M659.8 70.8h0M661.4 71.4h0M663 72h0M664.5 73.5h0M666 75h0M667.5 76.5h0M669 78h0M670.2 79.3h0M671.3 80.7h0M672.5 82h0M673.7 83.3h0M674.8 84.7h0M676 86h0M615 21h0M615.2 22.8h0M615.4 24.6h0M615.6 26.4h0M615.8 28.2h0M616 30h0M616.6 31.6h0M617.2 33.2h0M617.8 34.8h0M618.4 36.4h0M619 38h0M620 39.8h0M621 41.5h0M622 43.2h0M623 45h0M624.2 46.2h0M625.5 47.5h0M626.8 48.8h0M628 50h0M629.4 51h0M630.8 52h0M632.2 53h0M633.6 54h0M635 55h0M636.6 56h0M638.2 57h0M639.8 58h0M641.4 59h0M643 60h0M644.6 61h0M646.2 62h0M647.8 63h0M649.4 64h0M651 65h0M652.6 65.8h0M654.2 66.6h0M655.8 67.4h0M657.4 68.2h0M659 69h0M623.3 22h0M624.3 23.8h0M625.4 25.6h0M626.5 27.3h0M627.5 29.1h0M628.6 30.6h0M629.6 32.1h0M630.7 33.6h0M631.8 35.1h0M632.8 36.8h0M633.9 38.5h0M635 40.3h0M636 42h0M637.2 43.6h0M638.4 45.2h0M639.6 46.8h0M640.8 48.4h0M642 50h0M668.6 24.8h0M668.6 26.5h0M668.6 28.2h0M668.6 29.9h0M668.6 31.6h0M668.6 33.3h0M668.6 35h0M668.6 37h0M668.6 39h0M668.7 41h0M668.7 43h0M668.7 45h0M668.7 47h0M668.7 49h0M668.8 51h0M668.8 53h0M668.8 55h0M668.8 57h0M668.9 59h0M668.9 61h0M669 63h0M669 65h0M669 67h0M669.1 68.9h0M669.2 70.8h0M669.2 72.8h0M669.7 74.6h0M670.1 76.4h0M670.5 78.2h0M671 80h0M661.8 43.7h0M662.4 45.9h0M663 48h0M663.5 49.8h0M664 51.5h0M664.5 53.2h0M665 55h0M665.5 56.8h0M666 58.5h0M666.5 60.2h0M667 62h0M667.3 64h0M667.7 66h0M668 68h0M636.5 39.4h0M652.4 42.4h0M642.1 60h0M648.1 61.7h0M686.2 94.6h0M686.4 95.3h0M699.3 97.5h0M681 92.1h0M751.2 89.4h0M759.2 92.1h0M788.1 94.3h0M722.8 96.9h0M733.5 100.7h0" stroke="#00ffff" stroke-width="6" stroke-linecap="round" fill="none"/>
<path d="M619.2,21.5 L620.1,31.3 L625.5,41.1 L633.5,50.9 L656.8,60.6 L661.2,70.4 L674.7,80.2 L712.2,90 L778.4,99.8 L808.8,109.6 L827.5,119.4 L853.5,129.2 L871.3,139 L886.5,148.8 L899.9,158.6 L905.3,168.4 L905.3,178.2 L905.3,188 L905.3,197.8 L911.6,207.6 L920.5,217.4 L930.3,227.2 L934.8,237 L941.1,246.8 L941.4,256.6 L941.8,266.4 L941.7,276.2 L941.4,286 L940.9,295.8 L940.2,305.6 L939.4,315.4 L938.7,325.2 L937.9,335 L936.7,344.8 L934.9,354.6 L933,364.4 L931.2,374.2 L929.3,384 L927.2,393.8 L925,403.6 L922.6,413.4 L919.5,423.2 L916.4,433 L913.3,442.8 L910.2,452.5 L907.2,462.3 L904.7,472.1 L903.3,481.9 L901.8,491.7 L900.4,501.5 L898.9,511.3 L897,521.1 L894.9,530.9 L892.9,540.7 L890.9,550.5 L888.8,560.3 L886.9,570.1 L884.9,579.9 L882.9,589.7 L881,599.5 L878.9,609.3 L876.2,619.1 L873.6,628.9 L870.9,638.7 L868.3,648.5 L865.6,658.3 L862.6,668.1 L859.5,677.9 L856.5,687.7 L853.4,697.5 L850.3,707.3 L847.5,717.1 L844.7,726.9 L841.9,736.7 L839.2,746.5 L836.4,756.3 L833.6,766.1 L830.8,775.9 L828.1,785.7 L825.3,795.5" fill="none" stroke="#0000ff" stroke-width="2.8" stroke-linejoin="round"/>
<path d="M619.2 21.5h0M620.1 31.3h0M625.5 41.1h0M633.5 50.9h0M656.8 60.6h0M661.2 70.4h0M674.7 80.2h0M712.2 90h0M778.4 99.8h0M808.8 109.6h0M827.5 119.4h0M853.5 129.2h0M871.3 139h0M886.5 148.8h0M899.9 158.6h0M905.3 168.4h0M905.3 178.2h0M905.3 188h0M905.3 197.8h0M911.6 207.6h0M920.5 217.4h0M930.3 227.2h0M934.8 237h0M941.1 246.8h0M941.4 256.6h0M941.8 266.4h0M941.7 276.2h0M941.4 286h0M940.9 295.8h0M940.2 305.6h0M939.4 315.4h0M938.7 325.2h0M937.9 335h0M936.7 344.8h0M934.9 354.6h0M933 364.4h0M931.2 374.2h0M929.3 384h0M927.2 393.8h0M925 403.6h0M922.6 413.4h0M919.5 423.2h0M916.4 433h0M913.3 442.8h0M910.2 452.5h0M907.2 462.3h0M904.7 472.1h0M903.3 481.9h0M901.8 491.7h0M900.4 501.5h0M898.9 511.3h0M897 521.1h0M894.9 530.9h0M892.9 540.7h0M890.9 550.5h0M888.8 560.3h0M886.9 570.1h0M884.9 579.9h0M882.9 589.7h0M881 599.5h0M878.9 609.3h0M876.2 619.1h0M873.6 628.9h0M870.9 638.7h0M868.3 648.5h0M865.6 658.3h0M862.6 668.1h0M859.5 677.9h0M856.5 687.7h0M853.4 697.5h0M850.3 707.3h0M847.5 717.1h0M844.7 726.9h0M841.9 736.7h0M839.2 746.5h0M836.4 756.3h0M833.6 766.1h0M830.8 775.9h0M828.1 785.7h0M825.3 795.5h0" stroke="#0000ff" stroke-width="12.2" stroke-linecap="round" fill="none"/>
<path d="M707.1,19.5 L707.1,23.4 L707.1,27.3 L707.1,31.3 L707.1,35.2 L707.1,39.1 L707.1,43 L707.1,48.9 L707.1,58.7 L707.1,68.5 L708.1,78.3 L720.1,88.1 L745.2,97.9 L773.8,107.7 L796.9,117.5 L816.5,137.1 L837,156.7 L864.8,176.3 L907,195.9 L911,215.4 L934.2,264.4 L927.3,313.4 L915.1,411.4 L900.9,509.4 L876.5,607.4 L854.9,705.3 L836.2,803.3" fill="none" stroke="#ff0000" stroke-width="3.0" stroke-linejoin="round"/>
<path d="M707.1,19.5 L707.1,23.4 L707.1,27.3 L707.1,31.3 L707.1,35.2 L707.1,39.1 L707.1,43 L707.1,48.9 L707.1,58.7 L707.1,68.5 L709.1,78.3 L722.1,88.1 L747.2,97.9 L775.8,107.7 L800.9,117.5 L822.5,137.1 L843,156.7 L870.8,176.3 L909,195.9 L914,215.4 L937.2,264.4 L933.3,313.4 L918.8,411.4 L902.5,509.4 L880.5,607.4 L860.9,705.3 L842.2,803.3" fill="none" stroke="#ff0000" stroke-width="3.0" stroke-linejoin="round"/>
<path d="M707.1,19.5 L707.1,23.4 L707.1,27.3 L707.1,31.3 L707.1,35.2 L707.1,39.1 L707.1,43 L707.1,48.9 L707.1,58.7 L707.1,68.5 L708.6,78.3 L721.1,88.1 L746.2,97.9 L774.8,107.7 L798.9,117.5 L819.5,137.1 L840,156.7 L867.8,176.3 L908,195.9 L912.5,215.4 L935.7,264.4 L930.3,313.4 L916.9,411.4 L901.7,509.4 L878.5,607.4 L857.9,705.3 L839.2,803.3" fill="none" stroke="#ff0000" stroke-width="3.0" stroke-linejoin="round"/>
<path d="M707.1 19.5h0M707.1 23.4h0M707.1 27.3h0M707.1 31.3h0M707.1 35.2h0M707.1 39.1h0M707.1 43h0M707.1 48.9h0M707.1 58.7h0M707.1 68.5h0M708.6 78.3h0M721.1 88.1h0M746.2 97.9h0M774.8 107.7h0M798.9 117.5h0M819.5 137.1h0M840 156.7h0M867.8 176.3h0M908 195.9h0M912.5 215.4h0M935.7 264.4h0M930.3 313.4h0M916.9 411.4h0M901.7 509.4h0M878.5 607.4h0M857.9 705.3h0M839.2 803.3h0" stroke="#ff0000" stroke-width="12.2" stroke-linecap="round" fill="none"/>
<path d="M688.5,19.5 L688.5,23.4 L688.5,27.3 L688.5,31.3 L688.5,35.2 L688.5,39.1 L688.5,43 L688.5,48.9 L688.5,58.7 L688.5,68.5 L709.4,78.3 L731.9,88.1 L749.8,97.9 L768.5,107.7 L789.1,117.5 L843.6,137.1 L891,156.7 L908.9,176.3 L919.6,195.9 L926.8,215.4 L937.5,264.4 L937.5,313.4 L925,411.4 L906.2,509.4 L885.6,607.4 L866.9,705.3 L843.6,803.3" fill="none" stroke="#008000" stroke-width="2.8" stroke-linejoin="round"/>
<path d="M688.5 19.5h0M688.5 23.4h0M688.5 27.3h0M688.5 31.3h0M688.5 35.2h0M688.5 39.1h0M688.5 43h0M688.5 48.9h0M688.5 58.7h0M688.5 68.5h0M709.4 78.3h0M731.9 88.1h0M749.8 97.9h0M768.5 107.7h0M789.1 117.5h0M843.6 137.1h0M891 156.7h0M908.9 176.3h0M919.6 195.9h0M926.8 215.4h0M937.5 264.4h0M937.5 313.4h0M925 411.4h0M906.2 509.4h0M885.6 607.4h0M866.9 705.3h0M843.6 803.3h0" stroke="#008000" stroke-width="12.2" stroke-linecap="round" fill="none"/>
<path d="M686.7,20.5 L686.8,22.5 L686.8,24.7 L686.8,27 L686.8,29.5 L686.8,32.1 L686.8,35 L686.9,38.3 L686.9,41.8 L686.9,45.9 L687,50.5 L687,55.7 L687.1,61.8 L687.1,68.9 L687.2,77.2 L700.6,87 L768.5,98.6 L843.6,112.3 L875.8,128.8 L897.3,148.4 L916,172.1 L932.1,200.4 L942.9,234.5 L948.2,275.5 L942.9,324.9 L928.6,384.2 L909.8,455.4 L898.2,540.8 L882.1,642.9 L856.1,764.5 L825.7,909" fill="none" stroke="#ff00ff" stroke-width="2.8" stroke-linejoin="round"/>
<path d="M686.7 20.5h0M686.8 22.5h0M686.8 24.7h0M686.8 27h0M686.8 29.5h0M686.8 32.1h0M686.8 35h0M686.9 38.3h0M686.9 41.8h0M686.9 45.9h0M687 50.5h0M687 55.7h0M687.1 61.8h0M687.1 68.9h0M687.2 77.2h0M700.6 87h0M768.5 98.6h0M843.6 112.3h0M875.8 128.8h0M897.3 148.4h0M916 172.1h0M932.1 200.4h0M942.9 234.5h0M948.2 275.5h0M942.9 324.9h0M928.6 384.2h0M909.8 455.4h0M898.2 540.8h0M882.1 642.9h0M856.1 764.5h0" stroke="#ff00ff" stroke-width="12.2" stroke-linecap="round" fill="none"/>
</g>
<rect x="586.6" y="19.5" width="383.9" height="783.8" class="sp"/>
<line x1="580.3" y1="19.5" x2="586.6" y2="19.5" class="tk"/>
<line x1="580.3" y1="68.5" x2="586.6" y2="68.5" class="tk"/>
<line x1="580.3" y1="117.5" x2="586.6" y2="117.5" class="tk"/>
<line x1="580.3" y1="166.5" x2="586.6" y2="166.5" class="tk"/>
<line x1="580.3" y1="215.4" x2="586.6" y2="215.4" class="tk"/>
<line x1="580.3" y1="264.4" x2="586.6" y2="264.4" class="tk"/>
<line x1="580.3" y1="313.4" x2="586.6" y2="313.4" class="tk"/>
<line x1="580.3" y1="362.4" x2="586.6" y2="362.4" class="tk"/>
<line x1="580.3" y1="411.4" x2="586.6" y2="411.4" class="tk"/>
<line x1="580.3" y1="460.4" x2="586.6" y2="460.4" class="tk"/>
<line x1="580.3" y1="509.4" x2="586.6" y2="509.4" class="tk"/>
<line x1="580.3" y1="558.4" x2="586.6" y2="558.4" class="tk"/>
<line x1="580.3" y1="607.4" x2="586.6" y2="607.4" class="tk"/>
<line x1="580.3" y1="656.3" x2="586.6" y2="656.3" class="tk"/>
<line x1="580.3" y1="705.3" x2="586.6" y2="705.3" class="tk"/>
<line x1="580.3" y1="754.3" x2="586.6" y2="754.3" class="tk"/>
<line x1="668.4" y1="803.3" x2="668.4" y2="809.6" class="tk"/>
<line x1="757.8" y1="803.3" x2="757.8" y2="809.6" class="tk"/>
<line x1="847.2" y1="803.3" x2="847.2" y2="809.6" class="tk"/>
<line x1="936.6" y1="803.3" x2="936.6" y2="809.6" class="tk"/>
<line x1="1138.4" y1="19.5" x2="1138.4" y2="803.3" class="g"/>
<line x1="1200.2" y1="19.5" x2="1200.2" y2="803.3" class="g"/>
<line x1="1262" y1="19.5" x2="1262" y2="803.3" class="g"/>
<line x1="1323.8" y1="19.5" x2="1323.8" y2="803.3" class="g"/>
<line x1="1385.6" y1="19.5" x2="1385.6" y2="803.3" class="g"/>
<line x1="1447.4" y1="19.5" x2="1447.4" y2="803.3" class="g"/>
<line x1="1083.4" y1="68.5" x2="1468.3" y2="68.5" class="g"/>
<line x1="1083.4" y1="117.5" x2="1468.3" y2="117.5" class="g"/>
<line x1="1083.4" y1="166.5" x2="1468.3" y2="166.5" class="g"/>
<line x1="1083.4" y1="215.4" x2="1468.3" y2="215.4" class="g"/>
<line x1="1083.4" y1="264.4" x2="1468.3" y2="264.4" class="g"/>
<line x1="1083.4" y1="313.4" x2="1468.3" y2="313.4" class="g"/>
<line x1="1083.4" y1="362.4" x2="1468.3" y2="362.4" class="g"/>
<line x1="1083.4" y1="411.4" x2="1468.3" y2="411.4" class="g"/>
<line x1="1083.4" y1="460.4" x2="1468.3" y2="460.4" class="g"/>
<line x1="1083.4" y1="509.4" x2="1468.3" y2="509.4" class="g"/>
<line x1="1083.4" y1="558.4" x2="1468.3" y2="558.4" class="g"/>
<line x1="1083.4" y1="607.4" x2="1468.3" y2="607.4" class="g"/>
<line x1="1083.4" y1="656.3" x2="1468.3" y2="656.3" class="g"/>
<line x1="1083.4" y1="705.3" x2="1468.3" y2="705.3" class="g"/>
<line x1="1083.4" y1="754.3" x2="1468.3" y2="754.3" class="g"/>
<g clip-path="url(#c3)">
<path d="M1099.8 20.5h0M1100.1 22.2h0M1100.4 24h0M1100.5 25.8h0M1100.6 27.5h0M1100.6 29.3h0M1100.5 31.1h0M1100.8 32.8h0M1101.1 34.6h0M1101.4 36.4h0M1101.8 38.1h0M1102.2 39.9h0M1102.5 41.6h0M1102.7 43.4h0M1102.9 45.2h0M1103.1 46.9h0M1103.4 48.7h0M1103.6 50.5h0M1104.5 52.2h0M1105.4 54h0M1106.3 55.8h0M1107 57.5h0M1107.8 59.3h0M1108.3 61h0M1108.3 62.8h0M1108.4 64.6h0M1108.5 66.3h0M1108.6 68.1h0M1108.7 69.9h0M1109 71.6h0M1109.4 73.4h0M1109.9 75.1h0M1110.4 76.9h0M1110.9 78.7h0M1112.2 80.4h0M1113.6 82.2h0M1114.7 84h0M1115.7 85.7h0M1116.8 87.5h0M1119.6 89.3h0M1122.5 91h0M1125.3 92.8h0M1128.3 94.5h0M1131.1 96.3h0M1132.3 98.1h0M1133.6 99.8h0M1135 101.6h0M1136.5 103.4h0M1138 105.1h0M1139.5 106.9h0M1141 108.7h0M1142.4 110.4h0M1143.8 112.2h0M1145 113.9h0M1146.2 115.7h0M1147.4 117.5h0M1148.8 119.2h0M1150.5 121h0M1152.4 122.8h0M1154.3 124.5h0M1156.3 126.3h0M1158.3 128.1h0M1160.3 129.8h0M1162.3 131.6h0M1164.3 133.3h0M1166.2 135.1h0M1168.1 136.9h0M1169.9 138.6h0M1171.7 140.4h0M1173.4 142.2h0M1174.9 143.9h0M1176.3 145.7h0M1177.4 147.5h0M1178.6 149.2h0M1179.7 151h0M1181 152.7h0M1182.3 154.5h0M1183.7 156.3h0M1185.1 158h0M1186.6 159.8h0M1188.2 161.6h0M1189.7 163.3h0M1190.9 165.1h0M1191.8 166.9h0M1192.7 168.6h0M1193.4 170.4h0M1194.2 172.1h0M1194.9 173.9h0M1195.6 175.7h0M1196.3 177.4h0M1197.1 179.2h0M1197.9 181h0M1199.1 182.7h0M1200.5 184.5h0M1201.9 186.3h0M1203.4 188h0M1204.9 189.8h0M1206.4 191.5h0M1207.8 193.3h0M1209.2 195.1h0M1210.6 196.8h0M1211.8 198.6h0M1213 200.4h0M1214.1 202.1h0M1215.1 203.9h0M1216 205.7h0M1217 207.4h0M1218 209.2h0M1219.1 210.9h0M1220.2 212.7h0M1221.4 214.5h0M1222.6 216.2h0M1223.5 218h0M1224.5 219.8h0M1225.4 221.5h0M1226.2 223.3h0M1227 225.1h0M1227.7 226.8h0M1228.3 228.6h0M1228.8 230.3h0M1229.3 232.1h0M1229.8 233.9h0M1230.3 235.6h0M1230.9 237.4h0M1231.6 239.2h0M1232.3 240.9h0M1233.1 242.7h0M1233.8 244.5h0M1234.6 246.2h0M1235.3 248h0M1236 249.7h0M1236.7 251.5h0M1237.3 253.3h0M1237.8 255h0M1238.2 256.8h0M1238.5 258.6h0M1238.8 260.3h0M1239.1 262.1h0M1239.5 263.8h0M1240.3 265.6h0M1241.3 267.4h0M1242.4 269.1h0M1243.5 270.9h0M1244.7 272.7h0M1245.7 274.4h0M1246.5 276.2h0M1247.2 278h0M1247.9 279.7h0M1248.5 281.5h0M1249.1 283.2h0M1249.5 285h0M1250 286.8h0M1250.5 288.5h0M1250.9 290.3h0M1251.4 292.1h0M1251.9 293.8h0M1252.4 295.6h0M1253.1 297.4h0M1253.7 299.1h0M1254.5 300.9h0M1255.2 302.6h0M1255.9 304.4h0M1256.6 306.2h0M1257.2 307.9h0M1257.7 309.7h0M1258.2 311.5h0M1258.6 313.2h0M1258.9 315h0M1259.2 316.8h0M1259.4 318.5h0M1259.7 320.3h0M1260.1 322h0M1260.5 323.8h0M1261 325.6h0M1261.5 327.3h0M1262.2 329.1h0M1262.8 330.9h0M1263.5 332.6h0M1264.2 334.4h0M1264.8 336.2h0M1265.4 337.9h0M1265.8 339.7h0M1266.2 341.4h0M1266.6 343.2h0M1267 345h0M1267.3 346.7h0M1267.7 348.5h0M1268.2 350.3h0M1268.7 352h0M1269.4 353.8h0M1270.1 355.6h0M1270.8 357.3h0M1271.7 359.1h0M1272.5 360.8h0M1273.3 362.6h0M1274 364.4h0M1274.7 366.1h0M1275.3 367.9h0M1275.8 369.7h0M1276.3 371.4h0M1276.8 373.2h0M1277.4 375h0M1278 376.7h0M1278.7 378.5h0M1279.4 380.2h0M1280.2 382h0M1281 383.8h0M1281.9 385.5h0M1282.8 387.3h0M1283.6 389.1h0M1284.2 390.8h0M1284.8 392.6h0M1285.3 394.4h0M1285.7 396.1h0M1286 397.9h0M1286.3 399.6h0M1286.5 401.4h0M1286.7 403.2h0M1286.9 404.9h0M1287.2 406.7h0M1287.5 408.5h0M1287.9 410.2h0M1288.4 412h0M1288.8 413.8h0M1289.3 415.5h0M1289.8 417.3h0M1290.3 419h0M1290.8 420.8h0M1291.2 422.6h0M1291.5 424.3h0M1291.8 426.1h0M1292 427.9h0M1292.2 429.6h0M1292.4 431.4h0M1292.7 433.2h0M1293 434.9h0M1293.4 436.7h0M1293.8 438.4h0M1294.4 440.2h0M1295 442h0M1295.7 443.7h0M1296.4 445.5h0M1297 447.3h0M1297.6 449h0M1298.2 450.8h0M1298.7 452.5h0M1299.1 454.3h0M1299.3 456.1h0M1299.5 457.8h0M1299.7 459.6h0M1299.8 461.4h0M1300 463.1h0M1300.3 464.9h0M1300.6 466.7h0M1301 468.4h0M1301.4 470.2h0M1301.8 471.9h0M1302.2 473.7h0M1302.5 475.5h0M1302.8 477.2h0M1303 479h0M1303.1 480.8h0M1303.1 482.5h0M1303.1 484.3h0M1303 486.1h0M1302.9 487.8h0M1302.8 489.6h0M1302.7 491.3h0M1302.8 493.1h0M1302.8 494.9h0M1303 496.6h0M1303.2 498.4h0M1303.5 500.2h0M1303.8 501.9h0M1304.1 503.7h0M1304.3 505.5h0M1304.5 507.2h0M1304.6 509h0M1304.7 510.7h0M1304.7 512.5h0M1304.6 514.3h0M1304.6 516h0M1304.6 517.8h0M1304.7 519.6h0M1304.8 521.3h0M1305.1 523.1h0M1305.4 524.9h0M1305.8 526.6h0M1306.2 528.4h0M1306.7 530.1h0M1307.1 531.9h0M1307.5 533.7h0M1307.9 535.4h0M1308.1 537.2h0M1308.3 539h0M1308.5 540.7h0M1308.6 542.5h0M1308.7 544.3h0M1308.8 546h0M1308.9 547.8h0M1309.1 549.5h0M1309.4 551.3h0M1309.7 553.1h0M1310 554.8h0M1310.4 556.6h0M1310.8 558.4h0M1311.2 560.1h0M1311.5 561.9h0M1311.7 563.7h0M1311.9 565.4h0M1312 567.2h0M1312 568.9h0M1311.9 570.7h0M1311.8 572.5h0M1311.7 574.2h0M1311.7 576h0M1311.7 577.8h0M1311.8 579.5h0M1312 581.3h0M1312.2 583.1h0M1312.5 584.8h0M1312.8 586.6h0M1313.1 588.3h0M1313.3 590.1h0M1313.5 591.9h0M1313.7 593.6h0M1313.8 595.4h0M1313.8 597.2h0M1313.8 598.9h0M1313.8 600.7h0M1313.8 602.5h0M1313.9 604.2h0M1314 606h0M1314.2 607.7h0M1314.5 609.5h0M1314.9 611.3h0M1315.3 613h0M1315.8 614.8h0M1316.3 616.6h0M1316.7 618.3h0M1317.1 620.1h0M1317.3 621.9h0M1317.6 623.6h0M1317.7 625.4h0M1317.8 627.1h0M1317.9 628.9h0M1318 630.7h0M1318.1 632.4h0M1318.3 634.2h0M1318.6 636h0M1318.9 637.7h0M1319.2 639.5h0M1319.6 641.2h0M1320 643h0M1320.4 644.8h0M1320.7 646.5h0M1321 648.3h0M1321.2 650.1h0M1321.3 651.8h0M1321.3 653.6h0M1321.3 655.4h0M1321.2 657.1h0M1321.2 658.9h0M1321.1 660.6h0M1321.2 662.4h0M1321.2 664.2h0M1321.4 665.9h0M1321.6 667.7h0M1321.9 669.5h0M1322.2 671.2h0M1322.5 673h0M1322.8 674.8h0M1323 676.5h0M1323.2 678.3h0M1323.3 680h0M1323.3 681.8h0M1323.3 683.6h0M1323.3 685.3h0M1323.3 687.1h0M1323.4 688.9h0M1323.5 690.6h0M1323.7 692.4h0M1324 694.2h0M1324.4 695.9h0M1324.9 697.7h0M1325.3 699.4h0M1325.8 701.2h0M1326.3 703h0M1326.7 704.7h0M1327 706.5h0M1327.3 708.3h0M1327.5 710h0M1327.6 711.8h0M1327.8 713.6h0M1327.9 715.3h0M1328.1 717.1h0M1328.3 718.8h0M1328.5 720.6h0M1328.9 722.4h0M1329.3 724.1h0M1329.7 725.9h0M1330.1 727.7h0M1330.6 729.4h0M1330.9 731.2h0M1331.3 733h0M1331.5 734.7h0M1331.6 736.5h0M1331.7 738.2h0M1331.7 740h0M1331.6 741.8h0M1331.6 743.5h0M1331.6 745.3h0M1331.6 747.1h0M1331.7 748.8h0M1331.8 750.6h0M1332.1 752.4h0M1332.4 754.1h0M1332.7 755.9h0M1333 757.6h0M1333.3 759.4h0M1333.5 761.2h0M1333.7 762.9h0M1333.8 764.7h0M1333.9 766.5h0M1333.9 768.2h0M1333.9 770h0M1334 771.8h0M1334 773.5h0M1334.2 775.3h0M1334.4 777h0M1334.7 778.8h0M1335.1 780.6h0M1335.5 782.3h0M1336 784.1h0M1336.5 785.9h0M1337 787.6h0M1337.4 789.4h0M1337.8 791.2h0M1338.1 792.9h0M1338.3 794.7h0M1338.5 796.4h0M1338.7 798.2h0M1338.8 800h0M1339 801.7h0M1339.2 803.5h0M1111.8 20.5h0M1111.6 22.2h0M1111.5 24h0M1111.3 25.8h0M1111.2 27.5h0M1111.1 29.3h0M1111.1 31.1h0M1111.5 32.8h0M1112.1 34.6h0M1112.6 36.4h0M1113.2 38.1h0M1113.7 39.9h0M1114 41.6h0M1114.1 43.4h0M1114 45.2h0M1113.9 46.9h0M1113.8 48.7h0M1113.6 50.5h0M1114.1 52.2h0M1114.8 54h0M1115.5 55.8h0M1116.4 57.5h0M1117.3 59.3h0M1118.2 61h0M1118.7 62.8h0M1119.2 64.6h0M1119.7 66.3h0M1120.2 68.1h0M1120.4 69.9h0M1120.8 71.6h0M1121.1 73.4h0M1121.4 75.1h0M1121.7 76.9h0M1121.9 78.7h0M1123 80.4h0M1124.2 82.2h0M1125.6 84h0M1127.1 85.7h0M1128.8 87.5h0M1132.3 89.3h0M1135.9 91h0M1139.6 92.8h0M1143.2 94.5h0M1146.6 96.3h0M1148.2 98.1h0M1149.5 99.8h0M1150.7 101.6h0M1151.9 103.4h0M1152.9 105.1h0M1154 106.9h0M1155 108.7h0M1156.1 110.4h0M1157.2 112.2h0M1158.4 113.9h0M1159.6 115.7h0M1161 117.5h0M1162.5 119.2h0M1164.5 121h0M1166.5 122.8h0M1168.4 124.5h0M1170.3 126.3h0M1172.2 128.1h0M1173.9 129.8h0M1175.4 131.6h0M1176.9 133.3h0M1178.3 135.1h0M1179.8 136.9h0M1181.3 138.6h0M1182.8 140.4h0M1184.4 142.2h0M1186.1 143.9h0M1187.7 145.7h0M1189.2 147.5h0M1190.7 149.2h0M1192.2 151h0M1193.7 152.7h0M1195.2 154.5h0M1196.6 156.3h0M1198 158h0M1199.3 159.8h0M1200.5 161.6h0M1201.7 163.3h0M1202.6 165.1h0M1203.3 166.9h0M1204.1 168.6h0M1204.9 170.4h0M1205.8 172.1h0M1206.8 173.9h0M1207.9 175.7h0M1209 177.4h0M1210 179.2h0M1211.1 181h0M1212.4 182.7h0M1213.6 184.5h0M1214.8 186.3h0M1215.9 188h0M1216.9 189.8h0M1217.9 191.5h0M1218.9 193.3h0M1219.9 195.1h0M1220.9 196.8h0M1221.9 198.6h0M1223.1 200.4h0M1224.3 202.1h0M1225.4 203.9h0M1226.5 205.7h0M1227.6 207.4h0M1228.7 209.2h0M1229.8 210.9h0M1230.7 212.7h0M1231.6 214.5h0M1232.4 216.2h0M1233.1 218h0M1233.7 219.8h0M1234.4 221.5h0M1235 223.3h0M1235.7 225.1h0M1236.5 226.8h0M1237.4 228.6h0M1238.3 230.3h0M1239.3 232.1h0M1240.4 233.9h0M1241.5 235.6h0M1242.5 237.4h0M1243.6 239.2h0M1244.5 240.9h0M1245.4 242.7h0M1246.2 244.5h0M1246.8 246.2h0M1247.4 248h0M1248 249.7h0M1248.7 251.5h0M1249.4 253.3h0M1250.1 255h0M1250.8 256.8h0M1251.6 258.6h0M1252.4 260.3h0M1253.3 262.1h0M1254.2 263.8h0M1255.5 265.6h0M1256.7 267.4h0M1257.9 269.1h0M1259.1 270.9h0M1260.1 272.7h0M1260.8 274.4h0M1261.1 276.2h0M1261.5 278h0M1261.8 279.7h0M1262.1 281.5h0M1262.5 283.2h0M1263 285h0M1263.6 286.8h0M1264.2 288.5h0M1264.9 290.3h0M1265.6 292.1h0M1266.2 293.8h0M1266.8 295.6h0M1267.3 297.4h0M1267.8 299.1h0M1268.1 300.9h0M1268.4 302.6h0M1268.7 304.4h0M1268.9 306.2h0M1269.2 307.9h0M1269.5 309.7h0M1269.9 311.5h0M1270.4 313.2h0M1270.9 315h0M1271.5 316.8h0M1272.2 318.5h0M1272.9 320.3h0M1273.6 322h0M1274.3 323.8h0M1274.9 325.6h0M1275.4 327.3h0M1275.9 329.1h0M1276.3 330.9h0M1276.8 332.6h0M1277.2 334.4h0M1277.6 336.2h0M1278.1 337.9h0M1278.6 339.7h0M1279.2 341.4h0M1279.9 343.2h0M1280.7 345h0M1281.4 346.7h0M1282.3 348.5h0M1283.1 350.3h0M1283.8 352h0M1284.5 353.8h0M1285.1 355.6h0M1285.6 357.3h0M1286 359.1h0M1286.4 360.8h0M1286.8 362.6h0M1287.1 364.4h0M1287.5 366.1h0M1288 367.9h0M1288.5 369.7h0M1289.1 371.4h0M1289.6 373.2h0M1290.2 375h0M1290.8 376.7h0M1291.3 378.5h0M1291.8 380.2h0M1292.3 382h0M1292.6 383.8h0M1292.9 385.5h0M1293.1 387.3h0M1293.2 389.1h0M1293.2 390.8h0M1293.1 392.6h0M1293.1 394.4h0M1293.1 396.1h0M1293.2 397.9h0M1293.5 399.6h0M1293.7 401.4h0M1294.1 403.2h0M1294.4 404.9h0M1294.8 406.7h0M1295.1 408.5h0M1295.4 410.2h0M1295.7 412h0M1295.9 413.8h0M1296 415.5h0M1296.1 417.3h0M1296.2 419h0M1296.3 420.8h0M1296.5 422.6h0M1296.7 424.3h0M1297.1 426.1h0M1297.5 427.9h0M1297.9 429.6h0M1298.5 431.4h0M1299 433.2h0M1299.5 434.9h0M1300 436.7h0M1300.4 438.4h0M1300.8 440.2h0M1301.1 442h0M1301.2 443.7h0M1301.4 445.5h0M1301.5 447.3h0M1301.6 449h0M1301.7 450.8h0M1301.9 452.5h0M1302.1 454.3h0M1302.3 456.1h0M1302.5 457.8h0M1302.8 459.6h0M1303.1 461.4h0M1303.3 463.1h0M1303.5 464.9h0M1303.6 466.7h0M1303.7 468.4h0M1303.7 470.2h0M1303.6 471.9h0M1303.5 473.7h0M1303.4 475.5h0M1303.3 477.2h0M1303.2 479h0M1303.2 480.8h0M1303.3 482.5h0M1303.4 484.3h0M1303.6 486.1h0M1303.9 487.8h0M1304.2 489.6h0M1304.6 491.3h0M1304.8 493.1h0M1305.1 494.9h0M1305.3 496.6h0M1305.4 498.4h0M1305.5 500.2h0M1305.5 501.9h0M1305.5 503.7h0M1305.6 505.5h0M1305.7 507.2h0M1305.8 509h0M1306.1 510.7h0M1306.4 512.5h0M1306.8 514.3h0M1307.2 516h0M1307.7 517.8h0M1308.2 519.6h0M1308.6 521.3h0M1309 523.1h0M1309.2 524.9h0M1309.5 526.6h0M1309.6 528.4h0M1309.7 530.1h0M1309.7 531.9h0M1309.8 533.7h0M1309.8 535.4h0M1309.9 537.2h0M1310.1 539h0M1310.3 540.7h0M1310.6 542.5h0M1311 544.3h0M1311.3 546h0M1311.6 547.8h0M1311.9 549.5h0M1312.2 551.3h0M1312.3 553.1h0M1312.4 554.8h0M1312.4 556.6h0M1312.3 558.4h0M1312.2 560.1h0M1312.1 561.9h0M1312.1 563.7h0M1312 565.4h0M1312.1 567.2h0M1312.3 568.9h0M1312.5 570.7h0M1312.8 572.5h0M1313.1 574.2h0M1313.4 576h0M1313.7 577.8h0M1314 579.5h0M1314.2 581.3h0M1314.3 583.1h0M1314.4 584.8h0M1314.5 586.6h0M1314.5 588.3h0M1314.6 590.1h0M1314.7 591.9h0M1314.8 593.6h0M1315 595.4h0M1315.4 597.2h0M1315.8 598.9h0M1316.2 600.7h0M1316.7 602.5h0M1317.2 604.2h0M1317.6 606h0M1318 607.7h0M1318.4 609.5h0M1318.6 611.3h0M1318.8 613h0M1318.9 614.8h0M1319 616.6h0M1319 618.3h0M1319.1 620.1h0M1319.2 621.9h0M1319.4 623.6h0M1319.6 625.4h0M1319.9 627.1h0M1320.2 628.9h0M1320.6 630.7h0M1320.9 632.4h0M1321.2 634.2h0M1321.5 636h0M1321.6 637.7h0M1321.7 639.5h0M1321.7 641.2h0M1321.6 643h0M1321.6 644.8h0M1321.5 646.5h0M1321.4 648.3h0M1321.4 650.1h0M1321.5 651.8h0M1321.6 653.6h0M1321.8 655.4h0M1322.1 657.1h0M1322.4 658.9h0M1322.8 660.6h0M1323.1 662.4h0M1323.4 664.2h0M1323.6 665.9h0M1323.7 667.7h0M1323.8 669.5h0M1323.9 671.2h0M1323.9 673h0M1324 674.8h0M1324.1 676.5h0M1324.2 678.3h0M1324.4 680h0M1324.8 681.8h0M1325.1 683.6h0M1325.6 685.3h0M1326.1 687.1h0M1326.6 688.9h0M1327.1 690.6h0M1327.5 692.4h0M1327.9 694.2h0M1328.1 695.9h0M1328.4 697.7h0M1328.5 699.4h0M1328.6 701.2h0M1328.7 703h0M1328.8 704.7h0M1328.9 706.5h0M1329.1 708.3h0M1329.4 710h0M1329.7 711.8h0M1330.1 713.6h0M1330.5 715.3h0M1330.9 717.1h0M1331.3 718.8h0M1331.5 720.6h0M1331.8 722.4h0M1331.9 724.1h0M1331.9 725.9h0M1331.9 727.7h0M1331.9 729.4h0M1331.8 731.2h0M1331.8 733h0M1331.7 734.7h0M1331.8 736.5h0M1332 738.2h0M1332.2 740h0M1332.4 741.8h0M1332.8 743.5h0M1333.1 745.3h0M1333.4 747.1h0M1333.7 748.8h0M1334 750.6h0M1334.1 752.4h0M1334.3 754.1h0M1334.3 755.9h0M1334.4 757.6h0M1334.4 759.4h0M1334.5 761.2h0M1334.6 762.9h0M1334.9 764.7h0M1335.2 766.5h0M1335.6 768.2h0M1336.1 770h0M1336.6 771.8h0M1337.1 773.5h0M1337.6 775.3h0M1338.1 777h0M1338.5 778.8h0M1338.8 780.6h0M1339.1 782.3h0M1339.2 784.1h0M1339.4 785.9h0M1339.5 787.6h0M1339.6 789.4h0M1339.8 791.2h0M1340 792.9h0M1340.3 794.7h0M1340.6 796.4h0M1341 798.2h0M1341.5 800h0M1341.9 801.7h0M1342.2 803.5h0M1101.3 20.5h0M1101.4 22.2h0M1101.5 24h0M1101.6 25.8h0M1101.6 27.5h0M1101.7 29.3h0M1101.6 31.1h0M1101.9 32.8h0M1102.2 34.6h0M1102.4 36.4h0M1102.5 38.1h0M1102.7 39.9h0M1102.8 41.6h0M1102.8 43.4h0M1102.8 45.2h0M1102.9 46.9h0M1103.1 48.7h0M1103.4 50.5h0M1104.4 52.2h0M1105.5 54h0M1106.7 55.8h0M1107.8 57.5h0M1108.9 59.3h0M1109.8 61h0M1110.1 62.8h0M1110.4 64.6h0M1110.6 66.3h0M1110.9 68.1h0M1110.9 69.9h0M1111 71.6h0M1111.4 73.4h0M1111.8 75.1h0M1112.2 76.9h0M1112.8 78.7h0M1113.4 80.4h0M1114.7 82.2h0M1115.9 84h0M1117.1 85.7h0M1118.2 87.5h0M1119.2 89.3h0M1121 91h0M1123.6 92.8h0M1126 94.5h0M1128.5 96.3h0M1131 98.1h0M1133.9 99.8h0M1135.3 101.6h0M1136.7 103.4h0M1138.2 105.1h0M1139.7 106.9h0M1141.3 108.7h0M1142.9 110.4h0M1144.5 112.2h0M1146 113.9h0M1147.5 115.7h0M1149 117.5h0M1150.3 119.2h0M1152 121h0M1153.7 122.8h0M1155.4 124.5h0M1157.1 126.3h0M1158.8 128.1h0M1160.6 129.8h0M1162.4 131.6h0M1164.3 133.3h0M1166.2 135.1h0M1168.2 136.9h0M1170.2 138.6h0M1172.2 140.4h0M1174.2 142.2h0M1176.2 143.9h0M1177.8 145.7h0M1179.3 147.5h0M1180.6 149.2h0M1181.9 151h0M1183.2 152.7h0M1184.6 154.5h0M1185.9 156.3h0M1187.4 158h0M1188.9 159.8h0M1190.5 161.6h0M1192.1 163.3h0M1193.4 165.1h0M1194.5 166.9h0M1195.6 168.6h0M1196.7 170.4h0M1197.7 172.1h0M1198.5 173.9h0M1199.3 175.7h0M1200.1 177.4h0M1200.7 179.2h0M1201.4 181h0M1202.3 182.7h0M1203.3 184.5h0M1204.4 186.3h0M1205.5 188h0M1206.7 189.8h0M1207.9 191.5h0M1209.2 193.3h0M1210.5 195.1h0M1211.8 196.8h0M1213 198.6h0M1214.2 200.4h0M1215.3 202.1h0M1216.2 203.9h0M1217 205.7h0M1217.9 207.4h0M1218.6 209.2h0M1219.5 210.9h0M1220.3 212.7h0M1221.3 214.5h0M1222.2 216.2h0M1223.1 218h0M1224 219.8h0M1225 221.5h0M1226 223.3h0M1227.1 225.1h0M1228.1 226.8h0M1229 228.6h0M1229.9 230.3h0M1230.7 232.1h0M1231.5 233.9h0M1232.2 235.6h0M1232.9 237.4h0M1233.6 239.2h0M1234.4 240.9h0M1235.2 242.7h0M1235.9 244.5h0M1236.7 246.2h0M1237.6 248h0M1238.5 249.7h0M1239.4 251.5h0M1240.3 253.3h0M1241.1 255h0M1241.8 256.8h0M1242.3 258.6h0M1242.8 260.3h0M1243.2 262.1h0M1243.5 263.8h0M1244.2 265.6h0M1244.9 267.4h0M1245.7 269.1h0M1246.5 270.9h0M1247.4 272.7h0M1248.1 274.4h0M1248.6 276.2h0M1249.2 278h0M1249.8 279.7h0M1250.4 281.5h0M1250.9 283.2h0M1251.4 285h0M1251.9 286.8h0M1252.3 288.5h0M1252.6 290.3h0M1252.9 292.1h0M1253.2 293.8h0M1253.5 295.6h0M1253.8 297.4h0M1254.2 299.1h0M1254.7 300.9h0M1255.3 302.6h0M1255.9 304.4h0M1256.6 306.2h0M1257.4 307.9h0M1258.1 309.7h0M1258.9 311.5h0M1259.6 313.2h0M1260.2 315h0M1260.8 316.8h0M1261.3 318.5h0M1261.7 320.3h0M1262.2 322h0M1262.7 323.8h0M1263.2 325.6h0M1263.7 327.3h0M1264.4 329.1h0M1265.1 330.9h0M1265.9 332.6h0M1266.7 334.4h0M1267.5 336.2h0M1268.3 337.9h0M1269.1 339.7h0M1269.8 341.4h0M1270.4 343.2h0M1270.9 345h0M1271.4 346.7h0M1271.7 348.5h0M1272.1 350.3h0M1272.4 352h0M1272.8 353.8h0M1273.2 355.6h0M1273.6 357.3h0M1274.1 359.1h0M1274.7 360.8h0M1275.3 362.6h0M1276 364.4h0M1276.6 366.1h0M1277.2 367.9h0M1277.7 369.7h0M1278.2 371.4h0M1278.6 373.2h0M1279.1 375h0M1279.5 376.7h0M1279.9 378.5h0M1280.3 380.2h0M1280.7 382h0M1281.2 383.8h0M1281.8 385.5h0M1282.4 387.3h0M1283.1 389.1h0M1283.7 390.8h0M1284.3 392.6h0M1285 394.4h0M1285.6 396.1h0M1286.2 397.9h0M1286.7 399.6h0M1287.2 401.4h0M1287.6 403.2h0M1288 404.9h0M1288.3 406.7h0M1288.6 408.5h0M1289 410.2h0M1289.5 412h0M1289.9 413.8h0M1290.4 415.5h0M1291 417.3h0M1291.6 419h0M1292.3 420.8h0M1292.9 422.6h0M1293.5 424.3h0M1294.1 426.1h0M1294.6 427.9h0M1295 429.6h0M1295.3 431.4h0M1295.5 433.2h0M1295.7 434.9h0M1295.9 436.7h0M1296.1 438.4h0M1296.3 440.2h0M1296.6 442h0M1297 443.7h0M1297.4 445.5h0M1297.8 447.3h0M1298.3 449h0M1298.8 450.8h0M1299.2 452.5h0M1299.6 454.3h0M1299.8 456.1h0M1299.9 457.8h0M1300 459.6h0M1300 461.4h0M1299.9 463.1h0M1299.9 464.9h0M1299.9 466.7h0M1299.9 468.4h0M1300.1 470.2h0M1300.2 471.9h0M1300.5 473.7h0M1300.8 475.5h0M1301.1 477.2h0M1301.5 479h0M1301.8 480.8h0M1302.1 482.5h0M1302.4 484.3h0M1302.6 486.1h0M1302.7 487.8h0M1302.8 489.6h0M1302.9 491.3h0M1302.9 493.1h0M1303 494.9h0M1303.2 496.6h0M1303.4 498.4h0M1303.7 500.2h0M1304.1 501.9h0M1304.5 503.7h0M1305 505.5h0M1305.5 507.2h0M1305.9 509h0M1306.3 510.7h0M1306.6 512.5h0M1306.8 514.3h0M1306.9 516h0M1307 517.8h0M1307 519.6h0M1307 521.3h0M1307 523.1h0M1307 524.9h0M1307.1 526.6h0M1307.3 528.4h0M1307.5 530.1h0M1307.8 531.9h0M1308.1 533.7h0M1308.4 535.4h0M1308.6 537.2h0M1308.8 539h0M1309 540.7h0M1309 542.5h0M1309 544.3h0M1309 546h0M1308.9 547.8h0M1308.8 549.5h0M1308.7 551.3h0M1308.7 553.1h0M1308.8 554.8h0M1308.9 556.6h0M1309.1 558.4h0M1309.4 560.1h0M1309.8 561.9h0M1310.2 563.7h0M1310.5 565.4h0M1310.9 567.2h0M1311.1 568.9h0M1311.3 570.7h0M1311.5 572.5h0M1311.6 574.2h0M1311.7 576h0M1311.8 577.8h0M1311.9 579.5h0M1312 581.3h0M1312.2 583.1h0M1312.6 584.8h0M1312.9 586.6h0M1313.4 588.3h0M1313.9 590.1h0M1314.4 591.9h0M1314.8 593.6h0M1315.2 595.4h0M1315.6 597.2h0M1315.8 598.9h0M1316 600.7h0M1316.1 602.5h0M1316.2 604.2h0M1316.2 606h0M1316.2 607.7h0M1316.3 609.5h0M1316.4 611.3h0M1316.6 613h0M1316.8 614.8h0M1317.1 616.6h0M1317.4 618.3h0M1317.7 620.1h0M1318 621.9h0M1318.2 623.6h0M1318.3 625.4h0M1318.4 627.1h0M1318.4 628.9h0M1318.4 630.7h0M1318.3 632.4h0M1318.2 634.2h0M1318.1 636h0M1318 637.7h0M1318.1 639.5h0M1318.2 641.2h0M1318.4 643h0M1318.7 644.8h0M1319 646.5h0M1319.4 648.3h0M1319.8 650.1h0M1320.1 651.8h0M1320.4 653.6h0M1320.6 655.4h0M1320.8 657.1h0M1320.9 658.9h0M1321 660.6h0M1321.1 662.4h0M1321.2 664.2h0M1321.3 665.9h0M1321.6 667.7h0M1321.9 669.5h0M1322.2 671.2h0M1322.7 673h0M1323.2 674.8h0M1323.7 676.5h0M1324.2 678.3h0M1324.6 680h0M1325 681.8h0M1325.3 683.6h0M1325.5 685.3h0M1325.6 687.1h0M1325.7 688.9h0M1325.7 690.6h0M1325.8 692.4h0M1325.9 694.2h0M1326 695.9h0M1326.2 697.7h0M1326.4 699.4h0M1326.7 701.2h0M1327.1 703h0M1327.4 704.7h0M1327.7 706.5h0M1328 708.3h0M1328.2 710h0M1328.4 711.8h0M1328.4 713.6h0M1328.4 715.3h0M1328.4 717.1h0M1328.3 718.8h0M1328.2 720.6h0M1328.2 722.4h0M1328.3 724.1h0M1328.4 725.9h0M1328.6 727.7h0M1328.9 729.4h0M1329.2 731.2h0M1329.6 733h0M1330 734.7h0M1330.3 736.5h0M1330.6 738.2h0M1330.9 740h0M1331.1 741.8h0M1331.2 743.5h0M1331.3 745.3h0M1331.4 747.1h0M1331.5 748.8h0M1331.6 750.6h0M1331.9 752.4h0M1332.2 754.1h0M1332.5 755.9h0M1333 757.6h0M1333.5 759.4h0M1334 761.2h0M1334.5 762.9h0M1335 764.7h0M1335.4 766.5h0M1335.7 768.2h0M1336 770h0M1336.2 771.8h0M1336.3 773.5h0M1336.4 775.3h0M1336.5 777h0M1336.6 778.8h0M1336.8 780.6h0M1337 782.3h0M1337.2 784.1h0M1337.6 785.9h0M1337.9 787.6h0M1338.3 789.4h0M1338.7 791.2h0M1339 792.9h0M1339.2 794.7h0M1339.4 796.4h0M1339.5 798.2h0M1339.5 800h0M1339.5 801.7h0M1339.4 803.5h0M1109.1 20.5h0M1109 22.2h0M1108.8 24h0M1108.6 25.8h0M1108.3 27.5h0M1108.1 29.3h0M1108 31.1h0M1108.3 32.8h0M1108.8 34.6h0M1109.3 36.4h0M1109.9 38.1h0M1110.6 39.9h0M1111.2 41.6h0M1111.6 43.4h0M1111.9 45.2h0M1112.2 46.9h0M1112.4 48.7h0M1112.6 50.5h0M1113.3 52.2h0M1114.2 54h0M1115 55.8h0M1115.9 57.5h0M1116.8 59.3h0M1117.6 61h0M1118 62.8h0M1118.5 64.6h0M1119 66.3h0M1119.5 68.1h0M1119.9 69.9h0M1120.5 71.6h0M1121.1 73.4h0M1121.7 75.1h0M1122.1 76.9h0M1123.1 78.7h0M1124.3 80.4h0M1125.5 82.2h0M1126.9 84h0M1128.6 85.7h0M1132.1 87.5h0M1135.6 89.3h0M1139.1 91h0M1142.7 92.8h0M1144.8 94.5h0M1146.4 96.3h0M1148 98.1h0M1149 99.8h0M1150 101.6h0M1150.9 103.4h0M1151.8 105.1h0M1152.6 106.9h0M1153.4 108.7h0M1154.1 110.4h0M1154.9 112.2h0M1155.6 113.9h0M1156.4 115.7h0M1157.3 117.5h0M1158.7 119.2h0M1160.6 121h0M1162.7 122.8h0M1164.8 124.5h0M1167 126.3h0M1169.1 128.1h0M1171.2 129.8h0M1173.2 131.6h0M1175 133.3h0M1176.8 135.1h0M1178.6 136.9h0M1180.2 138.6h0M1181.9 140.4h0M1183.6 142.2h0M1185.2 143.9h0M1186.8 145.7h0M1188.2 147.5h0M1189.7 149.2h0M1191.3 151h0M1192.8 152.7h0M1194.4 154.5h0M1196 156.3h0M1197.6 158h0M1199 159.8h0M1200.4 161.6h0M1201.7 163.3h0M1202.5 165.1h0M1203.1 166.9h0M1203.7 168.6h0M1204.2 170.4h0M1204.8 172.1h0M1205.4 173.9h0M1206.1 175.7h0M1206.8 177.4h0M1207.6 179.2h0M1208.5 181h0M1209.7 182.7h0M1210.9 184.5h0M1212.1 186.3h0M1213.3 188h0M1214.4 189.8h0M1215.4 191.5h0M1216.4 193.3h0M1217.3 195.1h0M1218.2 196.8h0M1219.1 198.6h0M1220.1 200.4h0M1221.1 202.1h0M1222.1 203.9h0M1223.1 205.7h0M1224.3 207.4h0M1225.5 209.2h0M1226.8 210.9h0M1228.1 212.7h0M1229.3 214.5h0M1230.5 216.2h0M1231.5 218h0M1232.5 219.8h0M1233.4 221.5h0M1234.2 223.3h0M1235 225.1h0M1235.9 226.8h0M1236.7 228.6h0M1237.6 230.3h0M1238.5 232.1h0M1239.5 233.9h0M1240.6 235.6h0M1241.7 237.4h0M1242.9 239.2h0M1244 240.9h0M1245.1 242.7h0M1245.9 244.5h0M1246.7 246.2h0M1247.4 248h0M1248 249.7h0M1248.5 251.5h0M1249 253.3h0M1249.4 255h0M1249.8 256.8h0M1250.2 258.6h0M1250.6 260.3h0M1251.1 262.1h0M1251.7 263.8h0M1252.8 265.6h0M1253.9 267.4h0M1255 269.1h0M1256.1 270.9h0M1257.1 272.7h0M1257.9 274.4h0M1258.2 276.2h0M1258.5 278h0M1258.8 279.7h0M1259 281.5h0M1259.2 283.2h0M1259.5 285h0M1259.9 286.8h0M1260.4 288.5h0M1261 290.3h0M1261.6 292.1h0M1262.4 293.8h0M1263.1 295.6h0M1263.9 297.4h0M1264.7 299.1h0M1265.4 300.9h0M1266.1 302.6h0M1266.7 304.4h0M1267.3 306.2h0M1267.8 307.9h0M1268.2 309.7h0M1268.7 311.5h0M1269.2 313.2h0M1269.7 315h0M1270.3 316.8h0M1270.9 318.5h0M1271.7 320.3h0M1272.4 322h0M1273.2 323.8h0M1274 325.6h0M1274.8 327.3h0M1275.5 329.1h0M1276.1 330.9h0M1276.6 332.6h0M1277.1 334.4h0M1277.4 336.2h0M1277.7 337.9h0M1278 339.7h0M1278.3 341.4h0M1278.6 343.2h0M1279 345h0M1279.5 346.7h0M1280 348.5h0M1280.5 350.3h0M1281.1 352h0M1281.7 353.8h0M1282.3 355.6h0M1282.9 357.3h0M1283.3 359.1h0M1283.7 360.8h0M1284.1 362.6h0M1284.4 364.4h0M1284.6 366.1h0M1284.9 367.9h0M1285.2 369.7h0M1285.5 371.4h0M1286 373.2h0M1286.4 375h0M1287 376.7h0M1287.7 378.5h0M1288.4 380.2h0M1289.1 382h0M1289.8 383.8h0M1290.5 385.5h0M1291.1 387.3h0M1291.6 389.1h0M1291.8 390.8h0M1292.1 392.6h0M1292.2 394.4h0M1292.4 396.1h0M1292.6 397.9h0M1292.8 399.6h0M1293.1 401.4h0M1293.5 403.2h0M1293.9 404.9h0M1294.4 406.7h0M1294.9 408.5h0M1295.5 410.2h0M1295.9 412h0M1296.4 413.8h0M1296.7 415.5h0M1297 417.3h0M1297.2 419h0M1297.3 420.8h0M1297.4 422.6h0M1297.4 424.3h0M1297.5 426.1h0M1297.5 427.9h0M1297.7 429.6h0M1297.8 431.4h0M1298.1 433.2h0M1298.4 434.9h0M1298.8 436.7h0M1299.1 438.4h0M1299.5 440.2h0M1299.8 442h0M1300 443.7h0M1300.2 445.5h0M1300.3 447.3h0M1300.3 449h0M1300.3 450.8h0M1300.3 452.5h0M1300.3 454.3h0M1300.3 456.1h0M1300.4 457.8h0M1300.5 459.6h0M1300.7 461.4h0M1301 463.1h0M1301.3 464.9h0M1301.7 466.7h0M1302 468.4h0M1302.4 470.2h0M1302.7 471.9h0M1302.9 473.7h0M1303.1 475.5h0M1303.3 477.2h0M1303.4 479h0M1303.4 480.8h0M1303.5 482.5h0M1303.7 484.3h0M1303.9 486.1h0M1304.2 487.8h0M1304.5 489.6h0M1304.9 491.3h0M1305.4 493.1h0M1305.8 494.9h0M1306.2 496.6h0M1306.6 498.4h0M1306.9 500.2h0M1307.1 501.9h0M1307.2 503.7h0M1307.3 505.5h0M1307.3 507.2h0M1307.2 509h0M1307.2 510.7h0M1307.2 512.5h0M1307.2 514.3h0M1307.3 516h0M1307.4 517.8h0M1307.7 519.6h0M1307.9 521.3h0M1308.2 523.1h0M1308.4 524.9h0M1308.7 526.6h0M1308.8 528.4h0M1308.9 530.1h0M1308.9 531.9h0M1308.9 533.7h0M1308.8 535.4h0M1308.7 537.2h0M1308.6 539h0M1308.6 540.7h0M1308.6 542.5h0M1308.8 544.3h0M1309 546h0M1309.4 547.8h0M1309.7 549.5h0M1310.1 551.3h0M1310.6 553.1h0M1310.9 554.8h0M1311.3 556.6h0M1311.6 558.4h0M1311.8 560.1h0M1311.9 561.9h0M1312 563.7h0M1312.1 565.4h0M1312.2 567.2h0M1312.4 568.9h0M1312.6 570.7h0M1312.9 572.5h0M1313.2 574.2h0M1313.7 576h0M1314.1 577.8h0M1314.6 579.5h0M1315 581.3h0M1315.4 583.1h0M1315.8 584.8h0M1316 586.6h0M1316.2 588.3h0M1316.3 590.1h0M1316.3 591.9h0M1316.3 593.6h0M1316.3 595.4h0M1316.3 597.2h0M1316.3 598.9h0M1316.4 600.7h0M1316.6 602.5h0M1316.9 604.2h0M1317.1 606h0M1317.4 607.7h0M1317.7 609.5h0M1317.9 611.3h0M1318.1 613h0M1318.2 614.8h0M1318.3 616.6h0M1318.2 618.3h0M1318.1 620.1h0M1318.1 621.9h0M1318 623.6h0M1317.9 625.4h0M1318 627.1h0M1318.1 628.9h0M1318.3 630.7h0M1318.6 632.4h0M1318.9 634.2h0M1319.3 636h0M1319.7 637.7h0M1320.1 639.5h0M1320.4 641.2h0M1320.7 643h0M1320.9 644.8h0M1321.1 646.5h0M1321.2 648.3h0M1321.3 650.1h0M1321.5 651.8h0M1321.6 653.6h0M1321.8 655.4h0M1322.1 657.1h0M1322.5 658.9h0M1322.9 660.6h0M1323.4 662.4h0M1323.8 664.2h0M1324.3 665.9h0M1324.7 667.7h0M1325.1 669.5h0M1325.4 671.2h0M1325.6 673h0M1325.7 674.8h0M1325.8 676.5h0M1325.8 678.3h0M1325.8 680h0M1325.8 681.8h0M1325.9 683.6h0M1326 685.3h0M1326.2 687.1h0M1326.4 688.9h0M1326.7 690.6h0M1327 692.4h0M1327.3 694.2h0M1327.6 695.9h0M1327.8 697.7h0M1328 699.4h0M1328 701.2h0M1328 703h0M1328 704.7h0M1327.9 706.5h0M1327.9 708.3h0M1327.9 710h0M1327.9 711.8h0M1328 713.6h0M1328.3 715.3h0M1328.6 717.1h0M1328.9 718.8h0M1329.3 720.6h0M1329.8 722.4h0M1330.2 724.1h0M1330.5 725.9h0M1330.8 727.7h0M1331.1 729.4h0M1331.3 731.2h0M1331.4 733h0M1331.5 734.7h0M1331.7 736.5h0M1331.8 738.2h0M1332 740h0M1332.3 741.8h0M1332.7 743.5h0M1333.1 745.3h0M1333.6 747.1h0M1334.1 748.8h0M1334.6 750.6h0M1335 752.4h0M1335.5 754.1h0M1335.8 755.9h0M1336 757.6h0M1336.2 759.4h0M1336.2 761.2h0M1336.3 762.9h0M1336.3 764.7h0M1336.4 766.5h0M1336.5 768.2h0M1336.6 770h0M1336.8 771.8h0M1337.1 773.5h0M1337.4 775.3h0M1337.8 777h0M1338.1 778.8h0M1338.4 780.6h0M1338.7 782.3h0M1338.8 784.1h0M1338.9 785.9h0M1339 787.6h0M1339 789.4h0M1338.9 791.2h0M1338.9 792.9h0M1338.9 794.7h0M1338.9 796.4h0M1339 798.2h0M1339.2 800h0M1339.5 801.7h0M1339.9 803.5h0M1101.9 20.5h0M1101.9 22.2h0M1102 24h0M1102.2 25.8h0M1102.5 27.5h0M1102.7 29.3h0M1103 31.1h0M1103.7 32.8h0M1104.4 34.6h0M1104.9 36.4h0M1105.4 38.1h0M1105.9 39.9h0M1106.1 41.6h0M1106.1 43.4h0M1106.1 45.2h0M1106.2 46.9h0M1106.2 48.7h0M1106.3 50.5h0M1107.2 52.2h0M1108.2 54h0M1109.4 55.8h0M1110.5 57.5h0M1111.6 59.3h0M1112.5 61h0M1112.9 62.8h0M1113.3 64.6h0M1113.5 66.3h0M1113.7 68.1h0M1113.5 69.9h0M1113.6 71.6h0M1113.8 73.4h0M1113.9 75.1h0M1114.1 76.9h0M1114.8 78.7h0M1116.1 80.4h0M1117.4 82.2h0M1118.8 84h0M1120.3 85.7h0M1123.2 87.5h0M1126.7 89.3h0M1130 91h0M1133.4 92.8h0M1136.3 94.5h0M1137.5 96.3h0M1138.6 98.1h0M1139.5 99.8h0M1140.3 101.6h0M1141.2 103.4h0M1142.2 105.1h0M1143.2 106.9h0M1144.4 108.7h0M1145.6 110.4h0M1146.9 112.2h0M1148.3 113.9h0M1149.7 115.7h0M1151 117.5h0M1152.7 119.2h0M1154.8 121h0M1156.8 122.8h0M1158.7 124.5h0M1160.6 126.3h0M1162.5 128.1h0M1164.2 129.8h0M1165.9 131.6h0M1167.7 133.3h0M1169.5 135.1h0M1171.3 136.9h0M1173.2 138.6h0M1175.2 140.4h0M1177.2 142.2h0M1179.2 143.9h0M1180.9 145.7h0M1182.4 147.5h0M1183.8 149.2h0M1185.1 151h0M1186.4 152.7h0M1187.5 154.5h0M1188.7 156.3h0M1189.8 158h0M1190.9 159.8h0M1192.1 161.6h0M1193.3 163.3h0M1194.3 165.1h0M1195.1 166.9h0M1196 168.6h0M1196.9 170.4h0M1197.9 172.1h0M1198.8 173.9h0M1199.7 175.7h0M1200.5 177.4h0M1201.3 179.2h0M1202 181h0M1203 182.7h0M1204 184.5h0M1205 186.3h0M1206 188h0M1207.1 189.8h0M1208.2 191.5h0M1209.5 193.3h0M1210.8 195.1h0M1212.2 196.8h0M1213.7 198.6h0M1215.1 200.4h0M1216.6 202.1h0M1217.9 203.9h0M1219.1 205.7h0M1220.3 207.4h0M1221.3 209.2h0M1222.3 210.9h0M1223.3 212.7h0M1224.3 214.5h0M1225.2 216.2h0M1225.9 218h0M1226.8 219.8h0M1227.7 221.5h0M1228.7 223.3h0M1229.7 225.1h0M1230.7 226.8h0M1231.7 228.6h0M1232.7 230.3h0M1233.7 232.1h0M1234.5 233.9h0M1235.3 235.6h0M1236 237.4h0M1236.6 239.2h0M1237.2 240.9h0M1237.7 242.7h0M1238.1 244.5h0M1238.5 246.2h0M1239 248h0M1239.6 249.7h0M1240.2 251.5h0M1240.9 253.3h0M1241.6 255h0M1242.2 256.8h0M1242.8 258.6h0M1243.4 260.3h0M1243.9 262.1h0M1244.4 263.8h0M1245.1 265.6h0M1245.9 267.4h0M1246.7 269.1h0M1247.5 270.9h0M1248.3 272.7h0M1248.9 274.4h0M1249.3 276.2h0M1249.8 278h0M1250.5 279.7h0M1251.1 281.5h0M1251.9 283.2h0M1252.6 285h0M1253.5 286.8h0M1254.3 288.5h0M1255 290.3h0M1255.6 292.1h0M1256.2 293.8h0M1256.7 295.6h0M1257.2 297.4h0M1257.7 299.1h0M1258.1 300.9h0M1258.6 302.6h0M1259.2 304.4h0M1259.8 306.2h0M1260.5 307.9h0M1261.2 309.7h0M1262 311.5h0M1262.7 313.2h0M1263.5 315h0M1264.2 316.8h0M1264.8 318.5h0M1265.3 320.3h0M1265.7 322h0M1266.1 323.8h0M1266.4 325.6h0M1266.7 327.3h0M1267 329.1h0M1267.3 330.9h0M1267.7 332.6h0M1268.1 334.4h0M1268.6 336.2h0M1269.2 337.9h0M1269.8 339.7h0M1270.4 341.4h0M1271 343.2h0M1271.6 345h0M1272.2 346.7h0M1272.6 348.5h0M1273 350.3h0M1273.4 352h0M1273.7 353.8h0M1274 355.6h0M1274.3 357.3h0M1274.7 359.1h0M1275.2 360.8h0M1275.7 362.6h0M1276.4 364.4h0M1277.1 366.1h0M1277.8 367.9h0M1278.6 369.7h0M1279.4 371.4h0M1280.2 373.2h0M1281.1 375h0M1281.8 376.7h0M1282.5 378.5h0M1283.1 380.2h0M1283.6 382h0M1284.2 383.8h0M1284.7 385.5h0M1285.3 387.3h0M1285.8 389.1h0M1286.3 390.8h0M1286.8 392.6h0M1287.4 394.4h0M1288.1 396.1h0M1288.7 397.9h0M1289.3 399.6h0M1289.9 401.4h0M1290.3 403.2h0M1290.8 404.9h0M1291.1 406.7h0M1291.3 408.5h0M1291.5 410.2h0M1291.6 412h0M1291.7 413.8h0M1291.8 415.5h0M1292 417.3h0M1292.2 419h0M1292.5 420.8h0M1292.9 422.6h0M1293.3 424.3h0M1293.7 426.1h0M1294.2 427.9h0M1294.6 429.6h0M1294.9 431.4h0M1295.2 433.2h0M1295.4 434.9h0M1295.6 436.7h0M1295.8 438.4h0M1295.9 440.2h0M1296 442h0M1296.2 443.7h0M1296.5 445.5h0M1296.8 447.3h0M1297.2 449h0M1297.8 450.8h0M1298.3 452.5h0M1298.9 454.3h0M1299.4 456.1h0M1299.9 457.8h0M1300.3 459.6h0M1300.7 461.4h0M1300.9 463.1h0M1301.1 464.9h0M1301.3 466.7h0M1301.4 468.4h0M1301.6 470.2h0M1301.7 471.9h0M1301.9 473.7h0M1302.1 475.5h0M1302.4 477.2h0M1302.7 479h0M1303.1 480.8h0M1303.5 482.5h0M1303.9 484.3h0M1304.3 486.1h0M1304.6 487.8h0M1304.8 489.6h0M1304.9 491.3h0M1304.9 493.1h0M1304.9 494.9h0M1304.8 496.6h0M1304.7 498.4h0M1304.6 500.2h0M1304.6 501.9h0M1304.7 503.7h0M1304.8 505.5h0M1305 507.2h0M1305.2 509h0M1305.5 510.7h0M1305.7 512.5h0M1306 514.3h0M1306.2 516h0M1306.3 517.8h0M1306.4 519.6h0M1306.4 521.3h0M1306.3 523.1h0M1306.3 524.9h0M1306.2 526.6h0M1306.2 528.4h0M1306.3 530.1h0M1306.4 531.9h0M1306.6 533.7h0M1307 535.4h0M1307.3 537.2h0M1307.8 539h0M1308.2 540.7h0M1308.6 542.5h0M1309 544.3h0M1309.3 546h0M1309.6 547.8h0M1309.8 549.5h0M1309.9 551.3h0M1310 553.1h0M1310.1 554.8h0M1310.3 556.6h0M1310.5 558.4h0M1310.7 560.1h0M1311 561.9h0M1311.4 563.7h0M1311.8 565.4h0M1312.2 567.2h0M1312.7 568.9h0M1313 570.7h0M1313.4 572.5h0M1313.6 574.2h0M1313.7 576h0M1313.8 577.8h0M1313.8 579.5h0M1313.8 581.3h0M1313.7 583.1h0M1313.7 584.8h0M1313.7 586.6h0M1313.7 588.3h0M1313.8 590.1h0M1314 591.9h0M1314.3 593.6h0M1314.6 595.4h0M1314.9 597.2h0M1315.1 598.9h0M1315.3 600.7h0M1315.5 602.5h0M1315.6 604.2h0M1315.6 606h0M1315.6 607.7h0M1315.5 609.5h0M1315.5 611.3h0M1315.5 613h0M1315.5 614.8h0M1315.7 616.6h0M1315.9 618.3h0M1316.2 620.1h0M1316.6 621.9h0M1317 623.6h0M1317.4 625.4h0M1317.8 627.1h0M1318.2 628.9h0M1318.5 630.7h0M1318.8 632.4h0M1319 634.2h0M1319.1 636h0M1319.2 637.7h0M1319.3 639.5h0M1319.4 641.2h0M1319.6 643h0M1319.8 644.8h0M1320.2 646.5h0M1320.5 648.3h0M1321 650.1h0M1321.4 651.8h0M1321.9 653.6h0M1322.3 655.4h0M1322.6 657.1h0M1322.9 658.9h0M1323.1 660.6h0M1323.2 662.4h0M1323.2 664.2h0M1323.2 665.9h0M1323.2 667.7h0M1323.1 669.5h0M1323.1 671.2h0M1323.2 673h0M1323.4 674.8h0M1323.6 676.5h0M1323.8 678.3h0M1324.1 680h0M1324.4 681.8h0M1324.7 683.6h0M1324.9 685.3h0M1325.1 687.1h0M1325.2 688.9h0M1325.2 690.6h0M1325.2 692.4h0M1325.2 694.2h0M1325.1 695.9h0M1325.1 697.7h0M1325.2 699.4h0M1325.3 701.2h0M1325.5 703h0M1325.9 704.7h0M1326.2 706.5h0M1326.7 708.3h0M1327.2 710h0M1327.6 711.8h0M1328 713.6h0M1328.4 715.3h0M1328.7 717.1h0M1328.9 718.8h0M1329.1 720.6h0M1329.2 722.4h0M1329.4 724.1h0M1329.5 725.9h0M1329.7 727.7h0M1330 729.4h0M1330.3 731.2h0M1330.7 733h0M1331.1 734.7h0M1331.6 736.5h0M1332.1 738.2h0M1332.5 740h0M1332.9 741.8h0M1333.2 743.5h0M1333.4 745.3h0M1333.6 747.1h0M1333.6 748.8h0M1333.6 750.6h0M1333.6 752.4h0M1333.6 754.1h0M1333.6 755.9h0M1333.7 757.6h0M1333.9 759.4h0M1334.1 761.2h0M1334.3 762.9h0M1334.6 764.7h0M1335 766.5h0M1335.3 768.2h0M1335.6 770h0M1335.8 771.8h0M1335.9 773.5h0M1336 775.3h0M1336 777h0M1336 778.8h0M1336 780.6h0M1336 782.3h0M1336 784.1h0M1336.2 785.9h0M1336.4 787.6h0M1336.7 789.4h0M1337.1 791.2h0M1337.5 792.9h0M1338 794.7h0M1338.5 796.4h0M1338.9 798.2h0M1339.3 800h0M1339.6 801.7h0M1339.8 803.5h0M1108 20.5h0M1108.3 22.2h0M1108.4 24h0M1108.5 25.8h0M1108.5 27.5h0M1108.4 29.3h0M1108.3 31.1h0M1108.5 32.8h0M1108.8 34.6h0M1109.2 36.4h0M1109.5 38.1h0M1110 39.9h0M1110.4 41.6h0M1110.6 43.4h0M1110.9 45.2h0M1111.1 46.9h0M1111.3 48.7h0M1111.5 50.5h0M1112.2 52.2h0M1113.1 54h0M1113.9 55.8h0M1114.6 57.5h0M1115.2 59.3h0M1115.7 61h0M1115.8 62.8h0M1115.9 64.6h0M1116.1 66.3h0M1116.3 68.1h0M1116.4 69.9h0M1116.7 71.6h0M1117.1 73.4h0M1117.6 75.1h0M1118 76.9h0M1118.4 78.7h0M1119.2 80.4h0M1120.3 82.2h0M1121.5 84h0M1122.6 85.7h0M1123.7 87.5h0M1125.2 89.3h0M1128.1 91h0M1131 92.8h0M1134 94.5h0M1137.1 96.3h0M1140.3 98.1h0M1142.1 99.8h0M1143.7 101.6h0M1145.4 103.4h0M1147 105.1h0M1148.6 106.9h0M1150.2 108.7h0M1151.7 110.4h0M1153.1 112.2h0M1154.5 113.9h0M1155.8 115.7h0M1157.1 117.5h0M1158.4 119.2h0M1160.1 121h0M1162 122.8h0M1163.9 124.5h0M1165.9 126.3h0M1167.9 128.1h0M1169.9 129.8h0M1171.8 131.6h0M1173.7 133.3h0M1175.5 135.1h0M1177.3 136.9h0M1179 138.6h0M1180.6 140.4h0M1182.1 142.2h0M1183.6 143.9h0M1184.9 145.7h0M1186 147.5h0M1187.1 149.2h0M1188.3 151h0M1189.6 152.7h0M1190.9 154.5h0M1192.3 156.3h0M1193.8 158h0M1195.3 159.8h0M1196.8 161.6h0M1198.3 163.3h0M1199.3 165.1h0M1200.2 166.9h0M1200.9 168.6h0M1201.6 170.4h0M1202.3 172.1h0M1202.9 173.9h0M1203.6 175.7h0M1204.3 177.4h0M1205.1 179.2h0M1206 181h0M1207.3 182.7h0M1208.7 184.5h0M1210.1 186.3h0M1211.5 188h0M1213 189.8h0M1214.4 191.5h0M1215.7 193.3h0M1217 195.1h0M1218.2 196.8h0M1219.3 198.6h0M1220.3 200.4h0M1221.4 202.1h0M1222.3 203.9h0M1223.2 205.7h0M1224.2 207.4h0M1225.2 209.2h0M1226.3 210.9h0M1227.4 212.7h0M1228.6 214.5h0M1229.8 216.2h0M1230.8 218h0M1231.8 219.8h0M1232.7 221.5h0M1233.5 223.3h0M1234.2 225.1h0M1234.9 226.8h0M1235.5 228.6h0M1236.1 230.3h0M1236.7 232.1h0M1237.3 233.9h0M1238 235.6h0M1238.8 237.4h0M1239.6 239.2h0M1240.5 240.9h0M1241.5 242.7h0M1242.3 244.5h0M1243.1 246.2h0M1243.9 248h0M1244.7 249.7h0M1245.4 251.5h0M1246.1 253.3h0M1246.6 255h0M1247 256.8h0M1247.4 258.6h0M1247.8 260.3h0M1248.3 262.1h0M1248.8 263.8h0M1249.8 265.6h0M1251 267.4h0M1252.2 269.1h0M1253.5 270.9h0M1254.8 272.7h0M1255.9 274.4h0M1256.6 276.2h0M1257.3 278h0M1257.9 279.7h0M1258.4 281.5h0M1258.8 283.2h0M1259.2 285h0M1259.7 286.8h0M1260.1 288.5h0M1260.5 290.3h0M1261 292.1h0M1261.6 293.8h0M1262.2 295.6h0M1262.8 297.4h0M1263.5 299.1h0M1264.2 300.9h0M1264.9 302.6h0M1265.6 304.4h0M1266.2 306.2h0M1266.7 307.9h0M1267.1 309.7h0M1267.5 311.5h0M1267.8 313.2h0M1268 315h0M1268.3 316.8h0M1268.6 318.5h0M1268.9 320.3h0M1269.3 322h0M1269.8 323.8h0M1270.4 325.6h0M1271 327.3h0M1271.7 329.1h0M1272.3 330.9h0M1273 332.6h0M1273.6 334.4h0M1274.1 336.2h0M1274.6 337.9h0M1275 339.7h0M1275.4 341.4h0M1275.7 343.2h0M1276.1 345h0M1276.5 346.7h0M1277 348.5h0M1277.5 350.3h0M1278.1 352h0M1278.8 353.8h0M1279.6 355.6h0M1280.4 357.3h0M1281.2 359.1h0M1282 360.8h0M1282.7 362.6h0M1283.4 364.4h0M1284 366.1h0M1284.5 367.9h0M1284.9 369.7h0M1285.3 371.4h0M1285.7 373.2h0M1286.2 375h0M1286.6 376.7h0M1287.1 378.5h0M1287.7 380.2h0M1288.4 382h0M1289 383.8h0M1289.7 385.5h0M1290.4 387.3h0M1291 389.1h0M1291.4 390.8h0M1291.7 392.6h0M1291.9 394.4h0M1292 396.1h0M1292.1 397.9h0M1292.1 399.6h0M1292.1 401.4h0M1292.1 403.2h0M1292.2 404.9h0M1292.4 406.7h0M1292.6 408.5h0M1292.9 410.2h0M1293.3 412h0M1293.7 413.8h0M1294.1 415.5h0M1294.4 417.3h0M1294.8 419h0M1295.1 420.8h0M1295.3 422.6h0M1295.5 424.3h0M1295.6 426.1h0M1295.7 427.9h0M1295.8 429.6h0M1296 431.4h0M1296.2 433.2h0M1296.5 434.9h0M1296.9 436.7h0M1297.4 438.4h0M1297.9 440.2h0M1298.5 442h0M1299 443.7h0M1299.6 445.5h0M1300.1 447.3h0M1300.5 449h0M1300.9 450.8h0M1301.2 452.5h0M1301.4 454.3h0M1301.5 456.1h0M1301.6 457.8h0M1301.6 459.6h0M1301.7 461.4h0M1301.9 463.1h0M1302.1 464.9h0M1302.4 466.7h0M1302.7 468.4h0M1303.1 470.2h0M1303.4 471.9h0M1303.7 473.7h0M1304 475.5h0M1304.2 477.2h0M1304.3 479h0M1304.3 480.8h0M1304.2 482.5h0M1304.1 484.3h0M1304 486.1h0M1303.9 487.8h0M1303.9 489.6h0M1303.9 491.3h0M1304 493.1h0M1304.2 494.9h0M1304.4 496.6h0M1304.7 498.4h0M1305 500.2h0M1305.2 501.9h0M1305.5 503.7h0M1305.7 505.5h0M1305.8 507.2h0M1305.9 509h0M1305.9 510.7h0M1305.9 512.5h0M1305.8 514.3h0M1305.9 516h0M1305.9 517.8h0M1306.1 519.6h0M1306.3 521.3h0M1306.7 523.1h0M1307.1 524.9h0M1307.5 526.6h0M1308 528.4h0M1308.4 530.1h0M1308.8 531.9h0M1309.2 533.7h0M1309.4 535.4h0M1309.6 537.2h0M1309.8 539h0M1309.8 540.7h0M1309.9 542.5h0M1310 544.3h0M1310.2 546h0M1310.3 547.8h0M1310.6 549.5h0M1310.9 551.3h0M1311.3 553.1h0M1311.7 554.8h0M1312 556.6h0M1312.4 558.4h0M1312.7 560.1h0M1312.9 561.9h0M1313.1 563.7h0M1313.1 565.4h0M1313.1 567.2h0M1313 568.9h0M1312.9 570.7h0M1312.9 572.5h0M1312.8 574.2h0M1312.8 576h0M1312.9 577.8h0M1313.1 579.5h0M1313.3 581.3h0M1313.6 583.1h0M1313.9 584.8h0M1314.2 586.6h0M1314.5 588.3h0M1314.7 590.1h0M1314.8 591.9h0M1314.9 593.6h0M1314.9 595.4h0M1315 597.2h0M1315 598.9h0M1315 600.7h0M1315.1 602.5h0M1315.2 604.2h0M1315.5 606h0M1315.8 607.7h0M1316.2 609.5h0M1316.6 611.3h0M1317.1 613h0M1317.6 614.8h0M1318 616.6h0M1318.3 618.3h0M1318.6 620.1h0M1318.8 621.9h0M1319 623.6h0M1319.1 625.4h0M1319.2 627.1h0M1319.3 628.9h0M1319.4 630.7h0M1319.6 632.4h0M1319.8 634.2h0M1320.1 636h0M1320.5 637.7h0M1320.8 639.5h0M1321.2 641.2h0M1321.6 643h0M1321.9 644.8h0M1322.2 646.5h0M1322.4 648.3h0M1322.4 650.1h0M1322.5 651.8h0M1322.4 653.6h0M1322.3 655.4h0M1322.3 657.1h0M1322.2 658.9h0M1322.3 660.6h0M1322.4 662.4h0M1322.5 664.2h0M1322.8 665.9h0M1323.1 667.7h0M1323.4 669.5h0M1323.7 671.2h0M1323.9 673h0M1324.2 674.8h0M1324.3 676.5h0M1324.4 678.3h0M1324.5 680h0M1324.5 681.8h0M1324.5 683.6h0M1324.5 685.3h0M1324.6 687.1h0M1324.7 688.9h0M1325 690.6h0M1325.3 692.4h0M1325.7 694.2h0M1326.1 695.9h0M1326.6 697.7h0M1327.1 699.4h0M1327.5 701.2h0M1327.9 703h0M1328.3 704.7h0M1328.5 706.5h0M1328.7 708.3h0M1328.9 710h0M1329 711.8h0M1329.1 713.6h0M1329.3 715.3h0M1329.5 717.1h0M1329.8 718.8h0M1330.1 720.6h0M1330.5 722.4h0M1330.9 724.1h0M1331.3 725.9h0M1331.8 727.7h0M1332.1 729.4h0M1332.4 731.2h0M1332.6 733h0M1332.8 734.7h0M1332.8 736.5h0M1332.8 738.2h0M1332.7 740h0M1332.7 741.8h0M1332.7 743.5h0M1332.7 745.3h0M1332.8 747.1h0M1333 748.8h0M1333.2 750.6h0M1333.5 752.4h0M1333.8 754.1h0M1334.1 755.9h0M1334.4 757.6h0M1334.7 759.4h0M1334.8 761.2h0M1334.9 762.9h0M1335 764.7h0M1335 766.5h0M1335.1 768.2h0M1335.1 770h0M1335.2 771.8h0M1335.3 773.5h0M1335.6 775.3h0M1335.9 777h0M1336.3 778.8h0M1336.8 780.6h0M1337.3 782.3h0M1337.8 784.1h0M1338.3 785.9h0M1338.7 787.6h0M1339.1 789.4h0M1339.3 791.2h0M1339.6 792.9h0M1339.7 794.7h0M1339.9 796.4h0M1340 798.2h0M1340.2 800h0M1340.4 801.7h0M1340.7 803.5h0M1106 20.5h0M1105.8 22.2h0M1105.7 24h0M1105.5 25.8h0M1105.5 27.5h0M1105.5 29.3h0M1105.5 31.1h0M1106 32.8h0M1106.6 34.6h0M1107.1 36.4h0M1107.6 38.1h0M1108 39.9h0M1108.3 41.6h0M1108.2 43.4h0M1108.1 45.2h0M1108 46.9h0M1107.8 48.7h0M1107.6 50.5h0M1108.2 52.2h0M1108.9 54h0M1109.8 55.8h0M1110.8 57.5h0M1111.8 59.3h0M1112.7 61h0M1113.3 62.8h0M1113.8 64.6h0M1114.3 66.3h0M1114.7 68.1h0M1114.9 69.9h0M1115.2 71.6h0M1115.5 73.4h0M1115.7 75.1h0M1116 76.9h0M1116.2 78.7h0M1117.2 80.4h0M1118.4 82.2h0M1119.7 84h0M1121.1 85.7h0M1122.6 87.5h0M1125.5 89.3h0M1128.9 91h0M1132.3 92.8h0M1135.6 94.5h0M1138.9 96.3h0M1140.7 98.1h0M1142 99.8h0M1143.2 101.6h0M1144.3 103.4h0M1145.4 105.1h0M1146.4 106.9h0M1147.5 108.7h0M1148.7 110.4h0M1150 112.2h0M1151.3 113.9h0M1152.6 115.7h0M1154 117.5h0M1155.6 119.2h0M1157.6 121h0M1159.6 122.8h0M1161.5 124.5h0M1163.4 126.3h0M1165.2 128.1h0M1166.8 129.8h0M1168.3 131.6h0M1169.8 133.3h0M1171.3 135.1h0M1172.9 136.9h0M1174.4 138.6h0M1176.1 140.4h0M1177.9 142.2h0M1179.7 143.9h0M1181.4 145.7h0M1183 147.5h0M1184.6 149.2h0M1186.1 151h0M1187.6 152.7h0M1189.1 154.5h0M1190.5 156.3h0M1191.8 158h0M1193.1 159.8h0M1194.3 161.6h0M1195.6 163.3h0M1196.6 165.1h0M1197.4 166.9h0M1198.2 168.6h0M1199.2 170.4h0M1200.2 172.1h0M1201.3 173.9h0M1202.5 175.7h0M1203.6 177.4h0M1204.6 179.2h0M1205.7 181h0M1206.9 182.7h0M1208.1 184.5h0M1209.2 186.3h0M1210.3 188h0M1211.3 189.8h0M1212.3 191.5h0M1213.3 193.3h0M1214.3 195.1h0M1215.4 196.8h0M1216.6 198.6h0M1217.8 200.4h0M1219.1 202.1h0M1220.2 203.9h0M1221.4 205.7h0M1222.5 207.4h0M1223.6 209.2h0M1224.6 210.9h0M1225.5 212.7h0M1226.3 214.5h0M1227.1 216.2h0M1227.6 218h0M1228.2 219.8h0M1228.8 221.5h0M1229.5 223.3h0M1230.2 225.1h0M1231 226.8h0M1231.9 228.6h0M1232.9 230.3h0M1233.9 232.1h0M1234.9 233.9h0M1235.9 235.6h0M1236.9 237.4h0M1237.8 239.2h0M1238.7 240.9h0M1239.5 242.7h0M1240.1 244.5h0M1240.6 246.2h0M1241.2 248h0M1241.8 249.7h0M1242.4 251.5h0M1243.2 253.3h0M1243.9 255h0M1244.7 256.8h0M1245.4 258.6h0M1246.3 260.3h0M1247.1 262.1h0M1247.9 263.8h0M1249.1 265.6h0M1250.2 267.4h0M1251.2 269.1h0M1252.2 270.9h0M1253.1 272.7h0M1253.7 274.4h0M1254 276.2h0M1254.3 278h0M1254.7 279.7h0M1255.1 281.5h0M1255.5 283.2h0M1256.1 285h0M1256.7 286.8h0M1257.4 288.5h0M1258.1 290.3h0M1258.7 292.1h0M1259.3 293.8h0M1259.8 295.6h0M1260.3 297.4h0M1260.6 299.1h0M1260.9 300.9h0M1261.2 302.6h0M1261.4 304.4h0M1261.7 306.2h0M1262.1 307.9h0M1262.5 309.7h0M1263 311.5h0M1263.5 313.2h0M1264.2 315h0M1264.9 316.8h0M1265.6 318.5h0M1266.3 320.3h0M1267 322h0M1267.6 323.8h0M1268.1 325.6h0M1268.6 327.3h0M1269.1 329.1h0M1269.5 330.9h0M1269.9 332.6h0M1270.4 334.4h0M1270.9 336.2h0M1271.5 337.9h0M1272.1 339.7h0M1272.8 341.4h0M1273.6 343.2h0M1274.4 345h0M1275.2 346.7h0M1276 348.5h0M1276.7 350.3h0M1277.4 352h0M1278 353.8h0M1278.5 355.6h0M1279 357.3h0M1279.4 359.1h0M1279.7 360.8h0M1280.1 362.6h0M1280.5 364.4h0M1280.9 366.1h0M1281.4 367.9h0M1282 369.7h0M1282.6 371.4h0M1283.3 373.2h0M1284 375h0M1284.7 376.7h0M1285.3 378.5h0M1285.9 380.2h0M1286.4 382h0M1286.8 383.8h0M1287.1 385.5h0M1287.4 387.3h0M1287.6 389.1h0M1287.7 390.8h0M1287.8 392.6h0M1288 394.4h0M1288.3 396.1h0M1288.7 397.9h0M1289.1 399.6h0M1289.6 401.4h0M1290.1 403.2h0M1290.6 404.9h0M1291.1 406.7h0M1291.5 408.5h0M1291.9 410.2h0M1292.2 412h0M1292.4 413.8h0M1292.6 415.5h0M1292.7 417.3h0M1292.9 419h0M1293.2 420.8h0M1293.5 422.6h0M1293.9 424.3h0M1294.4 426.1h0M1295 427.9h0M1295.6 429.6h0M1296.2 431.4h0M1296.8 433.2h0M1297.4 434.9h0M1297.8 436.7h0M1298.3 438.4h0M1298.6 440.2h0M1298.8 442h0M1299 443.7h0M1299.2 445.5h0M1299.4 447.3h0M1299.6 449h0M1299.8 450.8h0M1300.1 452.5h0M1300.5 454.3h0M1300.8 456.1h0M1301.1 457.8h0M1301.5 459.6h0M1301.8 461.4h0M1302 463.1h0M1302.2 464.9h0M1302.4 466.7h0M1302.4 468.4h0M1302.3 470.2h0M1302.3 471.9h0M1302.1 473.7h0M1302 475.5h0M1302 477.2h0M1302 479h0M1302 480.8h0M1302.2 482.5h0M1302.4 484.3h0M1302.7 486.1h0M1303 487.8h0M1303.4 489.6h0M1303.7 491.3h0M1303.9 493.1h0M1304.1 494.9h0M1304.2 496.6h0M1304.3 498.4h0M1304.4 500.2h0M1304.4 501.9h0M1304.4 503.7h0M1304.5 505.5h0M1304.7 507.2h0M1305 509h0M1305.3 510.7h0M1305.7 512.5h0M1306.1 514.3h0M1306.6 516h0M1307.1 517.8h0M1307.5 519.6h0M1307.8 521.3h0M1308.1 523.1h0M1308.3 524.9h0M1308.5 526.6h0M1308.5 528.4h0M1308.6 530.1h0M1308.6 531.9h0M1308.7 533.7h0M1308.8 535.4h0M1308.9 537.2h0M1309.1 539h0M1309.4 540.7h0M1309.8 542.5h0M1310.1 544.3h0M1310.4 546h0M1310.7 547.8h0M1310.9 549.5h0M1311.1 551.3h0M1311.1 553.1h0M1311.1 554.8h0M1311 556.6h0M1310.9 558.4h0M1310.8 560.1h0M1310.8 561.9h0M1310.8 563.7h0M1310.9 565.4h0M1311 567.2h0M1311.2 568.9h0M1311.5 570.7h0M1311.9 572.5h0M1312.2 574.2h0M1312.5 576h0M1312.8 577.8h0M1313 579.5h0M1313.1 581.3h0M1313.2 583.1h0M1313.3 584.8h0M1313.3 586.6h0M1313.4 588.3h0M1313.5 590.1h0M1313.7 591.9h0M1313.9 593.6h0M1314.2 595.4h0M1314.6 597.2h0M1315.1 598.9h0M1315.6 600.7h0M1316.1 602.5h0M1316.5 604.2h0M1316.9 606h0M1317.3 607.7h0M1317.5 609.5h0M1317.6 611.3h0M1317.7 613h0M1317.8 614.8h0M1317.8 616.6h0M1317.9 618.3h0M1318 620.1h0M1318.2 621.9h0M1318.4 623.6h0M1318.7 625.4h0M1319.1 627.1h0M1319.4 628.9h0M1319.7 630.7h0M1320 632.4h0M1320.2 634.2h0M1320.4 636h0M1320.4 637.7h0M1320.4 639.5h0M1320.4 641.2h0M1320.3 643h0M1320.2 644.8h0M1320.1 646.5h0M1320.1 648.3h0M1320.2 650.1h0M1320.3 651.8h0M1320.6 653.6h0M1320.9 655.4h0M1321.2 657.1h0M1321.5 658.9h0M1321.9 660.6h0M1322.1 662.4h0M1322.4 664.2h0M1322.5 665.9h0M1322.6 667.7h0M1322.7 669.5h0M1322.7 671.2h0M1322.8 673h0M1322.9 674.8h0M1323 676.5h0M1323.3 678.3h0M1323.6 680h0M1324 681.8h0M1324.5 683.6h0M1325 685.3h0M1325.5 687.1h0M1325.9 688.9h0M1326.4 690.6h0M1326.7 692.4h0M1327 694.2h0M1327.2 695.9h0M1327.3 697.7h0M1327.4 699.4h0M1327.5 701.2h0M1327.6 703h0M1327.7 704.7h0M1327.9 706.5h0M1328.2 708.3h0M1328.5 710h0M1328.9 711.8h0M1329.3 713.6h0M1329.7 715.3h0M1330 717.1h0M1330.3 718.8h0M1330.5 720.6h0M1330.6 722.4h0M1330.7 724.1h0M1330.6 725.9h0M1330.6 727.7h0M1330.5 729.4h0M1330.4 731.2h0M1330.4 733h0M1330.5 734.7h0M1330.7 736.5h0M1330.9 738.2h0M1331.2 740h0M1331.5 741.8h0M1331.9 743.5h0M1332.2 745.3h0M1332.5 747.1h0M1332.7 748.8h0M1332.9 750.6h0M1333 752.4h0M1333.1 754.1h0M1333.1 755.9h0M1333.2 757.6h0M1333.3 759.4h0M1333.5 761.2h0M1333.7 762.9h0M1334 764.7h0M1334.4 766.5h0M1334.9 768.2h0M1335.4 770h0M1335.9 771.8h0M1336.5 773.5h0M1336.9 775.3h0M1337.3 777h0M1337.6 778.8h0M1337.9 780.6h0M1338 782.3h0M1338.2 784.1h0M1338.3 785.9h0M1338.4 787.6h0M1338.6 789.4h0M1338.8 791.2h0M1339.1 792.9h0M1339.4 794.7h0M1339.8 796.4h0M1340.2 798.2h0M1340.6 800h0M1341 801.7h0M1341.3 803.5h0M1104.1 20.5h0M1104.2 22.2h0M1104.3 24h0M1104.4 25.8h0M1104.4 27.5h0M1104.3 29.3h0M1104.2 31.1h0M1104.4 32.8h0M1104.6 34.6h0M1104.8 36.4h0M1105 38.1h0M1105.3 39.9h0M1105.4 41.6h0M1105.5 43.4h0M1105.6 45.2h0M1105.8 46.9h0M1106.1 48.7h0M1106.4 50.5h0M1107.4 52.2h0M1108.6 54h0M1109.7 55.8h0M1110.8 57.5h0M1111.8 59.3h0M1112.6 61h0M1112.9 62.8h0M1113.1 64.6h0M1113.4 66.3h0M1113.6 68.1h0M1113.8 69.9h0M1114.2 71.6h0M1114.8 73.4h0M1115.4 75.1h0M1116.1 76.9h0M1117.2 78.7h0M1118.9 80.4h0M1120.5 82.2h0M1122.1 84h0M1123.6 85.7h0M1127 87.5h0M1130.3 89.3h0M1133.6 91h0M1136.8 92.8h0M1139.1 94.5h0M1140.2 96.3h0M1141.4 98.1h0M1142.2 99.8h0M1143.2 101.6h0M1144.1 103.4h0M1145.2 105.1h0M1146.3 106.9h0M1147.4 108.7h0M1148.5 110.4h0M1149.5 112.2h0M1150.5 113.9h0M1151.4 115.7h0M1152.2 117.5h0M1153.5 119.2h0M1155.1 121h0M1156.8 122.8h0M1158.5 124.5h0M1160.3 126.3h0M1162.1 128.1h0M1164 129.8h0M1165.8 131.6h0M1167.8 133.3h0M1169.8 135.1h0M1171.8 136.9h0M1173.8 138.6h0M1175.7 140.4h0M1177.6 142.2h0M1179.5 143.9h0M1181.1 145.7h0M1182.4 147.5h0M1183.7 149.2h0M1185 151h0M1186.4 152.7h0M1187.7 154.5h0M1189.1 156.3h0M1190.6 158h0M1192.2 159.8h0M1193.8 161.6h0M1195.5 163.3h0M1196.8 165.1h0M1197.8 166.9h0M1198.8 168.6h0M1199.8 170.4h0M1200.6 172.1h0M1201.4 173.9h0M1202.1 175.7h0M1202.7 177.4h0M1203.3 179.2h0M1204 181h0M1204.9 182.7h0M1206 184.5h0M1207.1 186.3h0M1208.2 188h0M1209.5 189.8h0M1210.7 191.5h0M1212 193.3h0M1213.3 195.1h0M1214.5 196.8h0M1215.6 198.6h0M1216.7 200.4h0M1217.7 202.1h0M1218.5 203.9h0M1219.3 205.7h0M1220.1 207.4h0M1220.9 209.2h0M1221.7 210.9h0M1222.7 212.7h0M1223.7 214.5h0M1224.7 216.2h0M1225.7 218h0M1226.8 219.8h0M1227.8 221.5h0M1228.9 223.3h0M1229.9 225.1h0M1230.9 226.8h0M1231.8 228.6h0M1232.7 230.3h0M1233.5 232.1h0M1234.2 233.9h0M1235 235.6h0M1235.7 237.4h0M1236.5 239.2h0M1237.4 240.9h0M1238.3 242.7h0M1239.2 244.5h0M1240.1 246.2h0M1241 248h0M1241.9 249.7h0M1242.9 251.5h0M1243.7 253.3h0M1244.5 255h0M1245 256.8h0M1245.5 258.6h0M1245.9 260.3h0M1246.3 262.1h0M1246.6 263.8h0M1247.3 265.6h0M1248.1 267.4h0M1248.9 269.1h0M1249.9 270.9h0M1250.8 272.7h0M1251.6 274.4h0M1252.2 276.2h0M1252.8 278h0M1253.3 279.7h0M1253.9 281.5h0M1254.3 283.2h0M1254.7 285h0M1255.1 286.8h0M1255.4 288.5h0M1255.7 290.3h0M1256 292.1h0M1256.3 293.8h0M1256.6 295.6h0M1257 297.4h0M1257.5 299.1h0M1258.1 300.9h0M1258.8 302.6h0M1259.5 304.4h0M1260.3 306.2h0M1261 307.9h0M1261.8 309.7h0M1262.5 311.5h0M1263.1 313.2h0M1263.6 315h0M1264.2 316.8h0M1264.6 318.5h0M1265.1 320.3h0M1265.5 322h0M1266 323.8h0M1266.6 325.6h0M1267.2 327.3h0M1268 329.1h0M1268.7 330.9h0M1269.6 332.6h0M1270.4 334.4h0M1271.2 336.2h0M1272 337.9h0M1272.6 339.7h0M1273.2 341.4h0M1273.7 343.2h0M1274.2 345h0M1274.5 346.7h0M1274.8 348.5h0M1275.2 350.3h0M1275.5 352h0M1275.9 353.8h0M1276.3 355.6h0M1276.9 357.3h0M1277.4 359.1h0M1278 360.8h0M1278.7 362.6h0M1279.3 364.4h0M1279.9 366.1h0M1280.4 367.9h0M1280.8 369.7h0M1281.2 371.4h0M1281.5 373.2h0M1281.9 375h0M1282.2 376.7h0M1282.5 378.5h0M1282.9 380.2h0M1283.3 382h0M1283.9 383.8h0M1284.5 385.5h0M1285.2 387.3h0M1285.9 389.1h0M1286.5 390.8h0M1287 392.6h0M1287.6 394.4h0M1288.1 396.1h0M1288.6 397.9h0M1289 399.6h0M1289.3 401.4h0M1289.6 403.2h0M1289.9 404.9h0M1290.2 406.7h0M1290.5 408.5h0M1290.9 410.2h0M1291.3 412h0M1291.8 413.8h0M1292.4 415.5h0M1293 417.3h0M1293.6 419h0M1294.2 420.8h0M1294.7 422.6h0M1295.2 424.3h0M1295.7 426.1h0M1296 427.9h0M1296.3 429.6h0M1296.4 431.4h0M1296.6 433.2h0M1296.7 434.9h0M1296.9 436.7h0M1297.1 438.4h0M1297.3 440.2h0M1297.7 442h0M1298 443.7h0M1298.5 445.5h0M1298.9 447.3h0M1299.3 449h0M1299.7 450.8h0M1300.1 452.5h0M1300.3 454.3h0M1300.4 456.1h0M1300.4 457.8h0M1300.4 459.6h0M1300.3 461.4h0M1300.2 463.1h0M1300.2 464.9h0M1300.2 466.7h0M1300.3 468.4h0M1300.5 470.2h0M1300.8 471.9h0M1301.1 473.7h0M1301.4 475.5h0M1301.8 477.2h0M1302.2 479h0M1302.5 480.8h0M1302.7 482.5h0M1302.9 484.3h0M1303.1 486.1h0M1303.2 487.8h0M1303.2 489.6h0M1303.3 491.3h0M1303.4 493.1h0M1303.6 494.9h0M1303.8 496.6h0M1304.1 498.4h0M1304.5 500.2h0M1304.9 501.9h0M1305.4 503.7h0M1305.9 505.5h0M1306.3 507.2h0M1306.7 509h0M1307 510.7h0M1307.2 512.5h0M1307.3 514.3h0M1307.3 516h0M1307.3 517.8h0M1307.3 519.6h0M1307.3 521.3h0M1307.3 523.1h0M1307.4 524.9h0M1307.6 526.6h0M1307.8 528.4h0M1308.1 530.1h0M1308.4 531.9h0M1308.6 533.7h0M1308.9 535.4h0M1309.1 537.2h0M1309.2 539h0M1309.3 540.7h0M1309.3 542.5h0M1309.2 544.3h0M1309.1 546h0M1309 547.8h0M1309 549.5h0M1309 551.3h0M1309 553.1h0M1309.2 554.8h0M1309.4 556.6h0M1309.7 558.4h0M1310.1 560.1h0M1310.5 561.9h0M1310.8 563.7h0M1311.2 565.4h0M1311.5 567.2h0M1311.7 568.9h0M1311.8 570.7h0M1311.9 572.5h0M1312 574.2h0M1312.1 576h0M1312.2 577.8h0M1312.4 579.5h0M1312.6 581.3h0M1312.9 583.1h0M1313.3 584.8h0M1313.8 586.6h0M1314.3 588.3h0M1314.7 590.1h0M1315.2 591.9h0M1315.6 593.6h0M1315.9 595.4h0M1316.2 597.2h0M1316.3 598.9h0M1316.4 600.7h0M1316.5 602.5h0M1316.5 604.2h0M1316.5 606h0M1316.6 607.7h0M1316.7 609.5h0M1316.9 611.3h0M1317.1 613h0M1317.4 614.8h0M1317.7 616.6h0M1318 618.3h0M1318.2 620.1h0M1318.4 621.9h0M1318.6 623.6h0M1318.7 625.4h0M1318.7 627.1h0M1318.6 628.9h0M1318.5 630.7h0M1318.4 632.4h0M1318.3 634.2h0M1318.3 636h0M1318.3 637.7h0M1318.5 639.5h0M1318.7 641.2h0M1319 643h0M1319.3 644.8h0M1319.7 646.5h0M1320.1 648.3h0M1320.4 650.1h0M1320.7 651.8h0M1320.9 653.6h0M1321.1 655.4h0M1321.2 657.1h0M1321.3 658.9h0M1321.4 660.6h0M1321.5 662.4h0M1321.7 664.2h0M1321.9 665.9h0M1322.2 667.7h0M1322.6 669.5h0M1323.1 671.2h0M1323.6 673h0M1324.1 674.8h0M1324.5 676.5h0M1325 678.3h0M1325.3 680h0M1325.6 681.8h0M1325.8 683.6h0M1325.9 685.3h0M1326 687.1h0M1326 688.9h0M1326.1 690.6h0M1326.2 692.4h0M1326.3 694.2h0M1326.5 695.9h0M1326.7 697.7h0M1327 699.4h0M1327.4 701.2h0M1327.7 703h0M1328 704.7h0M1328.3 706.5h0M1328.5 708.3h0M1328.6 710h0M1328.6 711.8h0M1328.6 713.6h0M1328.6 715.3h0M1328.5 717.1h0M1328.4 718.8h0M1328.4 720.6h0M1328.5 722.4h0M1328.6 724.1h0M1328.9 725.9h0M1329.2 727.7h0M1329.5 729.4h0M1329.9 731.2h0M1330.3 733h0M1330.6 734.7h0M1330.9 736.5h0M1331.2 738.2h0M1331.4 740h0M1331.5 741.8h0M1331.6 743.5h0M1331.7 745.3h0M1331.8 747.1h0M1332 748.8h0M1332.2 750.6h0M1332.5 752.4h0M1332.9 754.1h0M1333.4 755.9h0M1333.9 757.6h0M1334.4 759.4h0M1334.9 761.2h0M1335.3 762.9h0M1335.7 764.7h0M1336.1 766.5h0M1336.3 768.2h0M1336.5 770h0M1336.6 771.8h0M1336.7 773.5h0M1336.7 775.3h0M1336.9 777h0M1337 778.8h0M1337.2 780.6h0M1337.5 782.3h0M1337.8 784.1h0M1338.2 785.9h0M1338.6 787.6h0M1338.9 789.4h0M1339.2 791.2h0M1339.4 792.9h0M1339.6 794.7h0M1339.7 796.4h0M1339.7 798.2h0M1339.6 800h0M1339.6 801.7h0M1339.5 803.5h0M1106.1 20.5h0M1105.9 22.2h0M1105.7 24h0M1105.5 25.8h0M1105.3 27.5h0M1105.2 29.3h0M1105.1 31.1h0M1105.6 32.8h0M1106.1 34.6h0M1106.8 36.4h0M1107.4 38.1h0M1108.2 39.9h0M1108.8 41.6h0M1109.1 43.4h0M1109.4 45.2h0M1109.6 46.9h0M1109.7 48.7h0M1109.8 50.5h0M1110.5 52.2h0M1111.3 54h0M1112.2 55.8h0M1113.1 57.5h0M1114 59.3h0M1114.9 61h0M1115.4 62.8h0M1115.9 64.6h0M1116.5 66.3h0M1117 68.1h0M1117.3 69.9h0M1117.6 71.6h0M1118 73.4h0M1118.3 75.1h0M1118.5 76.9h0M1118.6 78.7h0M1118.9 80.4h0M1119.7 82.2h0M1120.6 84h0M1121.5 85.7h0M1122.5 87.5h0M1123.6 89.3h0M1126.3 91h0M1129.2 92.8h0M1132.1 94.5h0M1135.1 96.3h0M1138.1 98.1h0M1140.5 99.8h0M1142 101.6h0M1143.3 103.4h0M1144.6 105.1h0M1145.8 106.9h0M1147.1 108.7h0M1148.3 110.4h0M1149.6 112.2h0M1150.9 113.9h0M1152.3 115.7h0M1153.8 117.5h0M1155.3 119.2h0M1157.4 121h0M1159.5 122.8h0M1161.7 124.5h0M1163.9 126.3h0M1166.1 128.1h0M1168.1 129.8h0M1170 131.6h0M1171.8 133.3h0M1173.5 135.1h0M1175.2 136.9h0M1176.9 138.6h0M1178.6 140.4h0M1180.3 142.2h0M1182.1 143.9h0M1183.7 145.7h0M1185.2 147.5h0M1186.8 149.2h0M1188.4 151h0M1190 152.7h0M1191.6 154.5h0M1193.1 156.3h0M1194.6 158h0M1196 159.8h0M1197.3 161.6h0M1198.5 163.3h0M1199.3 165.1h0M1199.8 166.9h0M1200.4 168.6h0M1201 170.4h0M1201.6 172.1h0M1202.3 173.9h0M1203.1 175.7h0M1203.9 177.4h0M1204.8 179.2h0M1205.7 181h0M1206.9 182.7h0M1208.1 184.5h0M1209.3 186.3h0M1210.4 188h0M1211.4 189.8h0M1212.4 191.5h0M1213.4 193.3h0M1214.3 195.1h0M1215.2 196.8h0M1216.2 198.6h0M1217.3 200.4h0M1218.4 202.1h0M1219.5 203.9h0M1220.7 205.7h0M1222 207.4h0M1223.3 209.2h0M1224.6 210.9h0M1225.8 212.7h0M1227 214.5h0M1228.2 216.2h0M1229.1 218h0M1230 219.8h0M1230.8 221.5h0M1231.6 223.3h0M1232.3 225.1h0M1233.2 226.8h0M1234 228.6h0M1234.9 230.3h0M1235.9 232.1h0M1237 233.9h0M1238.1 235.6h0M1239.2 237.4h0M1240.2 239.2h0M1241.3 240.9h0M1242.3 242.7h0M1243 244.5h0M1243.6 246.2h0M1244.2 248h0M1244.7 249.7h0M1245.1 251.5h0M1245.5 253.3h0M1245.9 255h0M1246.3 256.8h0M1246.7 258.6h0M1247.2 260.3h0M1247.8 262.1h0M1248.4 263.8h0M1249.4 265.6h0M1250.5 267.4h0M1251.6 269.1h0M1252.6 270.9h0M1253.6 272.7h0M1254.2 274.4h0M1254.5 276.2h0M1254.8 278h0M1255 279.7h0M1255.2 281.5h0M1255.5 283.2h0M1255.9 285h0M1256.4 286.8h0M1257 288.5h0M1257.7 290.3h0M1258.4 292.1h0M1259.2 293.8h0M1260 295.6h0M1260.8 297.4h0M1261.5 299.1h0M1262.2 300.9h0M1262.8 302.6h0M1263.4 304.4h0M1263.8 306.2h0M1264.3 307.9h0M1264.8 309.7h0M1265.3 311.5h0M1265.8 313.2h0M1266.4 315h0M1267.1 316.8h0M1267.8 318.5h0M1268.6 320.3h0M1269.4 322h0M1270.1 323.8h0M1270.9 325.6h0M1271.6 327.3h0M1272.2 329.1h0M1272.7 330.9h0M1273.1 332.6h0M1273.5 334.4h0M1273.8 336.2h0M1274.1 337.9h0M1274.4 339.7h0M1274.7 341.4h0M1275.1 343.2h0M1275.6 345h0M1276.1 346.7h0M1276.7 348.5h0M1277.3 350.3h0M1277.9 352h0M1278.5 353.8h0M1279 355.6h0M1279.5 357.3h0M1279.9 359.1h0M1280.2 360.8h0M1280.5 362.6h0M1280.8 364.4h0M1281.1 366.1h0M1281.4 367.9h0M1281.7 369.7h0M1282.2 371.4h0M1282.8 373.2h0M1283.4 375h0M1284.1 376.7h0M1284.9 378.5h0M1285.7 380.2h0M1286.5 382h0M1287.2 383.8h0M1287.9 385.5h0M1288.5 387.3h0M1289 389.1h0M1289.3 390.8h0M1289.5 392.6h0M1289.8 394.4h0M1290 396.1h0M1290.4 397.9h0M1290.7 399.6h0M1291.2 401.4h0M1291.7 403.2h0M1292.2 404.9h0M1292.8 406.7h0M1293.4 408.5h0M1293.9 410.2h0M1294.4 412h0M1294.8 413.8h0M1295.1 415.5h0M1295.3 417.3h0M1295.4 419h0M1295.5 420.8h0M1295.6 422.6h0M1295.7 424.3h0M1295.8 426.1h0M1295.9 427.9h0M1296.2 429.6h0M1296.5 431.4h0M1296.8 433.2h0M1297.2 434.9h0M1297.6 436.7h0M1298 438.4h0M1298.3 440.2h0M1298.6 442h0M1298.8 443.7h0M1298.9 445.5h0M1299 447.3h0M1299 449h0M1299.1 450.8h0M1299.2 452.5h0M1299.3 454.3h0M1299.4 456.1h0M1299.6 457.8h0M1299.8 459.6h0M1300.2 461.4h0M1300.6 463.1h0M1301 464.9h0M1301.4 466.7h0M1301.8 468.4h0M1302.1 470.2h0M1302.3 471.9h0M1302.5 473.7h0M1302.6 475.5h0M1302.7 477.2h0M1302.8 479h0M1302.9 480.8h0M1303.1 482.5h0M1303.3 484.3h0M1303.6 486.1h0M1303.9 487.8h0M1304.3 489.6h0M1304.8 491.3h0M1305.2 493.1h0M1305.6 494.9h0M1306 496.6h0M1306.2 498.4h0M1306.4 500.2h0M1306.5 501.9h0M1306.6 503.7h0M1306.5 505.5h0M1306.5 507.2h0M1306.4 509h0M1306.4 510.7h0M1306.5 512.5h0M1306.6 514.3h0M1306.7 516h0M1306.9 517.8h0M1307.2 519.6h0M1307.5 521.3h0M1307.7 523.1h0M1307.9 524.9h0M1308.1 526.6h0M1308.1 528.4h0M1308.2 530.1h0M1308.1 531.9h0M1308 533.7h0M1307.9 535.4h0M1307.9 537.2h0M1307.9 539h0M1307.9 540.7h0M1308.1 542.5h0M1308.3 544.3h0M1308.7 546h0M1309.1 547.8h0M1309.5 549.5h0M1309.9 551.3h0M1310.3 553.1h0M1310.6 554.8h0M1310.9 556.6h0M1311.1 558.4h0M1311.3 560.1h0M1311.4 561.9h0M1311.5 563.7h0M1311.6 565.4h0M1311.8 567.2h0M1312 568.9h0M1312.3 570.7h0M1312.6 572.5h0M1313 574.2h0M1313.5 576h0M1314 577.8h0M1314.4 579.5h0M1314.8 581.3h0M1315.1 583.1h0M1315.4 584.8h0M1315.5 586.6h0M1315.6 588.3h0M1315.6 590.1h0M1315.6 591.9h0M1315.5 593.6h0M1315.5 595.4h0M1315.6 597.2h0M1315.7 598.9h0M1315.9 600.7h0M1316.1 602.5h0M1316.4 604.2h0M1316.7 606h0M1317 607.7h0M1317.2 609.5h0M1317.4 611.3h0M1317.5 613h0M1317.5 614.8h0M1317.5 616.6h0M1317.4 618.3h0M1317.3 620.1h0M1317.2 621.9h0M1317.2 623.6h0M1317.3 625.4h0M1317.4 627.1h0M1317.6 628.9h0M1317.9 630.7h0M1318.3 632.4h0M1318.7 634.2h0M1319.1 636h0M1319.5 637.7h0M1319.8 639.5h0M1320.1 641.2h0M1320.3 643h0M1320.4 644.8h0M1320.6 646.5h0M1320.7 648.3h0M1320.8 650.1h0M1321 651.8h0M1321.2 653.6h0M1321.5 655.4h0M1321.8 657.1h0M1322.3 658.9h0M1322.7 660.6h0M1323.2 662.4h0M1323.7 664.2h0M1324.1 665.9h0M1324.5 667.7h0M1324.7 669.5h0M1324.9 671.2h0M1325 673h0M1325 674.8h0M1325 676.5h0M1325 678.3h0M1325.1 680h0M1325.1 681.8h0M1325.3 683.6h0M1325.4 685.3h0M1325.7 687.1h0M1326 688.9h0M1326.3 690.6h0M1326.6 692.4h0M1326.8 694.2h0M1327 695.9h0M1327.2 697.7h0M1327.2 699.4h0M1327.2 701.2h0M1327.2 703h0M1327.1 704.7h0M1327.1 706.5h0M1327.1 708.3h0M1327.1 710h0M1327.3 711.8h0M1327.5 713.6h0M1327.8 715.3h0M1328.2 717.1h0M1328.6 718.8h0M1329.1 720.6h0M1329.5 722.4h0M1329.9 724.1h0M1330.2 725.9h0M1330.4 727.7h0M1330.6 729.4h0M1330.7 731.2h0M1330.9 733h0M1331 734.7h0M1331.1 736.5h0M1331.4 738.2h0M1331.7 740h0M1332 741.8h0M1332.5 743.5h0M1332.9 745.3h0M1333.4 747.1h0M1333.9 748.8h0M1334.4 750.6h0M1334.8 752.4h0M1335.1 754.1h0M1335.3 755.9h0M1335.4 757.6h0M1335.5 759.4h0M1335.5 761.2h0M1335.6 762.9h0M1335.6 764.7h0M1335.7 766.5h0M1335.8 768.2h0M1336.1 770h0M1336.3 771.8h0M1336.6 773.5h0M1337 775.3h0M1337.3 777h0M1337.6 778.8h0M1337.9 780.6h0M1338 782.3h0M1338.1 784.1h0M1338.2 785.9h0M1338.1 787.6h0M1338.1 789.4h0M1338.1 791.2h0M1338.1 792.9h0M1338.1 794.7h0M1338.3 796.4h0M1338.5 798.2h0M1338.8 800h0M1339.2 801.7h0M1339.6 803.5h0" stroke="#00ffff" stroke-width="6" stroke-linecap="round" fill="none"/>
<path d="M1103.2,21.5 L1103.2,31.3 L1105.6,41.1 L1106.3,50.9 L1111.5,60.6 L1113.4,70.4 L1116.8,80.2 L1124.5,90 L1141.5,99.8 L1149.2,109.6 L1157.2,119.4 L1167.8,129.2 L1177.4,139 L1186.2,148.8 L1193.7,158.6 L1199.7,168.4 L1204.1,178.2 L1209.9,188 L1216.2,197.8 L1222.1,207.6 L1227.6,217.4 L1232.5,227.2 L1237.4,237 L1241.9,246.8 L1245.7,256.6 L1249.5,266.4 L1254.4,276.2 L1257.1,286 L1260.2,295.8 L1263.3,305.6 L1266.5,315.4 L1269.6,325.2 L1272.7,335 L1275.7,344.8 L1278.6,354.6 L1281.6,364.4 L1284.5,374.2 L1287.5,384 L1289.8,393.8 L1291.5,403.6 L1293.2,413.4 L1294.9,423.2 L1296.6,433 L1298.3,442.8 L1300,452.5 L1301.1,462.3 L1302.1,472.1 L1303.1,481.9 L1304.1,491.7 L1305.1,501.5 L1306.1,511.3 L1307,521.1 L1308,530.9 L1309,540.7 L1310.1,550.5 L1311.1,560.3 L1312.2,570.1 L1313.3,579.9 L1314.4,589.7 L1315.5,599.5 L1316.6,609.3 L1317.6,619.1 L1318.7,628.9 L1319.7,638.7 L1320.8,648.5 L1321.9,658.3 L1323.1,668.1 L1324.3,677.9 L1325.4,687.7 L1326.6,697.5 L1327.8,707.3 L1329,717.1 L1330.2,726.9 L1331.5,736.7 L1332.7,746.5 L1333.9,756.3 L1335.2,766.1 L1336.5,775.9 L1337.8,785.7 L1339.1,795.5" fill="none" stroke="#0000ff" stroke-width="2.8" stroke-linejoin="round"/>
<path d="M1103.2 21.5h0M1103.2 31.3h0M1105.6 41.1h0M1106.3 50.9h0M1111.5 60.6h0M1113.4 70.4h0M1116.8 80.2h0M1124.5 90h0M1141.5 99.8h0M1149.2 109.6h0M1157.2 119.4h0M1167.8 129.2h0M1177.4 139h0M1186.2 148.8h0M1193.7 158.6h0M1199.7 168.4h0M1204.1 178.2h0M1209.9 188h0M1216.2 197.8h0M1222.1 207.6h0M1227.6 217.4h0M1232.5 227.2h0M1237.4 237h0M1241.9 246.8h0M1245.7 256.6h0M1249.5 266.4h0M1254.4 276.2h0M1257.1 286h0M1260.2 295.8h0M1263.3 305.6h0M1266.5 315.4h0M1269.6 325.2h0M1272.7 335h0M1275.7 344.8h0M1278.6 354.6h0M1281.6 364.4h0M1284.5 374.2h0M1287.5 384h0M1289.8 393.8h0M1291.5 403.6h0M1293.2 413.4h0M1294.9 423.2h0M1296.6 433h0M1298.3 442.8h0M1300 452.5h0M1301.1 462.3h0M1302.1 472.1h0M1303.1 481.9h0M1304.1 491.7h0M1305.1 501.5h0M1306.1 511.3h0M1307 521.1h0M1308 530.9h0M1309 540.7h0M1310.1 550.5h0M1311.1 560.3h0M1312.2 570.1h0M1313.3 579.9h0M1314.4 589.7h0M1315.5 599.5h0M1316.6 609.3h0M1317.6 619.1h0M1318.7 628.9h0M1319.7 638.7h0M1320.8 648.5h0M1321.9 658.3h0M1323.1 668.1h0M1324.3 677.9h0M1325.4 687.7h0M1326.6 697.5h0M1327.8 707.3h0M1329 717.1h0M1330.2 726.9h0M1331.5 736.7h0M1332.7 746.5h0M1333.9 756.3h0M1335.2 766.1h0M1336.5 775.9h0M1337.8 785.7h0M1339.1 795.5h0" stroke="#0000ff" stroke-width="12.2" stroke-linecap="round" fill="none"/>
<path d="M1129.7,19.5 L1129.8,23.4 L1129.8,27.3 L1129.8,31.3 L1129.8,35.2 L1129.8,39.1 L1129.8,43 L1129.8,48.9 L1129.8,58.7 L1129.9,68.5 L1131.6,78.3 L1136.2,88.1 L1143.8,97.9 L1151.4,107.7 L1155.9,117.5 L1166.5,137.1 L1178.4,156.7 L1189.6,176.3 L1202,195.9 L1210.6,215.4 L1249.1,264.4 L1269.4,313.4 L1292.3,411.4 L1308.1,509.4 L1320.2,607.4 L1331.6,705.3 L1342.1,803.3" fill="none" stroke="#ff0000" stroke-width="3.0" stroke-linejoin="round"/>
<path d="M1129.7,19.5 L1129.8,23.4 L1129.9,27.3 L1130,31.3 L1130.1,35.2 L1130.2,39.1 L1130.3,43 L1130.4,48.9 L1130.6,58.7 L1130.9,68.5 L1132.8,78.3 L1137.6,88.1 L1145.4,97.9 L1153.2,107.7 L1157.9,117.5 L1171.5,137.1 L1184.4,156.7 L1196.6,176.3 L1209,195.9 L1217.6,215.4 L1250.7,264.4 L1270,313.4 L1292.9,411.4 L1308.6,509.4 L1320.6,607.4 L1332.1,705.3 L1342.5,803.3" fill="none" stroke="#ff0000" stroke-width="3.0" stroke-linejoin="round"/>
<path d="M1129.7,19.5 L1129.8,23.4 L1129.8,27.3 L1129.9,31.3 L1129.9,35.2 L1130,39.1 L1130,43 L1130.1,48.9 L1130.2,58.7 L1130.4,68.5 L1132.2,78.3 L1136.9,88.1 L1144.6,97.9 L1152.3,107.7 L1156.9,117.5 L1169,137.1 L1181.4,156.7 L1193.1,176.3 L1205.5,195.9 L1214.1,215.4 L1249.9,264.4 L1269.7,313.4 L1292.6,411.4 L1308.4,509.4 L1320.4,607.4 L1331.8,705.3 L1342.3,803.3" fill="none" stroke="#ff0000" stroke-width="3.0" stroke-linejoin="round"/>
<path d="M1129.7 19.5h0M1129.8 23.4h0M1129.8 27.3h0M1129.9 31.3h0M1129.9 35.2h0M1130 39.1h0M1130 43h0M1130.1 48.9h0M1130.2 58.7h0M1130.4 68.5h0M1132.2 78.3h0M1136.9 88.1h0M1144.6 97.9h0M1152.3 107.7h0M1156.9 117.5h0M1169 137.1h0M1181.4 156.7h0M1193.1 176.3h0M1205.5 195.9h0M1214.1 215.4h0M1249.9 264.4h0M1269.7 313.4h0M1292.6 411.4h0M1308.4 509.4h0M1320.4 607.4h0M1331.8 705.3h0M1342.3 803.3h0" stroke="#ff0000" stroke-width="12.2" stroke-linecap="round" fill="none"/>
<path d="M1120.5,19.5 L1120.6,23.4 L1120.8,27.3 L1120.9,31.3 L1121.1,35.2 L1121.2,39.1 L1121.4,43 L1121.6,48.9 L1122,58.7 L1122.3,68.5 L1132.8,78.3 L1141.5,88.1 L1150.5,97.9 L1157.6,107.7 L1163.7,117.5 L1176.7,137.1 L1191.2,156.7 L1211.3,176.3 L1224.9,195.9 L1236.4,215.4 L1259.5,264.4 L1264.5,313.4 L1290.1,411.4 L1305.3,509.4 L1317.6,607.4 L1329.4,705.3 L1339.9,803.3" fill="none" stroke="#008000" stroke-width="2.8" stroke-linejoin="round"/>
<path d="M1120.5 19.5h0M1120.6 23.4h0M1120.8 27.3h0M1120.9 31.3h0M1121.1 35.2h0M1121.2 39.1h0M1121.4 43h0M1121.6 48.9h0M1122 58.7h0M1122.3 68.5h0M1132.8 78.3h0M1141.5 88.1h0M1150.5 97.9h0M1157.6 107.7h0M1163.7 117.5h0M1176.7 137.1h0M1191.2 156.7h0M1211.3 176.3h0M1224.9 195.9h0M1236.4 215.4h0M1259.5 264.4h0M1264.5 313.4h0M1290.1 411.4h0M1305.3 509.4h0M1317.6 607.4h0M1329.4 705.3h0M1339.9 803.3h0" stroke="#008000" stroke-width="12.2" stroke-linecap="round" fill="none"/>
<path d="M1119.9,20.5 L1120,22.5 L1120.1,24.7 L1120.1,27 L1120.2,29.5 L1120.3,32.1 L1120.4,35 L1120.6,38.3 L1120.7,41.8 L1120.9,45.9 L1121,50.5 L1121.2,55.7 L1121.4,61.8 L1121.7,68.9 L1123,77.2 L1125.1,87 L1141.5,98.6 L1166.5,112.3 L1182.3,128.8 L1197.4,148.4 L1211.3,172.1 L1224.9,200.4 L1240.4,234.5 L1256.4,275.5 L1272.8,324.9 L1287,384.2 L1300,455.4 L1308.4,540.8 L1319.5,642.9 L1334.3,764.5 L1350.1,909" fill="none" stroke="#ff00ff" stroke-width="2.8" stroke-linejoin="round"/>
<path d="M1119.9 20.5h0M1120 22.5h0M1120.1 24.7h0M1120.1 27h0M1120.2 29.5h0M1120.3 32.1h0M1120.4 35h0M1120.6 38.3h0M1120.7 41.8h0M1120.9 45.9h0M1121 50.5h0M1121.2 55.7h0M1121.4 61.8h0M1121.7 68.9h0M1123 77.2h0M1125.1 87h0M1141.5 98.6h0M1166.5 112.3h0M1182.3 128.8h0M1197.4 148.4h0M1211.3 172.1h0M1224.9 200.4h0M1240.4 234.5h0M1256.4 275.5h0M1272.8 324.9h0M1287 384.2h0M1300 455.4h0M1308.4 540.8h0M1319.5 642.9h0M1334.3 764.5h0" stroke="#ff00ff" stroke-width="12.2" stroke-linecap="round" fill="none"/>
</g>
<rect x="1083.4" y="19.5" width="384.9" height="783.8" class="sp"/>
<line x1="1077.1" y1="19.5" x2="1083.4" y2="19.5" class="tk"/>
<line x1="1077.1" y1="68.5" x2="1083.4" y2="68.5" class="tk"/>
<line x1="1077.1" y1="117.5" x2="1083.4" y2="117.5" class="tk"/>
<line x1="1077.1" y1="166.5" x2="1083.4" y2="166.5" class="tk"/>
<line x1="1077.1" y1="215.4" x2="1083.4" y2="215.4" class="tk"/>
<line x1="1077.1" y1="264.4" x2="1083.4" y2="264.4" class="tk"/>
<line x1="1077.1" y1="313.4" x2="1083.4" y2="313.4" class="tk"/>
<line x1="1077.1" y1="362.4" x2="1083.4" y2="362.4" class="tk"/>
<line x1="1077.1" y1="411.4" x2="1083.4" y2="411.4" class="tk"/>
<line x1="1077.1" y1="460.4" x2="1083.4" y2="460.4" class="tk"/>
<line x1="1077.1" y1="509.4" x2="1083.4" y2="509.4" class="tk"/>
<line x1="1077.1" y1="558.4" x2="1083.4" y2="558.4" class="tk"/>
<line x1="1077.1" y1="607.4" x2="1083.4" y2="607.4" class="tk"/>
<line x1="1077.1" y1="656.3" x2="1083.4" y2="656.3" class="tk"/>
<line x1="1077.1" y1="705.3" x2="1083.4" y2="705.3" class="tk"/>
<line x1="1077.1" y1="754.3" x2="1083.4" y2="754.3" class="tk"/>
<line x1="1138.4" y1="803.3" x2="1138.4" y2="809.6" class="tk"/>
<line x1="1200.2" y1="803.3" x2="1200.2" y2="809.6" class="tk"/>
<line x1="1262" y1="803.3" x2="1262" y2="809.6" class="tk"/>
<line x1="1323.8" y1="803.3" x2="1323.8" y2="809.6" class="tk"/>
<line x1="1385.6" y1="803.3" x2="1385.6" y2="809.6" class="tk"/>
<line x1="1447.4" y1="803.3" x2="1447.4" y2="809.6" class="tk"/>
<text x="75.5" y="27.1" font-size="17.6" text-anchor="end" textLength="9.6" lengthAdjust="spacingAndGlyphs">0</text>
<text x="74" y="76.1" font-size="17.6" text-anchor="end" textLength="20.2" lengthAdjust="spacingAndGlyphs">25</text>
<text x="74" y="125.1" font-size="17.6" text-anchor="end" textLength="20.2" lengthAdjust="spacingAndGlyphs">50</text>
<text x="74" y="174.1" font-size="17.6" text-anchor="end" textLength="20.2" lengthAdjust="spacingAndGlyphs">75</text>
<text x="74" y="223" font-size="17.6" text-anchor="end" textLength="30.8" lengthAdjust="spacingAndGlyphs">100</text>
<text x="74" y="272" font-size="17.6" text-anchor="end" textLength="30.8" lengthAdjust="spacingAndGlyphs">125</text>
<text x="74" y="321" font-size="17.6" text-anchor="end" textLength="30.8" lengthAdjust="spacingAndGlyphs">150</text>
<text x="74" y="370" font-size="17.6" text-anchor="end" textLength="30.8" lengthAdjust="spacingAndGlyphs">175</text>
<text x="74" y="419" font-size="17.6" text-anchor="end" textLength="30.8" lengthAdjust="spacingAndGlyphs">200</text>
<text x="74" y="468" font-size="17.6" text-anchor="end" textLength="30.8" lengthAdjust="spacingAndGlyphs">225</text>
<text x="74" y="517" font-size="17.6" text-anchor="end" textLength="30.8" lengthAdjust="spacingAndGlyphs">250</text>
<text x="74" y="566" font-size="17.6" text-anchor="end" textLength="30.8" lengthAdjust="spacingAndGlyphs">275</text>
<text x="74" y="615" font-size="17.6" text-anchor="end" textLength="30.8" lengthAdjust="spacingAndGlyphs">300</text>
<text x="74" y="663.9" font-size="17.6" text-anchor="end" textLength="30.8" lengthAdjust="spacingAndGlyphs">325</text>
<text x="74" y="712.9" font-size="17.6" text-anchor="end" textLength="30.8" lengthAdjust="spacingAndGlyphs">350</text>
<text x="74" y="761.9" font-size="17.6" text-anchor="end" textLength="30.8" lengthAdjust="spacingAndGlyphs">375</text>
<text x="162.3" y="829.5" font-size="17.6" text-anchor="middle" textLength="20.2" lengthAdjust="spacingAndGlyphs">10</text>
<text x="237" y="829.5" font-size="17.6" text-anchor="middle" textLength="20.2" lengthAdjust="spacingAndGlyphs">15</text>
<text x="311.8" y="829.5" font-size="17.6" text-anchor="middle" textLength="20.2" lengthAdjust="spacingAndGlyphs">20</text>
<text x="386.5" y="829.5" font-size="17.6" text-anchor="middle" textLength="20.2" lengthAdjust="spacingAndGlyphs">25</text>
<text x="461.2" y="829.5" font-size="17.6" text-anchor="middle" textLength="20.2" lengthAdjust="spacingAndGlyphs">30</text>
<text x="668.4" y="829.5" font-size="17.6" text-anchor="middle" textLength="20.2" lengthAdjust="spacingAndGlyphs">34</text>
<text x="757.8" y="829.5" font-size="17.6" text-anchor="middle" textLength="20.2" lengthAdjust="spacingAndGlyphs">35</text>
<text x="847.2" y="829.5" font-size="17.6" text-anchor="middle" textLength="20.2" lengthAdjust="spacingAndGlyphs">36</text>
<text x="936.6" y="829.5" font-size="17.6" text-anchor="middle" textLength="20.2" lengthAdjust="spacingAndGlyphs">37</text>
<text x="1138.4" y="838" font-size="17.6" text-anchor="middle" textLength="41.4" lengthAdjust="spacingAndGlyphs" transform="rotate(-45 1138.4 838)" dominant-baseline="central">1022</text>
<text x="1200.2" y="838" font-size="17.6" text-anchor="middle" textLength="41.4" lengthAdjust="spacingAndGlyphs" transform="rotate(-45 1200.2 838)" dominant-baseline="central">1024</text>
<text x="1262" y="838" font-size="17.6" text-anchor="middle" textLength="41.4" lengthAdjust="spacingAndGlyphs" transform="rotate(-45 1262 838)" dominant-baseline="central">1026</text>
<text x="1323.8" y="838" font-size="17.6" text-anchor="middle" textLength="41.4" lengthAdjust="spacingAndGlyphs" transform="rotate(-45 1323.8 838)" dominant-baseline="central">1028</text>
<text x="1385.6" y="838" font-size="17.6" text-anchor="middle" textLength="41.4" lengthAdjust="spacingAndGlyphs" transform="rotate(-45 1385.6 838)" dominant-baseline="central">1030</text>
<text x="1447.4" y="838" font-size="17.6" text-anchor="middle" textLength="41.4" lengthAdjust="spacingAndGlyphs" transform="rotate(-45 1447.4 838)" dominant-baseline="central">1032</text>
<text x="171" y="859.5" font-size="22.2" text-anchor="start" font-weight="bold" textLength="166" lengthAdjust="spacingAndGlyphs">Temperature</text>
<text x="344.6" y="859.5" font-size="22.2" text-anchor="start" font-weight="bold" textLength="8.5" lengthAdjust="spacingAndGlyphs">(</text>
<text x="353.3" y="850.8" font-size="15.5" text-anchor="start" font-style="italic" textLength="8.8" lengthAdjust="spacingAndGlyphs">o</text>
<text x="364.5" y="859.7" font-size="22.2" text-anchor="start" font-style="italic" textLength="16.5" lengthAdjust="spacingAndGlyphs">C</text>
<text x="380.8" y="859.5" font-size="22.2" text-anchor="start" font-weight="bold" textLength="8.5" lengthAdjust="spacingAndGlyphs">)</text>
<text x="731" y="858.2" font-size="22.2" text-anchor="start" font-weight="bold" textLength="93" lengthAdjust="spacingAndGlyphs">Salinity</text>
<text x="1170.5" y="884" font-size="22.2" text-anchor="start" font-weight="bold" textLength="210" lengthAdjust="spacingAndGlyphs">Density (kg m-3)</text>
<text x="30.5" y="412.7" font-size="22.2" font-weight="bold" text-anchor="middle" textLength="126" lengthAdjust="spacingAndGlyphs" transform="rotate(-90 30.5 412.7)">Depth (m)</text>
<text x="1543.5" y="36.8" font-size="22.2" text-anchor="start" font-weight="bold" textLength="378.9" lengthAdjust="spacingAndGlyphs">Comparison Date: 2025-10-24</text>
<text x="1543.5" y="89.7" font-size="22.2" text-anchor="start" font-weight="bold" textLength="169.1" lengthAdjust="spacingAndGlyphs">Glider: sg663</text>
<text x="1543.5" y="116" font-size="22.2" text-anchor="start" font-weight="bold" textLength="128.8" lengthAdjust="spacingAndGlyphs">Profiles: 9</text>
<text x="1543.5" y="142.8" font-size="22.2" text-anchor="start" font-weight="bold" textLength="338.7" lengthAdjust="spacingAndGlyphs">First: 2025-10-24 00:01:09</text>
<text x="1543.5" y="169.5" font-size="22.2" text-anchor="start" font-weight="bold" textLength="334.4" lengthAdjust="spacingAndGlyphs">Last: 2025-10-24 19:06:06</text>
<text x="1543.5" y="195.9" font-size="22.2" text-anchor="start" font-weight="bold" textLength="339.3" lengthAdjust="spacingAndGlyphs">Method: Nearest-Neighbor</text>
<rect x="1691" y="637" width="165" height="143.5" rx="4" ry="4" fill="#fff" fill-opacity="0.8" stroke="#cccccc" stroke-width="1.1"/>
<line x1="1699" y1="656.4" x2="1746.7" y2="656.4" stroke="#0000ff" stroke-width="2.1"/>
<circle cx="1723.3" cy="656.4" r="6" fill="#0000ff"/>
<text x="1764.5" y="664.4" font-size="22.2" text-anchor="start" textLength="67.5" lengthAdjust="spacingAndGlyphs">sg663</text>
<line x1="1699" y1="690.7" x2="1746.7" y2="690.7" stroke="#ff0000" stroke-width="2.1"/>
<circle cx="1723.3" cy="690.7" r="6" fill="#ff0000"/>
<text x="1764.5" y="698.7" font-size="22.2" text-anchor="start" textLength="71.4" lengthAdjust="spacingAndGlyphs">RTOFS</text>
<line x1="1699" y1="724.9" x2="1746.7" y2="724.9" stroke="#008000" stroke-width="2.1"/>
<circle cx="1723.3" cy="724.9" r="6" fill="#008000"/>
<text x="1764.5" y="732.9" font-size="22.2" text-anchor="start" textLength="56.9" lengthAdjust="spacingAndGlyphs">ESPC</text>
<line x1="1699" y1="759.2" x2="1746.7" y2="759.2" stroke="#ff00ff" stroke-width="2.1"/>
<circle cx="1723.3" cy="759.2" r="6" fill="#ff00ff"/>
<text x="1764.5" y="767.2" font-size="22.2" text-anchor="start" textLength="82.1" lengthAdjust="spacingAndGlyphs">CMEMS</text>
<text x="275.5" y="917.7" font-size="16.67" text-anchor="start" font-style="italic" textLength="172" lengthAdjust="spacingAndGlyphs">Ocean Heat Content</text>
<text x="456.5" y="917.7" font-size="16.67" text-anchor="start" font-style="italic" textLength="86.5" lengthAdjust="spacingAndGlyphs">(kJ/cm^2)</text>
<text x="550.3" y="917.7" font-size="16.67" text-anchor="start" font-style="italic" textLength="109.2" lengthAdjust="spacingAndGlyphs">- Glider: N/A,</text>
<text x="671.8" y="917.7" font-size="16.67" text-anchor="start" font-style="italic" textLength="146.2" lengthAdjust="spacingAndGlyphs">RTOFS: 98.8102,</text>
<text x="829" y="917.7" font-size="16.67" text-anchor="start" font-style="italic" textLength="132" lengthAdjust="spacingAndGlyphs">ESPC: 89.6814,</text>
<text x="973.3" y="917.7" font-size="16.67" text-anchor="start" font-style="italic" textLength="150.7" lengthAdjust="spacingAndGlyphs">CMEMS: 95.6109,</text>
<text x="1136.3" y="917.7" font-size="16.67" text-anchor="start" font-style="italic" textLength="162.7" lengthAdjust="spacingAndGlyphs">NESDIS: 105.5159,</text>
<rect x="1581.4" y="305.4" width="385" height="210.3" fill="#97b6e1"/>
<clipPath id="cm"><rect x="1581.4" y="305.4" width="385" height="210.3"/></clipPath>
<g clip-path="url(#cm)">
<path d="M1581.4,333.0 L1585.1,331.8 L1592.1,330.0 L1599.2,329.4 L1605.1,329.4 L1608.6,331.2 L1609.8,335.3 L1608.0,340.0 L1605.1,343.6 L1602.7,347.1 L1601.0,351.8 L1599.2,356.5 L1598.0,361.2 L1595.7,366.0 L1593.3,369.5 L1592.1,373.0 L1591.0,377.7 L1591.0,382.4 L1591.5,387.2 L1589.8,391.9 L1587.4,396.6 L1585.1,400.1 L1583.5,402.5 L1588.3,405.1 L1597.3,404.5 L1610.1,403.9 L1619.1,403.2 L1629.4,403.2 L1637.1,405.1 L1642.2,407.7 L1647.3,410.3 L1652.5,414.1 L1653.8,416.1 L1651.8,420.5 L1651.2,425.7 L1649.9,432.1 L1648.6,438.5 L1648.0,444.9 L1647.3,451.4 L1646.1,457.8 L1644.8,462.9 L1646.1,466.8 L1648.6,470.6 L1652.5,475.8 L1657.6,482.2 L1662.8,487.3 L1667.9,489.9 L1673.0,492.5 L1678.2,492.5 L1684.6,489.9 L1691.0,487.3 L1696.1,484.8 L1701.3,483.5 L1706.4,484.1 L1712.8,486.0 L1715.7,488.5 L1722.1,493.9 L1727.5,498.1 L1731.7,501.4 L1730.7,497.1 L1735.0,494.9 L1741.4,488.5 L1745.7,484.2 L1747.8,478.9 L1748.3,473.5 L1752.1,469.2 L1756.4,465.0 L1759.6,467.1 L1762.8,469.2 L1764.9,462.8 L1769.2,462.3 L1775.6,462.3 L1782.1,458.5 L1788.5,454.3 L1790.6,451.0 L1796.0,447.8 L1801.3,450.0 L1802.9,453.2 L1799.2,456.4 L1793.8,458.5 L1792.8,460.7 L1797.0,467.1 L1801.3,466.0 L1807.7,462.8 L1814.2,460.7 L1820.6,459.6 L1827.0,460.1 L1833.4,461.7 L1837.7,465.0 L1838.8,469.2 L1840.9,472.5 L1847.4,472.5 L1853.8,471.4 L1860.2,470.8 L1865.5,471.4 L1869.8,474.6 L1875.2,476.7 L1877.4,476.5 L1886.8,474.1 L1891.5,470.6 L1898.6,468.9 L1905.6,469.4 L1915.1,468.9 L1924.5,468.5 L1915.1,472.9 L1911.5,478.8 L1917.4,481.2 L1926.8,485.9 L1931.5,492.9 L1936.2,497.6 L1945.6,500.0 L1955.1,507.1 L1959.8,514.5 L1960.5,519.0 L1721.8,519.0 L1719.3,513.0 L1714.1,505.3 L1711.6,501.4 L1705.0,497.5 L1700.0,496.2 L1696.1,495.0 L1693.6,502.7 L1691.0,510.4 L1685.9,513.0 L1680.7,510.4 L1678.2,506.6 L1673.0,509.2 L1667.9,506.6 L1661.5,501.5 L1655.1,498.9 L1649.9,496.3 L1647.3,492.5 L1643.5,489.9 L1639.6,486.0 L1634.5,482.2 L1631.9,483.5 L1628.1,480.9 L1625.5,477.1 L1621.7,477.1 L1620.4,471.9 L1621.7,466.8 L1619.1,464.2 L1615.2,460.4 L1610.1,453.9 L1606.3,448.8 L1602.4,444.9 L1598.5,441.1 L1593.4,438.5 L1588.3,437.2 L1578.0,436.6 L1578.0,333.0Z" fill="#d2b48c" stroke="#000" stroke-width="2.3" stroke-linejoin="round"/>
<path d="M1796.5,468.5 L1793.5,474.0 L1790.6,481.0 L1793.0,487.0 L1797.0,490.5 L1802.0,489.0 L1804.0,484.0 L1803.0,478.0 L1800.0,472.0Z" fill="#97b6e1" stroke="#000" stroke-width="1.9"/>
<path d="M1611.4,448.2 L1616.0,449.5 L1624.0,455.0 L1631.9,462.5 L1630.0,464.5 L1622.0,462.0 L1615.0,456.0 L1611.0,450.5Z" fill="#b5b9c2" stroke="#97b6e1" stroke-width="0.8"/>
<path d="M1631.4,326.0 L1636.8,322.3 L1641.1,318.5 L1646.4,315.3 L1652.8,312.6 L1659.3,310.5 L1665.7,309.6 L1672.1,308.9 L1678.5,307.8 L1685.0,308.4 L1691.4,310.0 L1697.8,313.2 L1704.2,316.4 L1710.7,318.5 L1717.1,321.2 L1721.4,324.4 L1726.7,328.7 L1732.1,331.9 L1738.5,334.6 L1744.9,336.7 L1749.2,338.3 L1753.5,341.0 L1759.9,344.2 L1765.3,347.4 L1764.2,349.6 L1758.8,350.1 L1753.5,351.7 L1748.1,352.3 L1742.8,352.3 L1737.4,352.3 L1732.1,352.8 L1726.7,353.3 L1721.4,353.3 L1722.4,350.1 L1726.7,345.8 L1728.9,343.7 L1725.6,342.6 L1721.4,343.7 L1717.1,342.6 L1713.9,339.4 L1711.7,335.1 L1709.6,330.8 L1706.4,329.8 L1702.1,329.2 L1697.8,328.7 L1693.5,327.6 L1689.2,325.5 L1685.0,323.3 L1680.7,322.3 L1676.4,321.2 L1673.2,319.1 L1671.0,316.9 L1667.8,316.4 L1663.5,316.4 L1660.3,316.9 L1657.1,318.5 L1653.9,320.1 L1650.7,322.3 L1646.4,324.4 L1641.1,326.0 L1636.8,327.6Z" fill="#d2b48c" stroke="#000" stroke-width="2.2" stroke-linejoin="round"/>
<path d="M1712.8,372.6 L1717.1,370.5 L1723.5,370.5 L1729.9,371.5 L1736.3,374.2 L1740.1,376.9 L1739.6,379.0 L1732.1,379.0 L1727.8,380.6 L1723.5,379.0 L1719.2,377.9 L1714.9,375.8Z" fill="#d2b48c" stroke="#000" stroke-width="2.2" stroke-linejoin="round"/>
<path d="M1773.9,353.3 L1779.3,350.1 L1784.6,351.2 L1790.0,353.3 L1795.3,352.8 L1800.7,352.3 L1806.0,352.3 L1811.4,353.9 L1817.8,355.5 L1820.0,358.7 L1824.2,359.7 L1827.5,361.4 L1832.8,364.0 L1837.1,367.2 L1838.2,370.5 L1836.0,373.7 L1833.9,375.8 L1830.7,374.7 L1824.2,373.7 L1817.8,373.7 L1813.5,373.1 L1809.3,373.7 L1806.0,372.6 L1802.8,375.8 L1799.6,380.1 L1796.9,382.8 L1795.3,378.0 L1793.2,373.7 L1790.0,371.5 L1786.8,371.5 L1781.4,371.5 L1776.1,372.6 L1770.7,375.8 L1766.4,374.7 L1762.1,372.6 L1761.6,370.5 L1765.4,368.8 L1770.7,368.8 L1776.1,369.4 L1781.4,369.4 L1785.7,369.4 L1786.8,367.2 L1783.6,365.1 L1782.5,361.9 L1781.4,358.7 L1776.1,356.5 L1773.9,355.5Z" fill="#d2b48c" stroke="#000" stroke-width="2.2" stroke-linejoin="round"/>
<path d="M1851.0,371.5 L1856.4,371.0 L1862.8,371.0 L1869.2,371.5 L1872.4,372.6 L1871.3,375.8 L1867.1,378.0 L1860.6,378.0 L1854.2,378.0 L1851.0,375.8Z" fill="#d2b48c" stroke="#000" stroke-width="2.2" stroke-linejoin="round"/>
<path d="M1922.0,468.6 L1929.8,468.0 L1930.0,476.5 L1923.5,477.0 L1921.5,474.0Z" fill="#d2b48c" stroke="#000" stroke-width="2.2" stroke-linejoin="round"/>
<path d="M1814.5,455.5 L1815.5,452.5 L1817.5,452.2 L1818.8,454.5 L1818.5,457.5 L1816.0,458.0Z" fill="#d2b48c" stroke="#000" stroke-width="2.2" stroke-linejoin="round"/>
<path d="M1771.2,337.3 L1773.0,335.8 L1776.0,335.2 L1778.6,335.6 L1778.0,337.8 L1774.5,339.2 L1772.0,338.8Z" fill="#d2b48c" stroke="#000" stroke-width="2.2" stroke-linejoin="round"/>
<path d="M1646.4,315.3 L1652.8,312.6 L1659.3,310.5 L1665.7,309.6 L1672.1,308.9 L1678.5,307.8 L1685.0,308.4 L1691.4,310.0 L1697.8,313.2 L1704.2,316.4 L1710.7,318.5 L1717.1,321.2 L1721.4,324.4 L1726.7,328.7 L1732.1,331.9 L1738.5,334.6 L1744.9,336.7 L1749.2,338.3 L1753.5,341.0 L1759.9,344.2 L1765.3,347.4" fill="none" stroke="#000" stroke-width="2.4" stroke-linejoin="round"/>
<path d="M1685.0,308.4 L1691.4,310.0 L1697.8,313.2 L1704.2,316.4 L1710.7,318.5 L1717.1,321.2 L1721.4,324.4 L1726.7,328.7 L1732.1,331.9 L1738.5,334.6 L1744.9,336.7" fill="none" stroke="#000" stroke-width="3.6" stroke-linejoin="round" stroke-linecap="round"/>
<path d="M1756.9,466.0 L1755.8,473.5 L1756.9,484.2 L1762.8,489.6 L1769.2,493.9 L1769.2,503.5 L1768.7,515.3" fill="none" stroke="#97b6e1" stroke-width="1.7"/>
<path d="M1868.0,507.1 L1882.1,505.9 L1896.2,500.0 L1910.4,497.6 L1919.8,492.9 L1926.8,491.8" fill="none" stroke="#97b6e1" stroke-width="1.7"/>
<path d="M1911.5,481.2 L1913.0,486.0 L1915.1,490.6" fill="none" stroke="#97b6e1" stroke-width="1.7"/>
<path d="M1918.6,483.5 L1915.1,490.6" fill="none" stroke="#97b6e1" stroke-width="1.7"/>
<path d="M1853.8,515.3 L1861.3,508.8 L1872.0,505.6 L1880.0,506.7" fill="none" stroke="#97b6e1" stroke-width="1.7"/>
<path d="M1611.0,434.5 L1617.0,435.0 L1621.0,433.0 L1626.0,426.0 L1632.0,420.0" fill="none" stroke="#97b6e1" stroke-width="1.7"/>
<path d="M1652.5,414.1 L1644.8,416.7 L1637.1,419.3 L1631.9,419.3 L1626.8,423.1 L1620.4,429.5 L1614.0,432.1 L1608.8,434.7 L1603.7,438.5" fill="none" stroke="#000" stroke-width="1.9" stroke-dasharray="5 3"/>
<path d="M1621.7,464.2 L1629.4,465.5 L1638.4,468.1 L1646.1,470.0" fill="none" stroke="#000" stroke-width="1.9" stroke-dasharray="5 3"/>
<path d="M1581.6,412.8 L1585.7,410.3" fill="none" stroke="#000" stroke-width="1.9" stroke-dasharray="5 3"/>
<path d="M1581.6,425.7 L1588.3,428.3 L1597.3,430.8 L1603.7,434.7" fill="none" stroke="#000" stroke-width="1.9" stroke-dasharray="5 3"/>
<path d="M1657.6,484.8 L1656.3,492.5 L1655.1,497.6" fill="none" stroke="#000" stroke-width="1.9" stroke-dasharray="5 3"/>
<path d="M1790.6,462.8 L1784.2,467.1 L1781.0,473.5 L1778.8,482.1 L1775.6,488.5 L1782.1,490.6 L1786.3,499.2 L1787.4,505.6 L1790.6,514.2" fill="none" stroke="#000" stroke-width="1.9" stroke-dasharray="5 3"/>
<path d="M1724.3,501.4 L1722.1,507.8 L1718.9,509.9" fill="none" stroke="#000" stroke-width="1.9" stroke-dasharray="5 3"/>
<path d="M1936.2,497.6 L1933.9,504.7 L1936.2,514.1" fill="none" stroke="#000" stroke-width="1.9" stroke-dasharray="5 3"/>
<path d="M1795.3,352.8 L1795.5,360.0 L1794.8,366.0 L1795.3,372.0" fill="none" stroke="#000" stroke-width="1.9" stroke-dasharray="5 3"/>
<path d="M1592.0,382.0 L1586.0,386.0 L1583.0,388.0" fill="none" stroke="#000" stroke-width="1.9" stroke-dasharray="5 3"/>
<g fill="#000"><ellipse cx="1657.1" cy="328.7" rx="2.6" ry="2.2"/><ellipse cx="1677.5" cy="359.7" rx="2.4" ry="1.6"/><ellipse cx="1694" cy="354.9" rx="3" ry="1.3"/><ellipse cx="1675.8" cy="436.2" rx="1.2" ry="1.2"/><ellipse cx="1671.8" cy="446.5" rx="1.2" ry="1.2"/><ellipse cx="1903.3" cy="375.3" rx="1.6" ry="1.6"/><ellipse cx="1906.8" cy="384.7" rx="1.2" ry="1.6"/><ellipse cx="1911.5" cy="391.8" rx="1.2" ry="1.2"/><ellipse cx="1918.6" cy="381.2" rx="1.8" ry="2"/><ellipse cx="1918.6" cy="388.9" rx="2.2" ry="1.6"/><ellipse cx="1922.1" cy="400" rx="2.6" ry="2.6"/><ellipse cx="1924.5" cy="409.4" rx="1.8" ry="3"/><ellipse cx="1928" cy="420" rx="2.4" ry="3"/><ellipse cx="1929.2" cy="429.4" rx="1.8" ry="2.6"/><ellipse cx="1926.4" cy="438.8" rx="1.6" ry="2.6"/><ellipse cx="1923.3" cy="447.1" rx="1.6" ry="3"/><ellipse cx="1920.2" cy="452.9" rx="1.4" ry="2"/><ellipse cx="1946.8" cy="438.8" rx="2" ry="2.2"/><ellipse cx="1932.7" cy="462.4" rx="2.6" ry="1.6"/><ellipse cx="1875.1" cy="467.1" rx="2" ry="1.2"/><ellipse cx="1884.5" cy="455.3" rx="1.3" ry="1"/><ellipse cx="1902.1" cy="461.2" rx="1.4" ry="1.2"/><ellipse cx="1890" cy="467" rx="3" ry="2.4"/><ellipse cx="1816.3" cy="446.8" rx="1.6" ry="1.6"/><ellipse cx="1829.2" cy="451" rx="2.4" ry="1.4"/><ellipse cx="1837.7" cy="451.6" rx="1.8" ry="1.6"/><ellipse cx="1846.3" cy="454.3" rx="1.2" ry="1"/><ellipse cx="1857" cy="455.3" rx="2.6" ry="1.8"/><ellipse cx="1864.5" cy="456.4" rx="1.4" ry="1"/><ellipse cx="1875.2" cy="467.1" rx="2.4" ry="1.4"/><ellipse cx="1882.1" cy="380.6" rx="1.8" ry="1.2"/><ellipse cx="1883" cy="369.5" rx="5" ry="1.3"/><ellipse cx="1662" cy="325" rx="3" ry="1"/><ellipse cx="1770.7" cy="310.1" rx="1.6" ry="1.2"/><ellipse cx="1773.1" cy="316.6" rx="1.2" ry="1"/><ellipse cx="1644" cy="384.8" rx="0.9" ry="0.9"/><ellipse cx="1651" cy="403.7" rx="2" ry="2"/><ellipse cx="1658.1" cy="422.5" rx="2" ry="2.4"/><ellipse cx="1608" cy="397" rx="2" ry="1"/><ellipse cx="1616" cy="396.5" rx="3.5" ry="1.2"/><ellipse cx="1603.6" cy="344.6" rx="1.8" ry="2.4"/><ellipse cx="1596.4" cy="358" rx="1.8" ry="3.4"/><ellipse cx="1592" cy="372" rx="1.6" ry="3"/><ellipse cx="1590" cy="385" rx="1.5" ry="3"/><ellipse cx="1587" cy="397" rx="1.4" ry="2"/><ellipse cx="1779.3" cy="366.2" rx="3.2" ry="1.7"/><ellipse cx="1824.2" cy="360.3" rx="2.8" ry="1.6"/><ellipse cx="1799" cy="330" rx="1.2" ry="1.5"/><ellipse cx="1802" cy="332.5" rx="1" ry="2.5"/></g>
<path d="M1750.9,308.7 L1745.6,311.1 L1743.4,314.5 L1743.9,318.3 L1745.6,321.7 L1746.6,323.6" fill="none" stroke="#000" stroke-width="2.4" stroke-linecap="round"/>
<path d="M1751.9,308.7 L1754.0,310.5 L1756.2,312.5" fill="none" stroke="#000" stroke-width="3.0" stroke-linecap="round"/>
<path d="M1742.0,305.8 L1746.0,306.2 L1750.5,306.0" fill="none" stroke="#000" stroke-width="1.2" stroke-linecap="round"/>
<path d="M1762.5,314.0 L1766.0,314.5 L1768.7,315.4 L1766.5,318.5 L1764.9,321.2 L1763.0,322.7" fill="none" stroke="#000" stroke-width="3.0" stroke-linecap="round"/>
<path d="M1777.4,319.3 L1780.0,319.6 L1783.2,320.2" fill="none" stroke="#000" stroke-width="2.6" stroke-linecap="round"/>
<path d="M1786.1,329.4 L1789.5,326.0 L1792.8,325.1 L1797.2,327.0 L1799.1,329.4 L1797.7,333.7 L1796.2,335.2" fill="none" stroke="#000" stroke-width="3.0" stroke-linecap="round"/>
<path d="M1803.0,331.3 L1802.0,334.7" fill="none" stroke="#000" stroke-width="2.2" stroke-linecap="round"/>
<path d="M1780.3,330.8 L1779.3,333.0 L1778.4,335.5" fill="none" stroke="#000" stroke-width="2.6" stroke-linecap="round"/>
<path d="M1877.8,372.6 L1882.0,370.5 L1888.5,367.2" fill="none" stroke="#000" stroke-width="2.6" stroke-linecap="round"/>
<path d="M1602.7,347.1 L1601.0,351.8 L1599.2,356.5 L1598.0,361.2 L1595.7,366.0 L1593.3,369.5 L1592.1,373.0 L1591.0,377.7 L1591.0,382.4 L1591.5,387.2 L1589.8,391.9" fill="none" stroke="#000" stroke-width="3.4" stroke-linecap="round"/>
<circle cx="1853.1" cy="380.6" r="4.1" fill="#ff0000" stroke="#000" stroke-width="0.9"/>
</g>
<g stroke="#000"><line x1="1581.8" y1="305.4" x2="1581.8" y2="302" stroke-width="1.8"/><line x1="1581.8" y1="515.7" x2="1581.8" y2="519.1" stroke-width="1.8"/><line x1="1594.2" y1="305.4" x2="1594.2" y2="302" stroke-width="1.8"/><line x1="1594.2" y1="515.7" x2="1594.2" y2="519.1" stroke-width="1.8"/><line x1="1606.7" y1="305.4" x2="1606.7" y2="302" stroke-width="1.8"/><line x1="1606.7" y1="515.7" x2="1606.7" y2="519.1" stroke-width="1.8"/><line x1="1619.1" y1="305.4" x2="1619.1" y2="302" stroke-width="1.8"/><line x1="1619.1" y1="515.7" x2="1619.1" y2="519.1" stroke-width="1.8"/><line x1="1631.5" y1="305.4" x2="1631.5" y2="296.6" stroke-width="2.8"/><line x1="1631.5" y1="515.7" x2="1631.5" y2="524.5" stroke-width="2.8"/><line x1="1643.9" y1="305.4" x2="1643.9" y2="302" stroke-width="1.8"/><line x1="1643.9" y1="515.7" x2="1643.9" y2="519.1" stroke-width="1.8"/><line x1="1656.3" y1="305.4" x2="1656.3" y2="302" stroke-width="1.8"/><line x1="1656.3" y1="515.7" x2="1656.3" y2="519.1" stroke-width="1.8"/><line x1="1668.8" y1="305.4" x2="1668.8" y2="302" stroke-width="1.8"/><line x1="1668.8" y1="515.7" x2="1668.8" y2="519.1" stroke-width="1.8"/><line x1="1681.2" y1="305.4" x2="1681.2" y2="302" stroke-width="1.8"/><line x1="1681.2" y1="515.7" x2="1681.2" y2="519.1" stroke-width="1.8"/><line x1="1693.6" y1="305.4" x2="1693.6" y2="296.6" stroke-width="2.8"/><line x1="1693.6" y1="515.7" x2="1693.6" y2="524.5" stroke-width="2.8"/><line x1="1706" y1="305.4" x2="1706" y2="302" stroke-width="1.8"/><line x1="1706" y1="515.7" x2="1706" y2="519.1" stroke-width="1.8"/><line x1="1718.4" y1="305.4" x2="1718.4" y2="302" stroke-width="1.8"/><line x1="1718.4" y1="515.7" x2="1718.4" y2="519.1" stroke-width="1.8"/><line x1="1730.9" y1="305.4" x2="1730.9" y2="302" stroke-width="1.8"/><line x1="1730.9" y1="515.7" x2="1730.9" y2="519.1" stroke-width="1.8"/><line x1="1743.3" y1="305.4" x2="1743.3" y2="302" stroke-width="1.8"/><line x1="1743.3" y1="515.7" x2="1743.3" y2="519.1" stroke-width="1.8"/><line x1="1755.7" y1="305.4" x2="1755.7" y2="296.6" stroke-width="2.8"/><line x1="1755.7" y1="515.7" x2="1755.7" y2="524.5" stroke-width="2.8"/><line x1="1768.1" y1="305.4" x2="1768.1" y2="302" stroke-width="1.8"/><line x1="1768.1" y1="515.7" x2="1768.1" y2="519.1" stroke-width="1.8"/><line x1="1780.5" y1="305.4" x2="1780.5" y2="302" stroke-width="1.8"/><line x1="1780.5" y1="515.7" x2="1780.5" y2="519.1" stroke-width="1.8"/><line x1="1793" y1="305.4" x2="1793" y2="302" stroke-width="1.8"/><line x1="1793" y1="515.7" x2="1793" y2="519.1" stroke-width="1.8"/><line x1="1805.4" y1="305.4" x2="1805.4" y2="302" stroke-width="1.8"/><line x1="1805.4" y1="515.7" x2="1805.4" y2="519.1" stroke-width="1.8"/><line x1="1817.8" y1="305.4" x2="1817.8" y2="296.6" stroke-width="2.8"/><line x1="1817.8" y1="515.7" x2="1817.8" y2="524.5" stroke-width="2.8"/><line x1="1830.2" y1="305.4" x2="1830.2" y2="302" stroke-width="1.8"/><line x1="1830.2" y1="515.7" x2="1830.2" y2="519.1" stroke-width="1.8"/><line x1="1842.6" y1="305.4" x2="1842.6" y2="302" stroke-width="1.8"/><line x1="1842.6" y1="515.7" x2="1842.6" y2="519.1" stroke-width="1.8"/><line x1="1855.1" y1="305.4" x2="1855.1" y2="302" stroke-width="1.8"/><line x1="1855.1" y1="515.7" x2="1855.1" y2="519.1" stroke-width="1.8"/><line x1="1867.5" y1="305.4" x2="1867.5" y2="302" stroke-width="1.8"/><line x1="1867.5" y1="515.7" x2="1867.5" y2="519.1" stroke-width="1.8"/><line x1="1879.9" y1="305.4" x2="1879.9" y2="296.6" stroke-width="2.8"/><line x1="1879.9" y1="515.7" x2="1879.9" y2="524.5" stroke-width="2.8"/><line x1="1892.3" y1="305.4" x2="1892.3" y2="302" stroke-width="1.8"/><line x1="1892.3" y1="515.7" x2="1892.3" y2="519.1" stroke-width="1.8"/><line x1="1904.7" y1="305.4" x2="1904.7" y2="302" stroke-width="1.8"/><line x1="1904.7" y1="515.7" x2="1904.7" y2="519.1" stroke-width="1.8"/><line x1="1917.2" y1="305.4" x2="1917.2" y2="302" stroke-width="1.8"/><line x1="1917.2" y1="515.7" x2="1917.2" y2="519.1" stroke-width="1.8"/><line x1="1929.6" y1="305.4" x2="1929.6" y2="302" stroke-width="1.8"/><line x1="1929.6" y1="515.7" x2="1929.6" y2="519.1" stroke-width="1.8"/><line x1="1942" y1="305.4" x2="1942" y2="296.6" stroke-width="2.8"/><line x1="1942" y1="515.7" x2="1942" y2="524.5" stroke-width="2.8"/><line x1="1954.4" y1="305.4" x2="1954.4" y2="302" stroke-width="1.8"/><line x1="1954.4" y1="515.7" x2="1954.4" y2="519.1" stroke-width="1.8"/><line x1="1966.8" y1="305.4" x2="1966.8" y2="302" stroke-width="1.8"/><line x1="1966.8" y1="515.7" x2="1966.8" y2="519.1" stroke-width="1.8"/><line x1="1581.4" y1="504.8" x2="1578" y2="504.8" stroke-width="1.8"/><line x1="1966.4" y1="504.8" x2="1969.8" y2="504.8" stroke-width="1.8"/><line x1="1581.4" y1="492.2" x2="1578" y2="492.2" stroke-width="1.8"/><line x1="1966.4" y1="492.2" x2="1969.8" y2="492.2" stroke-width="1.8"/><line x1="1581.4" y1="479.6" x2="1572.6" y2="479.6" stroke-width="2.8"/><line x1="1966.4" y1="479.6" x2="1975.2" y2="479.6" stroke-width="2.8"/><line x1="1581.4" y1="467" x2="1578" y2="467" stroke-width="1.8"/><line x1="1966.4" y1="467" x2="1969.8" y2="467" stroke-width="1.8"/><line x1="1581.4" y1="454.3" x2="1578" y2="454.3" stroke-width="1.8"/><line x1="1966.4" y1="454.3" x2="1969.8" y2="454.3" stroke-width="1.8"/><line x1="1581.4" y1="441.6" x2="1578" y2="441.6" stroke-width="1.8"/><line x1="1966.4" y1="441.6" x2="1969.8" y2="441.6" stroke-width="1.8"/><line x1="1581.4" y1="428.8" x2="1578" y2="428.8" stroke-width="1.8"/><line x1="1966.4" y1="428.8" x2="1969.8" y2="428.8" stroke-width="1.8"/><line x1="1581.4" y1="416" x2="1572.6" y2="416" stroke-width="2.8"/><line x1="1966.4" y1="416" x2="1975.2" y2="416" stroke-width="2.8"/><line x1="1581.4" y1="403.1" x2="1578" y2="403.1" stroke-width="1.8"/><line x1="1966.4" y1="403.1" x2="1969.8" y2="403.1" stroke-width="1.8"/><line x1="1581.4" y1="390.1" x2="1578" y2="390.1" stroke-width="1.8"/><line x1="1966.4" y1="390.1" x2="1969.8" y2="390.1" stroke-width="1.8"/><line x1="1581.4" y1="377.1" x2="1578" y2="377.1" stroke-width="1.8"/><line x1="1966.4" y1="377.1" x2="1969.8" y2="377.1" stroke-width="1.8"/><line x1="1581.4" y1="364" x2="1578" y2="364" stroke-width="1.8"/><line x1="1966.4" y1="364" x2="1969.8" y2="364" stroke-width="1.8"/><line x1="1581.4" y1="350.8" x2="1572.6" y2="350.8" stroke-width="2.8"/><line x1="1966.4" y1="350.8" x2="1975.2" y2="350.8" stroke-width="2.8"/><line x1="1581.4" y1="337.6" x2="1578" y2="337.6" stroke-width="1.8"/><line x1="1966.4" y1="337.6" x2="1969.8" y2="337.6" stroke-width="1.8"/><line x1="1581.4" y1="324.2" x2="1578" y2="324.2" stroke-width="1.8"/><line x1="1966.4" y1="324.2" x2="1969.8" y2="324.2" stroke-width="1.8"/><line x1="1581.4" y1="310.8" x2="1578" y2="310.8" stroke-width="1.8"/><line x1="1966.4" y1="310.8" x2="1969.8" y2="310.8" stroke-width="1.8"/></g>
<text x="1564.3" y="488" font-size="22.3" text-anchor="end" textLength="52.8" lengthAdjust="spacingAndGlyphs">10°N</text>
<text x="1564.3" y="424.4" font-size="22.3" text-anchor="end" textLength="52.8" lengthAdjust="spacingAndGlyphs">15°N</text>
<text x="1564.3" y="359.2" font-size="22.3" text-anchor="end" textLength="52.8" lengthAdjust="spacingAndGlyphs">20°N</text>
<text x="1631.5" y="561.5" font-size="22.3" text-anchor="middle" textLength="54.5" lengthAdjust="spacingAndGlyphs" transform="rotate(-45 1631.5 561.5)" dominant-baseline="central">85°W</text>
<text x="1693.6" y="561.5" font-size="22.3" text-anchor="middle" textLength="54.5" lengthAdjust="spacingAndGlyphs" transform="rotate(-45 1693.6 561.5)" dominant-baseline="central">80°W</text>
<text x="1755.7" y="561.5" font-size="22.3" text-anchor="middle" textLength="54.5" lengthAdjust="spacingAndGlyphs" transform="rotate(-45 1755.7 561.5)" dominant-baseline="central">75°W</text>
<text x="1817.8" y="561.5" font-size="22.3" text-anchor="middle" textLength="54.5" lengthAdjust="spacingAndGlyphs" transform="rotate(-45 1817.8 561.5)" dominant-baseline="central">70°W</text>
<text x="1879.9" y="561.5" font-size="22.3" text-anchor="middle" textLength="54.5" lengthAdjust="spacingAndGlyphs" transform="rotate(-45 1879.9 561.5)" dominant-baseline="central">65°W</text>
<text x="1942" y="561.5" font-size="22.3" text-anchor="middle" textLength="54.5" lengthAdjust="spacingAndGlyphs" transform="rotate(-45 1942 561.5)" dominant-baseline="central">60°W</text>
<path d="M1581.4,333.3 V305.4 H1966.4 V515.7 H1581.4 V436.5" fill="none" stroke="#000" stroke-width="1.2"/>
</svg></body></html>
